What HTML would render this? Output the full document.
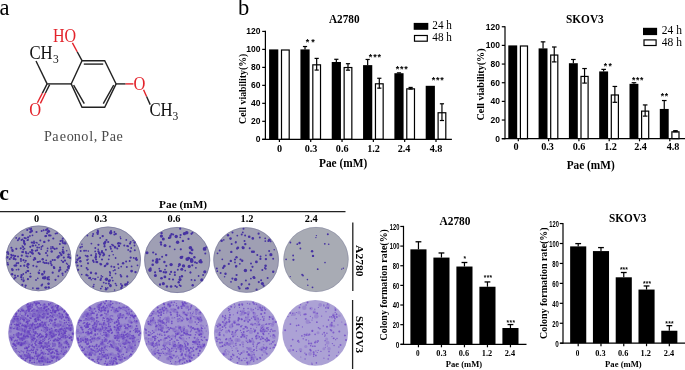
<!DOCTYPE html>
<html><head><meta charset="utf-8"><style>
html,body{margin:0;padding:0;background:#fff;}
svg{display:block;will-change:transform;}
</style></head><body>
<svg width="685" height="370" viewBox="0 0 685 370">
<rect width="685" height="370" fill="#fff"/>
<text x="-0.6" y="15.3" font-family="'Liberation Serif', serif" font-size="22.5" font-weight="normal" fill="#000" text-anchor="start" >a</text>
<path d="M82,60.7 L104.7,60.7 L116.1,83.9 L104.7,107.2 L82,107.2 L71.2,83.9 Z" fill="none" stroke="#222" stroke-width="1.4" stroke-linejoin="miter"/>
<line x1="83.80" y1="64.10" x2="103.20" y2="64.10" stroke="#222" stroke-width="1.4" />
<line x1="73.60" y1="85.20" x2="84.30" y2="103.60" stroke="#222" stroke-width="1.4" />
<line x1="113.70" y1="85.20" x2="103.30" y2="103.60" stroke="#222" stroke-width="1.4" />
<line x1="71.20" y1="83.90" x2="47.10" y2="83.90" stroke="#222" stroke-width="1.4" />
<line x1="47.10" y1="83.90" x2="36.00" y2="61.00" stroke="#222" stroke-width="1.4" />
<line x1="47.10" y1="83.90" x2="42.25" y2="93.35" stroke="#222" stroke-width="1.4" />
<line x1="42.25" y1="93.35" x2="37.40" y2="102.80" stroke="#e3232b" stroke-width="1.4" />
<line x1="49.60" y1="84.60" x2="45.46" y2="93.06" stroke="#222" stroke-width="1.4" />
<line x1="45.46" y1="93.06" x2="40.40" y2="103.40" stroke="#e3232b" stroke-width="1.4" />
<line x1="82.00" y1="60.70" x2="77.20" y2="51.75" stroke="#222" stroke-width="1.4" />
<line x1="77.20" y1="51.75" x2="72.40" y2="42.80" stroke="#e3232b" stroke-width="1.4" />
<line x1="116.10" y1="83.90" x2="125.62" y2="83.90" stroke="#222" stroke-width="1.4" />
<line x1="125.62" y1="83.90" x2="133.40" y2="83.90" stroke="#e3232b" stroke-width="1.4" />
<line x1="143.60" y1="89.80" x2="146.57" y2="96.46" stroke="#e3232b" stroke-width="1.4" />
<line x1="146.57" y1="96.46" x2="150.20" y2="104.60" stroke="#222" stroke-width="1.4" />
<text x="52.9" y="42.3" font-family="'Liberation Serif', serif" font-size="16.5" font-weight="normal" fill="#e3232b" text-anchor="start" textLength="23.2" lengthAdjust="spacingAndGlyphs" transform="translate(0,42.3) scale(1,1.1) translate(0,-42.3)" >HO</text>
<text x="29.4" y="59.0" font-family="'Liberation Serif', serif" font-size="16.5" font-weight="normal" fill="#111" text-anchor="start" textLength="23.2" lengthAdjust="spacingAndGlyphs" transform="translate(0,59.0) scale(1,1.1) translate(0,-59.0)" >CH</text>
<text x="52.9" y="63.4" font-family="'Liberation Serif', serif" font-size="11.5" font-weight="normal" fill="#111" text-anchor="start" transform="translate(0,63.4) scale(1,1.1) translate(0,-63.4)" >3</text>
<text x="29.3" y="115.9" font-family="'Liberation Serif', serif" font-size="16.5" font-weight="normal" fill="#e3232b" text-anchor="start" transform="translate(0,115.9) scale(1,1.1) translate(0,-115.9)" >O</text>
<text x="133.4" y="90.4" font-family="'Liberation Serif', serif" font-size="16.5" font-weight="normal" fill="#e3232b" text-anchor="start" transform="translate(0,90.4) scale(1,1.1) translate(0,-90.4)" >O</text>
<text x="149.4" y="115.6" font-family="'Liberation Serif', serif" font-size="16.5" font-weight="normal" fill="#111" text-anchor="start" textLength="23.2" lengthAdjust="spacingAndGlyphs" transform="translate(0,115.6) scale(1,1.1) translate(0,-115.6)" >CH</text>
<text x="172.5" y="119.8" font-family="'Liberation Serif', serif" font-size="11.5" font-weight="normal" fill="#111" text-anchor="start" transform="translate(0,119.8) scale(1,1.1) translate(0,-119.8)" >3</text>
<g transform="translate(0,140.6) scale(1,1.08) translate(0,-140.6)">
<text x="48.05" y="140.6" font-family="'Liberation Serif', serif" font-size="14.2" font-weight="normal" fill="#4a4a4a" text-anchor="middle" >P</text>
<text x="55.5" y="140.6" font-family="'Liberation Serif', serif" font-size="14.2" font-weight="normal" fill="#4a4a4a" text-anchor="middle" >a</text>
<text x="62.95" y="140.6" font-family="'Liberation Serif', serif" font-size="14.2" font-weight="normal" fill="#4a4a4a" text-anchor="middle" >e</text>
<text x="70.3" y="140.6" font-family="'Liberation Serif', serif" font-size="14.2" font-weight="normal" fill="#4a4a4a" text-anchor="middle" >o</text>
<text x="77.2" y="140.6" font-family="'Liberation Serif', serif" font-size="14.2" font-weight="normal" fill="#4a4a4a" text-anchor="middle" >n</text>
<text x="84.7" y="140.6" font-family="'Liberation Serif', serif" font-size="14.2" font-weight="normal" fill="#4a4a4a" text-anchor="middle" >o</text>
<text x="91.3" y="140.6" font-family="'Liberation Serif', serif" font-size="14.2" font-weight="normal" fill="#4a4a4a" text-anchor="middle" >l</text>
<text x="95.6" y="140.6" font-family="'Liberation Serif', serif" font-size="14.2" font-weight="normal" fill="#4a4a4a" text-anchor="middle" >,</text>
<text x="105.15" y="140.6" font-family="'Liberation Serif', serif" font-size="14.2" font-weight="normal" fill="#4a4a4a" text-anchor="middle" >P</text>
<text x="112.9" y="140.6" font-family="'Liberation Serif', serif" font-size="14.2" font-weight="normal" fill="#4a4a4a" text-anchor="middle" >a</text>
<text x="119.75" y="140.6" font-family="'Liberation Serif', serif" font-size="14.2" font-weight="normal" fill="#4a4a4a" text-anchor="middle" >e</text>
</g>
<text x="238.0" y="15.3" font-family="'Liberation Serif', serif" font-size="22.5" font-weight="normal" fill="#000" text-anchor="start" >b</text>
<rect x="269.10" y="49.40" width="9.20" height="89.90" fill="#000"/>
<rect x="281.50" y="50.00" width="7.70" height="89.30" fill="#fff" stroke="#000" stroke-width="1.2"/>
<line x1="279.40" y1="139.30" x2="279.40" y2="141.90" stroke="#000" stroke-width="1.2" />
<rect x="300.42" y="49.40" width="9.20" height="89.90" fill="#000"/>
<line x1="305.02" y1="49.40" x2="305.02" y2="46.52" stroke="#000" stroke-width="1.2" />
<line x1="302.92" y1="46.52" x2="307.12" y2="46.52" stroke="#000" stroke-width="1.2" />
<rect x="312.82" y="64.83" width="7.70" height="74.47" fill="#fff" stroke="#000" stroke-width="1.2"/>
<line x1="316.67" y1="70.08" x2="316.67" y2="58.39" stroke="#000" stroke-width="1.2" />
<line x1="314.57" y1="58.39" x2="318.77" y2="58.39" stroke="#000" stroke-width="1.2" />
<line x1="314.57" y1="70.08" x2="318.77" y2="70.08" stroke="#000" stroke-width="1.2" />
<line x1="310.72" y1="139.30" x2="310.72" y2="141.90" stroke="#000" stroke-width="1.2" />
<rect x="331.74" y="61.99" width="9.20" height="77.31" fill="#000"/>
<line x1="336.34" y1="61.99" x2="336.34" y2="59.29" stroke="#000" stroke-width="1.2" />
<line x1="334.24" y1="59.29" x2="338.44" y2="59.29" stroke="#000" stroke-width="1.2" />
<rect x="344.14" y="67.53" width="7.70" height="71.77" fill="#fff" stroke="#000" stroke-width="1.2"/>
<line x1="347.99" y1="70.17" x2="347.99" y2="63.69" stroke="#000" stroke-width="1.2" />
<line x1="345.89" y1="63.69" x2="350.09" y2="63.69" stroke="#000" stroke-width="1.2" />
<line x1="345.89" y1="70.17" x2="350.09" y2="70.17" stroke="#000" stroke-width="1.2" />
<line x1="342.04" y1="139.30" x2="342.04" y2="141.90" stroke="#000" stroke-width="1.2" />
<rect x="363.06" y="65.13" width="9.20" height="74.17" fill="#000"/>
<line x1="367.66" y1="65.13" x2="367.66" y2="59.47" stroke="#000" stroke-width="1.2" />
<line x1="365.56" y1="59.47" x2="369.76" y2="59.47" stroke="#000" stroke-width="1.2" />
<rect x="375.46" y="83.80" width="7.70" height="55.50" fill="#fff" stroke="#000" stroke-width="1.2"/>
<line x1="379.31" y1="88.15" x2="379.31" y2="78.26" stroke="#000" stroke-width="1.2" />
<line x1="377.21" y1="78.26" x2="381.41" y2="78.26" stroke="#000" stroke-width="1.2" />
<line x1="377.21" y1="88.15" x2="381.41" y2="88.15" stroke="#000" stroke-width="1.2" />
<line x1="373.36" y1="139.30" x2="373.36" y2="141.90" stroke="#000" stroke-width="1.2" />
<rect x="394.38" y="73.22" width="9.20" height="66.08" fill="#000"/>
<line x1="398.98" y1="73.22" x2="398.98" y2="72.86" stroke="#000" stroke-width="1.2" />
<line x1="396.88" y1="72.86" x2="401.08" y2="72.86" stroke="#000" stroke-width="1.2" />
<rect x="406.78" y="88.84" width="7.70" height="50.46" fill="#fff" stroke="#000" stroke-width="1.2"/>
<line x1="410.63" y1="89.05" x2="410.63" y2="87.43" stroke="#000" stroke-width="1.2" />
<line x1="408.53" y1="87.43" x2="412.73" y2="87.43" stroke="#000" stroke-width="1.2" />
<line x1="408.53" y1="89.05" x2="412.73" y2="89.05" stroke="#000" stroke-width="1.2" />
<line x1="404.68" y1="139.30" x2="404.68" y2="141.90" stroke="#000" stroke-width="1.2" />
<rect x="425.70" y="85.81" width="9.20" height="53.49" fill="#000"/>
<rect x="438.10" y="112.75" width="7.70" height="26.55" fill="#fff" stroke="#000" stroke-width="1.2"/>
<line x1="441.95" y1="120.51" x2="441.95" y2="103.79" stroke="#000" stroke-width="1.2" />
<line x1="439.85" y1="103.79" x2="444.05" y2="103.79" stroke="#000" stroke-width="1.2" />
<line x1="439.85" y1="120.51" x2="444.05" y2="120.51" stroke="#000" stroke-width="1.2" />
<line x1="436.00" y1="139.30" x2="436.00" y2="141.90" stroke="#000" stroke-width="1.2" />
<line x1="265.40" y1="30.82" x2="265.40" y2="139.90" stroke="#000" stroke-width="1.2" />
<line x1="262.20" y1="139.30" x2="451.90" y2="139.30" stroke="#000" stroke-width="1.2" />
<line x1="262.20" y1="139.30" x2="265.40" y2="139.30" stroke="#000" stroke-width="1.2" />
<text x="260.4" y="142.20000000000002" font-family="'Liberation Sans', sans-serif" font-size="8.5" font-weight="bold" fill="#000" text-anchor="end" textLength="4.73" lengthAdjust="spacingAndGlyphs" >0</text>
<line x1="262.20" y1="121.32" x2="265.40" y2="121.32" stroke="#000" stroke-width="1.2" />
<text x="260.4" y="124.22000000000001" font-family="'Liberation Sans', sans-serif" font-size="8.5" font-weight="bold" fill="#000" text-anchor="end" textLength="9.46" lengthAdjust="spacingAndGlyphs" >20</text>
<line x1="262.20" y1="103.34" x2="265.40" y2="103.34" stroke="#000" stroke-width="1.2" />
<text x="260.4" y="106.24000000000001" font-family="'Liberation Sans', sans-serif" font-size="8.5" font-weight="bold" fill="#000" text-anchor="end" textLength="9.46" lengthAdjust="spacingAndGlyphs" >40</text>
<line x1="262.20" y1="85.36" x2="265.40" y2="85.36" stroke="#000" stroke-width="1.2" />
<text x="260.4" y="88.26000000000002" font-family="'Liberation Sans', sans-serif" font-size="8.5" font-weight="bold" fill="#000" text-anchor="end" textLength="9.46" lengthAdjust="spacingAndGlyphs" >60</text>
<line x1="262.20" y1="67.38" x2="265.40" y2="67.38" stroke="#000" stroke-width="1.2" />
<text x="260.4" y="70.28000000000002" font-family="'Liberation Sans', sans-serif" font-size="8.5" font-weight="bold" fill="#000" text-anchor="end" textLength="9.46" lengthAdjust="spacingAndGlyphs" >80</text>
<line x1="262.20" y1="49.40" x2="265.40" y2="49.40" stroke="#000" stroke-width="1.2" />
<text x="260.4" y="52.300000000000004" font-family="'Liberation Sans', sans-serif" font-size="8.5" font-weight="bold" fill="#000" text-anchor="end" textLength="14.190000000000001" lengthAdjust="spacingAndGlyphs" >100</text>
<line x1="262.20" y1="31.42" x2="265.40" y2="31.42" stroke="#000" stroke-width="1.2" />
<text x="260.4" y="34.320000000000014" font-family="'Liberation Sans', sans-serif" font-size="8.5" font-weight="bold" fill="#000" text-anchor="end" textLength="14.190000000000001" lengthAdjust="spacingAndGlyphs" >120</text>
<text x="279.5" y="151.6" font-family="'Liberation Serif', serif" font-size="10.2" font-weight="bold" fill="#000" text-anchor="middle" >0</text>
<text x="311.0" y="151.6" font-family="'Liberation Serif', serif" font-size="10.2" font-weight="bold" fill="#000" text-anchor="middle" >0.3</text>
<text x="342.2" y="151.6" font-family="'Liberation Serif', serif" font-size="10.2" font-weight="bold" fill="#000" text-anchor="middle" >0.6</text>
<text x="373.6" y="151.6" font-family="'Liberation Serif', serif" font-size="10.2" font-weight="bold" fill="#000" text-anchor="middle" >1.2</text>
<text x="404.0" y="151.6" font-family="'Liberation Serif', serif" font-size="10.2" font-weight="bold" fill="#000" text-anchor="middle" >2.4</text>
<text x="436.0" y="151.6" font-family="'Liberation Serif', serif" font-size="10.2" font-weight="bold" fill="#000" text-anchor="middle" >4.8</text>
<text x="307.4" y="45.045" font-family="'Liberation Sans', sans-serif" font-size="9.0" font-weight="bold" fill="#000" text-anchor="middle" >*</text>
<text x="312.9" y="45.045" font-family="'Liberation Sans', sans-serif" font-size="9.0" font-weight="bold" fill="#000" text-anchor="middle" >*</text>
<text x="370.5" y="60.045" font-family="'Liberation Sans', sans-serif" font-size="9.0" font-weight="bold" fill="#000" text-anchor="middle" >*</text>
<text x="374.9" y="60.045" font-family="'Liberation Sans', sans-serif" font-size="9.0" font-weight="bold" fill="#000" text-anchor="middle" >*</text>
<text x="379.3" y="60.045" font-family="'Liberation Sans', sans-serif" font-size="9.0" font-weight="bold" fill="#000" text-anchor="middle" >*</text>
<text x="397.6" y="71.845" font-family="'Liberation Sans', sans-serif" font-size="9.0" font-weight="bold" fill="#000" text-anchor="middle" >*</text>
<text x="401.85" y="71.845" font-family="'Liberation Sans', sans-serif" font-size="9.0" font-weight="bold" fill="#000" text-anchor="middle" >*</text>
<text x="406.1" y="71.845" font-family="'Liberation Sans', sans-serif" font-size="9.0" font-weight="bold" fill="#000" text-anchor="middle" >*</text>
<text x="433.5" y="82.745" font-family="'Liberation Sans', sans-serif" font-size="9.0" font-weight="bold" fill="#000" text-anchor="middle" >*</text>
<text x="437.8" y="82.745" font-family="'Liberation Sans', sans-serif" font-size="9.0" font-weight="bold" fill="#000" text-anchor="middle" >*</text>
<text x="442.1" y="82.745" font-family="'Liberation Sans', sans-serif" font-size="9.0" font-weight="bold" fill="#000" text-anchor="middle" >*</text>
<rect x="508.30" y="45.40" width="8.90" height="93.30" fill="#000"/>
<rect x="520.40" y="46.00" width="7.10" height="92.70" fill="#fff" stroke="#000" stroke-width="1.2"/>
<line x1="518.30" y1="138.70" x2="518.30" y2="141.30" stroke="#000" stroke-width="1.2" />
<rect x="538.60" y="48.39" width="8.90" height="90.31" fill="#000"/>
<line x1="543.05" y1="48.39" x2="543.05" y2="41.85" stroke="#000" stroke-width="1.2" />
<line x1="540.75" y1="41.85" x2="545.35" y2="41.85" stroke="#000" stroke-width="1.2" />
<rect x="550.70" y="55.05" width="7.10" height="83.65" fill="#fff" stroke="#000" stroke-width="1.2"/>
<line x1="554.25" y1="61.91" x2="554.25" y2="46.99" stroke="#000" stroke-width="1.2" />
<line x1="551.95" y1="46.99" x2="556.55" y2="46.99" stroke="#000" stroke-width="1.2" />
<line x1="551.95" y1="61.91" x2="556.55" y2="61.91" stroke="#000" stroke-width="1.2" />
<line x1="548.60" y1="138.70" x2="548.60" y2="141.30" stroke="#000" stroke-width="1.2" />
<rect x="568.90" y="63.22" width="8.90" height="75.48" fill="#000"/>
<line x1="573.35" y1="63.22" x2="573.35" y2="59.49" stroke="#000" stroke-width="1.2" />
<line x1="571.05" y1="59.49" x2="575.65" y2="59.49" stroke="#000" stroke-width="1.2" />
<rect x="581.00" y="76.42" width="7.10" height="62.28" fill="#fff" stroke="#000" stroke-width="1.2"/>
<line x1="584.55" y1="83.09" x2="584.55" y2="68.54" stroke="#000" stroke-width="1.2" />
<line x1="582.25" y1="68.54" x2="586.85" y2="68.54" stroke="#000" stroke-width="1.2" />
<line x1="582.25" y1="83.09" x2="586.85" y2="83.09" stroke="#000" stroke-width="1.2" />
<line x1="578.90" y1="138.70" x2="578.90" y2="141.30" stroke="#000" stroke-width="1.2" />
<rect x="599.20" y="71.43" width="8.90" height="67.27" fill="#000"/>
<line x1="603.65" y1="71.43" x2="603.65" y2="69.38" stroke="#000" stroke-width="1.2" />
<line x1="601.35" y1="69.38" x2="605.95" y2="69.38" stroke="#000" stroke-width="1.2" />
<rect x="611.30" y="94.98" width="7.10" height="43.72" fill="#fff" stroke="#000" stroke-width="1.2"/>
<line x1="614.85" y1="102.31" x2="614.85" y2="86.45" stroke="#000" stroke-width="1.2" />
<line x1="612.55" y1="86.45" x2="617.15" y2="86.45" stroke="#000" stroke-width="1.2" />
<line x1="612.55" y1="102.31" x2="617.15" y2="102.31" stroke="#000" stroke-width="1.2" />
<line x1="609.20" y1="138.70" x2="609.20" y2="141.30" stroke="#000" stroke-width="1.2" />
<rect x="629.50" y="83.84" width="8.90" height="54.86" fill="#000"/>
<line x1="633.95" y1="83.84" x2="633.95" y2="82.72" stroke="#000" stroke-width="1.2" />
<line x1="631.65" y1="82.72" x2="636.25" y2="82.72" stroke="#000" stroke-width="1.2" />
<rect x="641.60" y="111.12" width="7.10" height="27.58" fill="#fff" stroke="#000" stroke-width="1.2"/>
<line x1="645.15" y1="116.12" x2="645.15" y2="104.93" stroke="#000" stroke-width="1.2" />
<line x1="642.85" y1="104.93" x2="647.45" y2="104.93" stroke="#000" stroke-width="1.2" />
<line x1="642.85" y1="116.12" x2="647.45" y2="116.12" stroke="#000" stroke-width="1.2" />
<line x1="639.50" y1="138.70" x2="639.50" y2="141.30" stroke="#000" stroke-width="1.2" />
<rect x="659.80" y="108.94" width="8.90" height="29.76" fill="#000"/>
<line x1="664.25" y1="108.94" x2="664.25" y2="100.54" stroke="#000" stroke-width="1.2" />
<line x1="661.95" y1="100.54" x2="666.55" y2="100.54" stroke="#000" stroke-width="1.2" />
<rect x="671.90" y="131.84" width="7.10" height="6.86" fill="#fff" stroke="#000" stroke-width="1.2"/>
<line x1="675.45" y1="131.80" x2="675.45" y2="130.68" stroke="#000" stroke-width="1.2" />
<line x1="673.15" y1="130.68" x2="677.75" y2="130.68" stroke="#000" stroke-width="1.2" />
<line x1="673.15" y1="131.80" x2="677.75" y2="131.80" stroke="#000" stroke-width="1.2" />
<line x1="669.80" y1="138.70" x2="669.80" y2="141.30" stroke="#000" stroke-width="1.2" />
<line x1="505.00" y1="26.14" x2="505.00" y2="139.30" stroke="#000" stroke-width="1.2" />
<line x1="501.80" y1="138.70" x2="685.00" y2="138.70" stroke="#000" stroke-width="1.2" />
<line x1="501.80" y1="138.70" x2="505.00" y2="138.70" stroke="#000" stroke-width="1.2" />
<text x="500.0" y="141.6" font-family="'Liberation Sans', sans-serif" font-size="8.5" font-weight="bold" fill="#000" text-anchor="end" textLength="4.73" lengthAdjust="spacingAndGlyphs" >0</text>
<line x1="501.80" y1="120.04" x2="505.00" y2="120.04" stroke="#000" stroke-width="1.2" />
<text x="500.0" y="122.94" font-family="'Liberation Sans', sans-serif" font-size="8.5" font-weight="bold" fill="#000" text-anchor="end" textLength="9.46" lengthAdjust="spacingAndGlyphs" >20</text>
<line x1="501.80" y1="101.38" x2="505.00" y2="101.38" stroke="#000" stroke-width="1.2" />
<text x="500.0" y="104.28" font-family="'Liberation Sans', sans-serif" font-size="8.5" font-weight="bold" fill="#000" text-anchor="end" textLength="9.46" lengthAdjust="spacingAndGlyphs" >40</text>
<line x1="501.80" y1="82.72" x2="505.00" y2="82.72" stroke="#000" stroke-width="1.2" />
<text x="500.0" y="85.61999999999999" font-family="'Liberation Sans', sans-serif" font-size="8.5" font-weight="bold" fill="#000" text-anchor="end" textLength="9.46" lengthAdjust="spacingAndGlyphs" >60</text>
<line x1="501.80" y1="64.06" x2="505.00" y2="64.06" stroke="#000" stroke-width="1.2" />
<text x="500.0" y="66.96" font-family="'Liberation Sans', sans-serif" font-size="8.5" font-weight="bold" fill="#000" text-anchor="end" textLength="9.46" lengthAdjust="spacingAndGlyphs" >80</text>
<line x1="501.80" y1="45.40" x2="505.00" y2="45.40" stroke="#000" stroke-width="1.2" />
<text x="500.0" y="48.299999999999976" font-family="'Liberation Sans', sans-serif" font-size="8.5" font-weight="bold" fill="#000" text-anchor="end" textLength="14.190000000000001" lengthAdjust="spacingAndGlyphs" >100</text>
<line x1="501.80" y1="26.74" x2="505.00" y2="26.74" stroke="#000" stroke-width="1.2" />
<text x="500.0" y="29.63999999999998" font-family="'Liberation Sans', sans-serif" font-size="8.5" font-weight="bold" fill="#000" text-anchor="end" textLength="14.190000000000001" lengthAdjust="spacingAndGlyphs" >120</text>
<text x="516.1" y="149.6" font-family="'Liberation Serif', serif" font-size="10.2" font-weight="bold" fill="#000" text-anchor="middle" >0</text>
<text x="547.6" y="149.6" font-family="'Liberation Serif', serif" font-size="10.2" font-weight="bold" fill="#000" text-anchor="middle" >0.3</text>
<text x="579.0" y="149.6" font-family="'Liberation Serif', serif" font-size="10.2" font-weight="bold" fill="#000" text-anchor="middle" >0.6</text>
<text x="610.6" y="149.6" font-family="'Liberation Serif', serif" font-size="10.2" font-weight="bold" fill="#000" text-anchor="middle" >1.2</text>
<text x="640.5" y="149.6" font-family="'Liberation Serif', serif" font-size="10.2" font-weight="bold" fill="#000" text-anchor="middle" >2.4</text>
<text x="673.0" y="149.6" font-family="'Liberation Serif', serif" font-size="10.2" font-weight="bold" fill="#000" text-anchor="middle" >4.8</text>
<text x="605.5" y="69.24300000000001" font-family="'Liberation Sans', sans-serif" font-size="8.6" font-weight="bold" fill="#000" text-anchor="middle" >*</text>
<text x="610.2" y="69.24300000000001" font-family="'Liberation Sans', sans-serif" font-size="8.6" font-weight="bold" fill="#000" text-anchor="middle" >*</text>
<text x="633.6" y="83.343" font-family="'Liberation Sans', sans-serif" font-size="8.6" font-weight="bold" fill="#000" text-anchor="middle" >*</text>
<text x="637.7" y="83.343" font-family="'Liberation Sans', sans-serif" font-size="8.6" font-weight="bold" fill="#000" text-anchor="middle" >*</text>
<text x="641.8" y="83.343" font-family="'Liberation Sans', sans-serif" font-size="8.6" font-weight="bold" fill="#000" text-anchor="middle" >*</text>
<text x="662.4" y="98.74300000000001" font-family="'Liberation Sans', sans-serif" font-size="8.6" font-weight="bold" fill="#000" text-anchor="middle" >*</text>
<text x="666.4" y="98.74300000000001" font-family="'Liberation Sans', sans-serif" font-size="8.6" font-weight="bold" fill="#000" text-anchor="middle" >*</text>
<text x="329.0" y="22.9" font-family="'Liberation Serif', serif" font-size="11.8" font-weight="bold" fill="#000" text-anchor="start" textLength="30.6" lengthAdjust="spacingAndGlyphs" >A2780</text>
<text x="566.0" y="22.9" font-family="'Liberation Serif', serif" font-size="11.8" font-weight="bold" fill="#000" text-anchor="start" textLength="37.8" lengthAdjust="spacingAndGlyphs" >SKOV3</text>
<text transform="translate(245.6,123.9) rotate(-90)" font-family="'Liberation Serif', serif" font-size="10.6" font-weight="bold" textLength="70.3" lengthAdjust="spacingAndGlyphs">Cell viability(%)</text>
<text transform="translate(484.0,120.5) rotate(-90)" font-family="'Liberation Serif', serif" font-size="10.6" font-weight="bold" textLength="72.0" lengthAdjust="spacingAndGlyphs">Cell viability(%)</text>
<text x="319.0" y="166.9" font-family="'Liberation Serif', serif" font-size="11.8" font-weight="bold" fill="#000" text-anchor="start" textLength="48.2" lengthAdjust="spacingAndGlyphs" >Pae (mM)</text>
<text x="566.7" y="168.9" font-family="'Liberation Serif', serif" font-size="11.8" font-weight="bold" fill="#000" text-anchor="start" textLength="48.0" lengthAdjust="spacingAndGlyphs" >Pae (mM)</text>
<rect x="413.70" y="22.90" width="14.60" height="6.90" fill="#000"/>
<rect x="414.50" y="35.50" width="12.80" height="5.70" fill="#fff" stroke="#000" stroke-width="1.2"/>
<text x="432.3" y="29.3" font-family="'Liberation Serif', serif" font-size="12" font-weight="normal" fill="#000" text-anchor="start" textLength="19.6" lengthAdjust="spacingAndGlyphs" >24 h</text>
<text x="432.3" y="41.0" font-family="'Liberation Serif', serif" font-size="12" font-weight="normal" fill="#000" text-anchor="start" textLength="19.6" lengthAdjust="spacingAndGlyphs" >48 h</text>
<rect x="643.00" y="27.80" width="14.10" height="7.30" fill="#000"/>
<rect x="644.00" y="39.90" width="12.10" height="5.60" fill="#fff" stroke="#000" stroke-width="1.2"/>
<text x="661.8" y="34.2" font-family="'Liberation Serif', serif" font-size="12" font-weight="normal" fill="#000" text-anchor="start" textLength="20.1" lengthAdjust="spacingAndGlyphs" >24 h</text>
<text x="661.8" y="46.0" font-family="'Liberation Serif', serif" font-size="12" font-weight="normal" fill="#000" text-anchor="start" textLength="20.1" lengthAdjust="spacingAndGlyphs" >48 h</text>
<text x="-0.7" y="200.1" font-family="'Liberation Serif', serif" font-size="21.7" font-weight="bold" fill="#000" text-anchor="start" >c</text>
<line x1="0.00" y1="211.60" x2="345.50" y2="211.60" stroke="#222" stroke-width="1.3" />
<text x="159.1" y="208.3" font-family="'Liberation Serif', serif" font-size="11.3" font-weight="bold" fill="#000" text-anchor="start" textLength="48" lengthAdjust="spacingAndGlyphs" >Pae (mM)</text>
<text x="36.5" y="222.0" font-family="'Liberation Serif', serif" font-size="10.4" font-weight="bold" fill="#000" text-anchor="middle" >0</text>
<text x="100.7" y="222.0" font-family="'Liberation Serif', serif" font-size="10.4" font-weight="bold" fill="#000" text-anchor="middle" >0.3</text>
<text x="174.0" y="222.0" font-family="'Liberation Serif', serif" font-size="10.4" font-weight="bold" fill="#000" text-anchor="middle" >0.6</text>
<text x="247.0" y="222.0" font-family="'Liberation Serif', serif" font-size="10.4" font-weight="bold" fill="#000" text-anchor="middle" >1.2</text>
<text x="311.2" y="222.0" font-family="'Liberation Serif', serif" font-size="10.4" font-weight="bold" fill="#000" text-anchor="middle" >2.4</text>
<line x1="352.80" y1="222.40" x2="352.80" y2="291.00" stroke="#222" stroke-width="1.3" />
<line x1="352.60" y1="300.00" x2="352.60" y2="369.00" stroke="#222" stroke-width="1.3" />
<text transform="translate(356.0,245.0) rotate(90)" font-family="'Liberation Serif', serif" font-size="10.2" font-weight="bold" textLength="31.6" lengthAdjust="spacingAndGlyphs">A2780</text>
<text transform="translate(356.0,316.0) rotate(90)" font-family="'Liberation Serif', serif" font-size="10.2" font-weight="bold" textLength="37.0" lengthAdjust="spacingAndGlyphs">SKOV3</text>
<circle cx="38.6" cy="258.4" r="32.8" fill="rgb(158, 157, 180)"/>
<g fill="rgb(70, 50, 162)" fill-opacity="1.0">
<circle cx="16.0" cy="265.4" r="1.2"/>
<circle cx="16.6" cy="263.2" r="1.0"/>
<circle cx="47.6" cy="279.1" r="1.1"/>
<circle cx="41.2" cy="249.1" r="0.9"/>
<circle cx="62.5" cy="273.7" r="1.1"/>
<circle cx="68.8" cy="266.5" r="1.2"/>
<circle cx="24.5" cy="238.0" r="0.9"/>
<circle cx="61.5" cy="260.6" r="0.8"/>
<circle cx="44.3" cy="272.9" r="0.8"/>
<circle cx="18.2" cy="263.1" r="1.1"/>
<circle cx="13.5" cy="255.4" r="1.0"/>
<circle cx="27.4" cy="240.2" r="0.9"/>
<circle cx="70.1" cy="257.9" r="1.1"/>
<circle cx="34.0" cy="241.3" r="0.9"/>
<circle cx="36.6" cy="266.5" r="1.1"/>
<circle cx="15.0" cy="275.4" r="1.0"/>
<circle cx="66.7" cy="250.8" r="0.8"/>
<circle cx="46.1" cy="287.6" r="1.0"/>
<circle cx="58.4" cy="255.9" r="0.8"/>
<circle cx="19.4" cy="238.1" r="0.9"/>
<circle cx="54.2" cy="267.9" r="1.2"/>
<circle cx="39.1" cy="247.6" r="0.9"/>
<circle cx="44.8" cy="263.0" r="1.1"/>
<circle cx="49.0" cy="279.6" r="1.0"/>
<circle cx="48.4" cy="283.6" r="0.9"/>
<circle cx="31.9" cy="249.9" r="1.0"/>
<circle cx="42.4" cy="274.4" r="1.2"/>
<circle cx="44.3" cy="241.9" r="1.2"/>
<circle cx="43.4" cy="277.6" r="1.1"/>
<circle cx="32.3" cy="250.6" r="1.2"/>
<circle cx="42.3" cy="274.0" r="1.1"/>
<circle cx="30.4" cy="273.5" r="0.8"/>
<circle cx="59.0" cy="271.3" r="0.9"/>
<circle cx="23.1" cy="247.0" r="1.0"/>
<circle cx="59.9" cy="252.8" r="1.0"/>
<circle cx="47.6" cy="248.4" r="0.9"/>
<circle cx="62.6" cy="242.8" r="0.9"/>
<circle cx="48.6" cy="283.7" r="1.2"/>
<circle cx="48.7" cy="287.5" r="1.2"/>
<circle cx="22.3" cy="246.0" r="0.8"/>
<circle cx="68.7" cy="265.9" r="0.9"/>
<circle cx="34.1" cy="243.0" r="1.1"/>
<circle cx="24.5" cy="248.6" r="0.9"/>
<circle cx="37.1" cy="250.3" r="0.9"/>
<circle cx="11.4" cy="247.8" r="1.0"/>
<circle cx="32.9" cy="288.1" r="0.9"/>
<circle cx="54.9" cy="260.1" r="1.0"/>
<circle cx="50.9" cy="263.3" r="0.9"/>
<circle cx="28.3" cy="253.4" r="0.9"/>
<circle cx="62.8" cy="238.6" r="1.1"/>
<circle cx="29.9" cy="235.9" r="0.9"/>
<circle cx="42.7" cy="259.3" r="1.2"/>
<circle cx="29.2" cy="228.9" r="0.8"/>
<circle cx="24.2" cy="241.8" r="1.1"/>
<circle cx="25.3" cy="287.1" r="0.8"/>
<circle cx="12.6" cy="250.7" r="1.2"/>
<circle cx="36.5" cy="232.0" r="1.1"/>
<circle cx="54.7" cy="248.9" r="1.1"/>
<circle cx="62.6" cy="241.2" r="1.0"/>
<circle cx="46.0" cy="230.0" r="1.0"/>
<circle cx="24.8" cy="244.6" r="1.0"/>
<circle cx="31.7" cy="252.7" r="1.1"/>
<circle cx="68.2" cy="257.2" r="1.1"/>
<circle cx="17.9" cy="275.9" r="1.0"/>
<circle cx="11.7" cy="269.0" r="0.8"/>
<circle cx="38.6" cy="252.9" r="1.0"/>
<circle cx="23.5" cy="260.2" r="1.1"/>
<circle cx="13.8" cy="258.8" r="1.2"/>
<circle cx="38.5" cy="261.8" r="0.9"/>
<circle cx="32.4" cy="245.6" r="0.9"/>
<circle cx="59.9" cy="244.1" r="1.0"/>
<circle cx="52.6" cy="247.0" r="1.1"/>
<circle cx="45.2" cy="278.1" r="1.1"/>
<circle cx="64.0" cy="243.2" r="1.0"/>
<circle cx="23.2" cy="249.5" r="0.9"/>
<circle cx="9.7" cy="259.0" r="1.1"/>
<circle cx="31.2" cy="228.5" r="0.9"/>
<circle cx="48.9" cy="276.9" r="0.9"/>
<circle cx="43.1" cy="278.2" r="1.1"/>
<circle cx="20.9" cy="259.1" r="1.1"/>
<circle cx="59.7" cy="256.0" r="0.8"/>
<circle cx="67.5" cy="264.2" r="0.8"/>
<circle cx="32.5" cy="235.3" r="0.9"/>
<circle cx="39.7" cy="254.2" r="0.9"/>
<circle cx="33.8" cy="259.8" r="1.1"/>
<circle cx="39.5" cy="270.2" r="0.8"/>
<circle cx="24.1" cy="243.1" r="1.1"/>
<circle cx="22.6" cy="234.9" r="1.2"/>
<circle cx="33.0" cy="245.5" r="1.0"/>
<circle cx="40.0" cy="261.4" r="1.0"/>
<circle cx="35.6" cy="245.4" r="0.9"/>
<circle cx="23.7" cy="280.2" r="1.0"/>
<circle cx="17.9" cy="240.3" r="1.0"/>
<circle cx="46.4" cy="229.4" r="0.8"/>
<circle cx="63.1" cy="247.4" r="0.9"/>
<circle cx="14.7" cy="265.6" r="1.2"/>
<circle cx="21.6" cy="275.1" r="1.2"/>
<circle cx="47.5" cy="229.0" r="1.0"/>
<circle cx="30.3" cy="246.8" r="1.1"/>
<circle cx="49.1" cy="235.4" r="1.1"/>
<circle cx="45.5" cy="287.6" r="1.2"/>
<circle cx="61.5" cy="255.1" r="1.1"/>
<circle cx="25.7" cy="285.6" r="1.1"/>
<circle cx="33.3" cy="265.8" r="1.0"/>
<circle cx="12.3" cy="249.8" r="1.0"/>
<circle cx="66.6" cy="263.4" r="0.8"/>
<circle cx="42.6" cy="245.9" r="0.9"/>
<circle cx="41.4" cy="246.9" r="0.9"/>
<circle cx="11.9" cy="255.6" r="1.1"/>
<circle cx="27.2" cy="229.9" r="1.0"/>
<circle cx="47.4" cy="255.5" r="0.9"/>
<circle cx="21.8" cy="255.6" r="1.1"/>
<circle cx="23.9" cy="240.9" r="1.1"/>
<circle cx="22.2" cy="251.9" r="1.0"/>
<circle cx="55.5" cy="233.6" r="0.9"/>
<circle cx="57.0" cy="233.3" r="1.0"/>
<circle cx="25.9" cy="252.1" r="1.0"/>
<circle cx="14.0" cy="257.9" r="0.8"/>
<circle cx="60.9" cy="254.1" r="1.0"/>
<circle cx="46.1" cy="235.9" r="1.0"/>
<circle cx="35.7" cy="250.8" r="1.0"/>
<circle cx="12.1" cy="274.3" r="1.2"/>
<circle cx="36.0" cy="280.0" r="0.9"/>
<circle cx="12.5" cy="270.0" r="1.2"/>
<circle cx="21.0" cy="261.0" r="0.9"/>
<circle cx="16.2" cy="237.9" r="0.9"/>
<circle cx="39.5" cy="253.7" r="0.9"/>
<circle cx="42.3" cy="284.3" r="0.9"/>
<circle cx="23.3" cy="278.0" r="0.8"/>
<circle cx="37.3" cy="247.4" r="1.0"/>
<circle cx="38.6" cy="272.5" r="1.0"/>
<circle cx="20.7" cy="265.9" r="1.0"/>
<circle cx="26.2" cy="256.1" r="0.9"/>
<circle cx="21.5" cy="239.9" r="1.0"/>
<circle cx="53.3" cy="238.5" r="1.1"/>
<circle cx="41.6" cy="285.4" r="1.1"/>
<circle cx="53.1" cy="248.2" r="0.9"/>
<circle cx="51.7" cy="251.5" r="1.2"/>
<circle cx="47.4" cy="250.9" r="0.9"/>
<circle cx="36.2" cy="242.5" r="0.8"/>
<circle cx="48.7" cy="240.6" r="1.1"/>
<circle cx="52.7" cy="272.7" r="1.1"/>
<circle cx="52.7" cy="260.0" r="1.1"/>
<circle cx="65.0" cy="242.0" r="0.8"/>
<circle cx="11.1" cy="257.4" r="1.0"/>
<circle cx="33.2" cy="245.8" r="0.8"/>
<circle cx="43.4" cy="262.2" r="1.0"/>
<circle cx="14.9" cy="256.2" r="0.9"/>
<circle cx="44.3" cy="271.5" r="1.1"/>
<circle cx="69.0" cy="256.5" r="0.8"/>
<circle cx="67.1" cy="270.1" r="1.0"/>
<circle cx="40.3" cy="240.4" r="1.0"/>
<circle cx="18.0" cy="256.4" r="1.0"/>
<circle cx="65.0" cy="260.6" r="1.1"/>
<circle cx="47.5" cy="277.7" r="1.1"/>
<circle cx="27.0" cy="266.2" r="0.9"/>
<circle cx="34.7" cy="258.1" r="1.2"/>
<circle cx="47.1" cy="233.3" r="1.1"/>
<circle cx="24.8" cy="243.8" r="1.0"/>
<circle cx="7.3" cy="257.6" r="1.1"/>
<circle cx="37.0" cy="288.5" r="1.1"/>
<circle cx="43.6" cy="230.3" r="1.0"/>
<circle cx="62.2" cy="240.5" r="1.1"/>
<circle cx="41.6" cy="230.9" r="1.0"/>
<circle cx="37.2" cy="250.1" r="0.9"/>
<circle cx="35.4" cy="259.0" r="0.9"/>
<circle cx="22.5" cy="239.3" r="0.9"/>
<circle cx="62.8" cy="249.6" r="0.9"/>
<circle cx="25.8" cy="238.3" r="1.0"/>
<circle cx="14.3" cy="278.6" r="1.1"/>
<circle cx="30.3" cy="232.1" r="1.2"/>
<circle cx="63.1" cy="261.9" r="1.1"/>
<circle cx="37.8" cy="278.4" r="0.8"/>
<circle cx="45.1" cy="276.6" r="0.8"/>
<circle cx="38.4" cy="288.5" r="1.0"/>
<circle cx="7.6" cy="256.9" r="1.0"/>
<circle cx="63.8" cy="257.6" r="1.1"/>
<circle cx="60.3" cy="269.7" r="1.1"/>
<circle cx="67.9" cy="266.9" r="0.9"/>
<circle cx="25.8" cy="260.7" r="1.0"/>
<circle cx="32.7" cy="253.5" r="1.2"/>
<circle cx="18.5" cy="269.4" r="1.0"/>
<circle cx="27.4" cy="271.0" r="1.1"/>
<circle cx="23.0" cy="252.1" r="1.1"/>
<circle cx="37.5" cy="262.0" r="0.9"/>
<circle cx="50.7" cy="261.7" r="1.1"/>
<circle cx="15.5" cy="277.5" r="1.1"/>
<circle cx="68.5" cy="268.1" r="1.2"/>
<circle cx="65.5" cy="271.8" r="1.0"/>
<circle cx="7.7" cy="262.8" r="0.9"/>
<circle cx="8.3" cy="253.9" r="1.1"/>
<circle cx="8.0" cy="264.6" r="1.1"/>
<circle cx="30.1" cy="251.9" r="1.0"/>
<circle cx="24.9" cy="262.3" r="0.8"/>
<circle cx="27.6" cy="256.4" r="1.0"/>
<circle cx="28.1" cy="239.8" r="0.9"/>
<circle cx="20.8" cy="248.3" r="1.1"/>
<circle cx="7.6" cy="252.3" r="1.2"/>
<circle cx="37.1" cy="243.0" r="0.8"/>
<circle cx="60.5" cy="240.9" r="1.0"/>
<circle cx="28.2" cy="271.1" r="1.1"/>
<circle cx="16.3" cy="248.8" r="1.1"/>
<circle cx="38.9" cy="244.6" r="0.9"/>
<circle cx="68.6" cy="254.6" r="1.2"/>
<circle cx="46.2" cy="260.3" r="0.9"/>
<circle cx="16.4" cy="269.7" r="0.8"/>
<circle cx="30.4" cy="256.2" r="0.8"/>
<circle cx="28.1" cy="237.4" r="1.1"/>
<circle cx="23.3" cy="274.0" r="0.9"/>
<circle cx="23.5" cy="281.1" r="1.1"/>
<circle cx="48.4" cy="263.3" r="1.1"/>
<circle cx="18.9" cy="239.0" r="0.9"/>
<circle cx="24.3" cy="265.7" r="1.1"/>
<circle cx="21.2" cy="277.1" r="1.2"/>
<circle cx="27.9" cy="279.2" r="1.1"/>
<circle cx="56.8" cy="248.5" r="0.9"/>
<circle cx="62.8" cy="275.3" r="0.8"/>
<circle cx="59.2" cy="270.2" r="1.0"/>
<circle cx="31.8" cy="242.5" r="1.1"/>
<circle cx="51.6" cy="265.1" r="1.1"/>
<circle cx="53.8" cy="267.0" r="1.1"/>
<circle cx="32.8" cy="242.6" r="0.9"/>
<circle cx="21.7" cy="279.4" r="0.9"/>
<circle cx="58.3" cy="276.3" r="1.0"/>
<circle cx="65.3" cy="243.4" r="1.2"/>
<circle cx="12.4" cy="269.2" r="0.9"/>
<circle cx="30.4" cy="276.6" r="1.2"/>
<circle cx="51.0" cy="248.7" r="0.9"/>
<circle cx="26.0" cy="272.6" r="1.0"/>
<circle cx="28.0" cy="267.5" r="1.0"/>
<circle cx="45.4" cy="236.2" r="1.1"/>
<circle cx="26.3" cy="253.3" r="1.1"/>
<circle cx="50.9" cy="247.0" r="0.8"/>
<circle cx="15.4" cy="256.1" r="1.0"/>
<circle cx="63.5" cy="253.1" r="1.1"/>
<circle cx="60.1" cy="267.6" r="1.1"/>
<circle cx="46.4" cy="263.0" r="1.1"/>
<circle cx="46.0" cy="253.0" r="1.1"/>
<circle cx="55.5" cy="279.8" r="1.1"/>
<circle cx="39.0" cy="273.2" r="1.1"/>
<circle cx="11.2" cy="254.7" r="1.0"/>
<circle cx="22.3" cy="284.9" r="1.1"/>
<circle cx="15.5" cy="259.3" r="1.1"/>
<circle cx="30.7" cy="229.2" r="1.0"/>
<circle cx="50.5" cy="235.5" r="1.1"/>
<circle cx="48.5" cy="231.3" r="1.6"/>
<circle cx="63.0" cy="251.8" r="1.5"/>
<circle cx="31.6" cy="231.0" r="1.4"/>
<circle cx="28.0" cy="264.2" r="1.5"/>
<circle cx="57.9" cy="257.3" r="1.4"/>
<circle cx="44.4" cy="278.2" r="1.4"/>
</g>
<circle cx="38.6" cy="258.4" r="32.4" fill="none" stroke="rgba(90,90,140,0.5)" stroke-width="0.8"/>
<circle cx="108.0" cy="259.5" r="32.9" fill="rgb(159, 159, 180)"/>
<g fill="rgb(70, 50, 162)" fill-opacity="1.0">
<circle cx="115.6" cy="258.0" r="0.9"/>
<circle cx="127.2" cy="276.4" r="1.1"/>
<circle cx="111.4" cy="266.6" r="1.0"/>
<circle cx="81.9" cy="244.3" r="0.8"/>
<circle cx="118.6" cy="268.1" r="0.9"/>
<circle cx="110.5" cy="286.2" r="1.1"/>
<circle cx="110.2" cy="273.0" r="0.9"/>
<circle cx="120.9" cy="283.9" r="0.9"/>
<circle cx="80.7" cy="250.9" r="1.0"/>
<circle cx="106.0" cy="289.3" r="1.2"/>
<circle cx="95.2" cy="279.1" r="1.2"/>
<circle cx="93.2" cy="261.1" r="0.8"/>
<circle cx="134.8" cy="250.3" r="1.0"/>
<circle cx="85.6" cy="255.6" r="0.9"/>
<circle cx="133.7" cy="257.9" r="0.9"/>
<circle cx="129.7" cy="261.0" r="1.0"/>
<circle cx="115.8" cy="233.9" r="1.1"/>
<circle cx="114.9" cy="270.0" r="0.9"/>
<circle cx="106.3" cy="289.0" r="1.0"/>
<circle cx="87.4" cy="235.5" r="0.9"/>
<circle cx="96.0" cy="256.8" r="1.1"/>
<circle cx="136.7" cy="259.7" r="1.2"/>
<circle cx="112.0" cy="251.3" r="0.9"/>
<circle cx="105.9" cy="249.8" r="1.0"/>
<circle cx="77.6" cy="265.6" r="1.1"/>
<circle cx="118.9" cy="245.9" r="1.2"/>
<circle cx="81.7" cy="274.6" r="0.8"/>
<circle cx="114.7" cy="246.7" r="1.0"/>
<circle cx="95.6" cy="257.5" r="1.2"/>
<circle cx="101.3" cy="275.9" r="0.8"/>
<circle cx="100.6" cy="279.9" r="1.1"/>
<circle cx="91.3" cy="279.8" r="0.8"/>
<circle cx="91.0" cy="272.8" r="1.2"/>
<circle cx="120.3" cy="237.0" r="0.8"/>
<circle cx="88.9" cy="278.1" r="0.9"/>
<circle cx="88.3" cy="251.1" r="0.8"/>
<circle cx="136.3" cy="258.0" r="0.9"/>
<circle cx="95.3" cy="248.1" r="1.0"/>
<circle cx="91.2" cy="255.2" r="1.0"/>
<circle cx="87.8" cy="275.7" r="0.9"/>
<circle cx="116.4" cy="285.3" r="0.9"/>
<circle cx="130.4" cy="251.4" r="1.1"/>
<circle cx="93.9" cy="284.6" r="0.8"/>
<circle cx="114.2" cy="267.0" r="1.1"/>
<circle cx="104.5" cy="246.5" r="1.0"/>
<circle cx="120.7" cy="238.6" r="0.8"/>
<circle cx="109.8" cy="271.9" r="0.9"/>
<circle cx="100.9" cy="264.2" r="1.2"/>
<circle cx="87.7" cy="269.5" r="1.1"/>
<circle cx="111.0" cy="230.9" r="1.0"/>
<circle cx="98.0" cy="277.2" r="0.8"/>
<circle cx="86.5" cy="275.0" r="1.2"/>
<circle cx="114.4" cy="234.5" r="1.1"/>
<circle cx="126.1" cy="261.6" r="1.0"/>
<circle cx="102.0" cy="251.1" r="1.0"/>
<circle cx="79.9" cy="257.8" r="1.2"/>
<circle cx="98.4" cy="251.4" r="1.1"/>
<circle cx="127.2" cy="246.1" r="1.0"/>
<circle cx="96.1" cy="259.5" r="1.1"/>
<circle cx="130.7" cy="257.6" r="1.1"/>
<circle cx="115.2" cy="247.4" r="1.2"/>
<circle cx="98.2" cy="249.4" r="0.8"/>
<circle cx="108.8" cy="283.6" r="1.1"/>
<circle cx="93.4" cy="286.4" r="1.0"/>
<circle cx="97.1" cy="262.1" r="1.2"/>
<circle cx="127.8" cy="282.2" r="1.0"/>
<circle cx="86.0" cy="250.7" r="0.9"/>
<circle cx="134.6" cy="242.5" r="1.2"/>
<circle cx="99.1" cy="252.9" r="1.2"/>
<circle cx="100.8" cy="288.6" r="0.9"/>
<circle cx="82.1" cy="246.6" r="0.9"/>
<circle cx="99.6" cy="256.9" r="0.8"/>
<circle cx="121.4" cy="288.0" r="1.2"/>
<circle cx="98.4" cy="244.8" r="1.1"/>
<circle cx="106.5" cy="240.0" r="1.1"/>
<circle cx="109.3" cy="255.7" r="0.9"/>
<circle cx="96.3" cy="261.9" r="1.0"/>
<circle cx="96.0" cy="253.9" r="1.0"/>
<circle cx="106.0" cy="283.3" r="0.9"/>
<circle cx="104.1" cy="254.7" r="1.1"/>
<circle cx="127.1" cy="284.0" r="1.1"/>
<circle cx="88.0" cy="263.3" r="1.1"/>
<circle cx="97.7" cy="233.9" r="1.1"/>
<circle cx="76.5" cy="262.3" r="1.2"/>
<circle cx="120.4" cy="243.5" r="1.0"/>
<circle cx="80.4" cy="247.4" r="1.0"/>
<circle cx="87.4" cy="256.2" r="1.2"/>
<circle cx="104.8" cy="266.2" r="1.1"/>
<circle cx="130.0" cy="243.6" r="1.1"/>
<circle cx="108.2" cy="242.0" r="1.1"/>
<circle cx="118.1" cy="264.2" r="1.0"/>
<circle cx="88.0" cy="259.2" r="0.8"/>
<circle cx="100.2" cy="237.9" r="0.9"/>
<circle cx="101.1" cy="278.2" r="0.9"/>
<circle cx="135.5" cy="272.1" r="1.2"/>
<circle cx="93.1" cy="234.0" r="1.0"/>
<circle cx="113.1" cy="245.5" r="1.1"/>
<circle cx="80.5" cy="247.2" r="0.8"/>
<circle cx="110.9" cy="248.7" r="1.0"/>
<circle cx="108.7" cy="259.3" r="0.9"/>
<circle cx="102.5" cy="276.7" r="0.8"/>
<circle cx="130.6" cy="242.0" r="1.0"/>
<circle cx="93.0" cy="278.5" r="0.8"/>
<circle cx="137.5" cy="265.3" r="0.9"/>
<circle cx="77.4" cy="259.8" r="1.2"/>
<circle cx="93.8" cy="262.0" r="0.9"/>
<circle cx="134.5" cy="245.5" r="0.9"/>
<circle cx="117.9" cy="243.4" r="1.0"/>
<circle cx="122.0" cy="285.7" r="1.2"/>
<circle cx="115.5" cy="283.6" r="0.9"/>
<circle cx="113.2" cy="254.7" r="0.8"/>
<circle cx="105.3" cy="242.0" r="1.2"/>
<circle cx="126.3" cy="239.9" r="0.9"/>
<circle cx="97.8" cy="230.6" r="1.0"/>
<circle cx="121.2" cy="266.6" r="0.9"/>
<circle cx="104.6" cy="245.9" r="0.9"/>
<circle cx="110.4" cy="285.2" r="1.2"/>
<circle cx="90.0" cy="278.0" r="1.2"/>
<circle cx="95.2" cy="251.4" r="0.9"/>
<circle cx="131.2" cy="248.0" r="0.9"/>
<circle cx="101.9" cy="252.2" r="1.2"/>
<circle cx="86.6" cy="267.9" r="1.0"/>
<circle cx="131.6" cy="266.4" r="0.9"/>
<circle cx="107.8" cy="287.9" r="0.8"/>
<circle cx="102.0" cy="286.4" r="0.9"/>
<circle cx="103.7" cy="282.6" r="0.9"/>
<circle cx="133.1" cy="240.5" r="0.8"/>
<circle cx="81.3" cy="266.1" r="1.0"/>
<circle cx="128.2" cy="249.9" r="0.9"/>
<circle cx="84.1" cy="250.7" r="1.0"/>
<circle cx="92.7" cy="236.0" r="1.0"/>
<circle cx="78.9" cy="258.5" r="1.1"/>
<circle cx="77.3" cy="255.5" r="0.9"/>
<circle cx="110.4" cy="246.8" r="1.1"/>
<circle cx="109.9" cy="280.4" r="1.1"/>
<circle cx="114.4" cy="232.0" r="0.9"/>
<circle cx="93.1" cy="260.5" r="1.1"/>
<circle cx="102.0" cy="259.5" r="1.1"/>
<circle cx="102.7" cy="236.1" r="1.2"/>
<circle cx="113.3" cy="270.7" r="0.8"/>
<circle cx="87.1" cy="260.0" r="1.0"/>
<circle cx="105.7" cy="287.7" r="0.8"/>
<circle cx="128.0" cy="246.3" r="1.0"/>
<circle cx="112.0" cy="244.6" r="0.9"/>
<circle cx="105.6" cy="265.5" r="0.9"/>
<circle cx="91.4" cy="243.6" r="0.9"/>
<circle cx="100.0" cy="254.5" r="1.2"/>
<circle cx="115.6" cy="273.6" r="0.9"/>
<circle cx="97.5" cy="232.6" r="1.2"/>
<circle cx="126.8" cy="267.1" r="1.0"/>
<circle cx="114.6" cy="290.0" r="0.8"/>
<circle cx="80.4" cy="261.3" r="1.2"/>
<circle cx="121.2" cy="276.4" r="1.1"/>
<circle cx="123.1" cy="263.3" r="1.2"/>
<circle cx="120.5" cy="274.9" r="0.9"/>
<circle cx="100.2" cy="263.5" r="0.8"/>
<circle cx="135.7" cy="258.8" r="1.1"/>
<circle cx="110.0" cy="275.3" r="1.0"/>
<circle cx="109.1" cy="281.0" r="1.2"/>
<circle cx="95.9" cy="273.4" r="1.2"/>
<circle cx="103.2" cy="255.4" r="1.0"/>
<circle cx="103.5" cy="253.3" r="1.0"/>
<circle cx="98.0" cy="231.8" r="1.1"/>
<circle cx="124.3" cy="245.4" r="1.0"/>
<circle cx="118.8" cy="243.2" r="1.2"/>
<circle cx="112.0" cy="277.7" r="0.9"/>
<circle cx="95.8" cy="255.6" r="0.9"/>
<circle cx="112.8" cy="280.6" r="0.9"/>
<circle cx="78.1" cy="269.8" r="1.1"/>
<circle cx="117.3" cy="248.6" r="1.0"/>
<circle cx="131.6" cy="271.1" r="1.4"/>
<circle cx="107.3" cy="263.8" r="1.4"/>
<circle cx="106.5" cy="279.3" r="1.7"/>
<circle cx="104.4" cy="243.5" r="1.4"/>
<circle cx="125.5" cy="284.7" r="1.4"/>
<circle cx="110.7" cy="232.7" r="1.7"/>
</g>
<circle cx="108.0" cy="259.5" r="32.5" fill="none" stroke="rgba(90,90,140,0.5)" stroke-width="0.8"/>
<circle cx="177.2" cy="260.0" r="33.0" fill="rgb(159, 159, 180)"/>
<g fill="rgb(70, 50, 162)" fill-opacity="1.0">
<circle cx="195.1" cy="262.3" r="1.1"/>
<circle cx="203.1" cy="274.9" r="1.0"/>
<circle cx="180.2" cy="237.3" r="0.9"/>
<circle cx="165.0" cy="269.6" r="0.9"/>
<circle cx="191.5" cy="279.9" r="0.9"/>
<circle cx="169.3" cy="279.1" r="1.1"/>
<circle cx="194.8" cy="280.2" r="1.0"/>
<circle cx="173.2" cy="234.4" r="1.0"/>
<circle cx="181.9" cy="276.2" r="1.2"/>
<circle cx="160.8" cy="271.1" r="1.2"/>
<circle cx="179.8" cy="277.0" r="1.0"/>
<circle cx="178.6" cy="266.3" r="0.9"/>
<circle cx="160.9" cy="242.5" r="1.2"/>
<circle cx="194.4" cy="257.3" r="1.2"/>
<circle cx="190.1" cy="252.8" r="1.2"/>
<circle cx="161.6" cy="233.1" r="1.2"/>
<circle cx="179.6" cy="285.2" r="0.9"/>
<circle cx="159.3" cy="268.7" r="0.9"/>
<circle cx="163.7" cy="272.2" r="1.1"/>
<circle cx="174.8" cy="272.4" r="1.1"/>
<circle cx="164.4" cy="262.0" r="1.2"/>
<circle cx="177.8" cy="269.7" r="1.0"/>
<circle cx="166.3" cy="265.8" r="1.1"/>
<circle cx="170.1" cy="237.4" r="1.2"/>
<circle cx="196.9" cy="262.9" r="1.0"/>
<circle cx="195.9" cy="267.8" r="0.9"/>
<circle cx="152.9" cy="260.7" r="1.1"/>
<circle cx="169.9" cy="274.2" r="0.9"/>
<circle cx="160.0" cy="284.6" r="1.1"/>
<circle cx="175.3" cy="285.9" r="1.0"/>
<circle cx="152.7" cy="264.8" r="1.3"/>
<circle cx="161.5" cy="278.3" r="1.3"/>
<circle cx="180.6" cy="235.0" r="1.1"/>
<circle cx="159.8" cy="270.9" r="1.0"/>
<circle cx="191.5" cy="233.8" r="1.1"/>
<circle cx="182.4" cy="256.7" r="1.0"/>
<circle cx="159.6" cy="259.2" r="1.0"/>
<circle cx="189.4" cy="258.2" r="1.0"/>
<circle cx="180.7" cy="286.0" r="1.0"/>
<circle cx="200.7" cy="260.1" r="1.1"/>
<circle cx="178.7" cy="282.3" r="1.2"/>
<circle cx="153.2" cy="252.5" r="1.1"/>
<circle cx="192.5" cy="232.7" r="1.0"/>
<circle cx="160.1" cy="284.6" r="1.0"/>
<circle cx="171.6" cy="234.1" r="1.2"/>
<circle cx="205.3" cy="253.5" r="1.0"/>
<circle cx="161.1" cy="244.6" r="1.1"/>
<circle cx="165.6" cy="272.4" r="1.2"/>
<circle cx="162.1" cy="256.7" r="1.0"/>
<circle cx="171.1" cy="271.9" r="1.1"/>
<circle cx="182.8" cy="265.7" r="0.9"/>
<circle cx="198.6" cy="276.0" r="0.9"/>
<circle cx="150.5" cy="268.4" r="1.1"/>
<circle cx="192.7" cy="285.2" r="1.2"/>
<circle cx="192.3" cy="265.3" r="1.1"/>
<circle cx="182.9" cy="240.9" r="1.2"/>
<circle cx="176.9" cy="286.9" r="1.0"/>
<circle cx="163.3" cy="284.0" r="1.2"/>
<circle cx="188.5" cy="238.9" r="1.1"/>
<circle cx="170.5" cy="235.8" r="1.2"/>
<circle cx="180.8" cy="249.3" r="1.1"/>
<circle cx="169.8" cy="246.6" r="1.0"/>
<circle cx="201.4" cy="262.1" r="1.3"/>
<circle cx="188.6" cy="257.9" r="1.2"/>
<circle cx="155.1" cy="272.3" r="1.1"/>
<circle cx="206.1" cy="247.1" r="0.9"/>
<circle cx="174.7" cy="249.3" r="0.9"/>
<circle cx="171.1" cy="286.5" r="1.3"/>
<circle cx="190.5" cy="272.5" r="0.9"/>
<circle cx="155.9" cy="254.2" r="1.0"/>
<circle cx="166.9" cy="286.5" r="1.2"/>
<circle cx="173.0" cy="279.5" r="1.1"/>
<circle cx="180.2" cy="228.7" r="1.1"/>
<circle cx="169.1" cy="237.9" r="1.2"/>
<circle cx="185.2" cy="270.6" r="0.9"/>
<circle cx="191.8" cy="253.5" r="1.1"/>
<circle cx="190.4" cy="272.4" r="0.9"/>
<circle cx="166.2" cy="255.1" r="1.2"/>
<circle cx="174.9" cy="275.0" r="1.1"/>
<circle cx="166.4" cy="272.1" r="0.9"/>
<circle cx="204.8" cy="271.8" r="1.6"/>
<circle cx="189.2" cy="266.4" r="1.6"/>
<circle cx="191.5" cy="259.7" r="1.8"/>
<circle cx="156.8" cy="262.0" r="1.8"/>
<circle cx="171.1" cy="264.6" r="1.7"/>
<circle cx="163.3" cy="239.1" r="1.5"/>
<circle cx="204.6" cy="248.9" r="1.9"/>
<circle cx="150.0" cy="270.1" r="1.8"/>
<circle cx="179.5" cy="264.6" r="1.5"/>
<circle cx="183.6" cy="265.9" r="1.6"/>
<circle cx="177.6" cy="242.3" r="1.7"/>
<circle cx="191.7" cy="261.0" r="1.9"/>
<circle cx="200.2" cy="261.6" r="1.8"/>
<circle cx="184.4" cy="233.7" r="1.6"/>
<circle cx="186.7" cy="232.7" r="1.8"/>
<circle cx="187.3" cy="259.1" r="1.9"/>
<circle cx="155.4" cy="275.4" r="1.5"/>
<circle cx="181.3" cy="257.4" r="1.7"/>
<circle cx="180.0" cy="279.6" r="1.6"/>
<circle cx="161.4" cy="236.1" r="1.6"/>
<circle cx="165.0" cy="245.6" r="1.5"/>
<circle cx="192.1" cy="249.9" r="1.4"/>
<circle cx="163.3" cy="283.6" r="1.5"/>
<circle cx="176.2" cy="236.5" r="1.7"/>
<circle cx="181.8" cy="269.3" r="1.5"/>
<circle cx="164.9" cy="276.9" r="1.4"/>
<circle cx="157.0" cy="259.7" r="1.6"/>
<circle cx="147.0" cy="252.8" r="1.5"/>
<circle cx="190.4" cy="247.7" r="1.8"/>
<circle cx="201.8" cy="279.9" r="1.6"/>
</g>
<circle cx="177.2" cy="260.0" r="32.6" fill="none" stroke="rgba(90,90,140,0.5)" stroke-width="0.8"/>
<circle cx="246.1" cy="260.0" r="32.8" fill="rgb(159, 159, 179)"/>
<g fill="rgb(70, 50, 162)" fill-opacity="1.0">
<circle cx="260.5" cy="256.6" r="1.0"/>
<circle cx="242.5" cy="247.2" r="0.9"/>
<circle cx="232.5" cy="232.4" r="1.0"/>
<circle cx="253.8" cy="277.3" r="1.3"/>
<circle cx="261.1" cy="280.2" r="1.0"/>
<circle cx="237.1" cy="248.6" r="1.1"/>
<circle cx="268.4" cy="241.0" r="1.1"/>
<circle cx="222.3" cy="259.3" r="0.9"/>
<circle cx="259.8" cy="237.6" r="1.0"/>
<circle cx="235.7" cy="242.4" r="1.0"/>
<circle cx="249.2" cy="284.3" r="1.1"/>
<circle cx="240.5" cy="259.5" r="1.1"/>
<circle cx="223.1" cy="268.0" r="1.1"/>
<circle cx="257.3" cy="254.9" r="1.0"/>
<circle cx="273.2" cy="258.8" r="1.0"/>
<circle cx="243.5" cy="228.7" r="1.0"/>
<circle cx="253.7" cy="251.7" r="1.3"/>
<circle cx="230.8" cy="260.9" r="1.2"/>
<circle cx="228.0" cy="235.3" r="1.2"/>
<circle cx="252.8" cy="238.4" r="1.3"/>
<circle cx="273.2" cy="271.7" r="1.2"/>
<circle cx="246.0" cy="288.4" r="1.0"/>
<circle cx="217.5" cy="253.3" r="0.9"/>
<circle cx="241.4" cy="284.9" r="0.8"/>
<circle cx="219.7" cy="250.5" r="1.0"/>
<circle cx="247.6" cy="288.2" r="1.2"/>
<circle cx="249.2" cy="236.8" r="1.3"/>
<circle cx="249.7" cy="248.2" r="1.0"/>
<circle cx="251.0" cy="263.6" r="1.0"/>
<circle cx="265.2" cy="238.3" r="0.9"/>
<circle cx="254.3" cy="277.9" r="1.2"/>
<circle cx="223.8" cy="239.9" r="0.8"/>
<circle cx="260.4" cy="258.9" r="1.1"/>
<circle cx="265.3" cy="241.1" r="0.9"/>
<circle cx="235.9" cy="241.9" r="0.8"/>
<circle cx="236.6" cy="275.0" r="1.1"/>
<circle cx="241.7" cy="284.1" r="1.1"/>
<circle cx="250.9" cy="270.3" r="1.1"/>
<circle cx="235.0" cy="262.4" r="0.9"/>
<circle cx="269.1" cy="251.1" r="1.0"/>
<circle cx="256.6" cy="289.7" r="1.1"/>
<circle cx="244.5" cy="241.1" r="1.0"/>
<circle cx="236.0" cy="266.6" r="1.1"/>
<circle cx="220.6" cy="273.0" r="1.0"/>
<circle cx="224.4" cy="266.0" r="1.3"/>
<circle cx="231.0" cy="281.8" r="0.9"/>
<circle cx="231.3" cy="251.9" r="1.2"/>
<circle cx="239.5" cy="288.4" r="1.1"/>
<circle cx="216.8" cy="268.5" r="1.0"/>
<circle cx="245.1" cy="235.5" r="1.0"/>
<circle cx="264.9" cy="268.0" r="0.9"/>
<circle cx="217.3" cy="271.2" r="0.9"/>
<circle cx="237.3" cy="235.6" r="0.9"/>
<circle cx="236.3" cy="266.1" r="1.2"/>
<circle cx="245.9" cy="280.5" r="1.0"/>
<circle cx="258.6" cy="233.7" r="1.1"/>
<circle cx="236.5" cy="257.2" r="1.2"/>
<circle cx="262.3" cy="270.0" r="1.0"/>
<circle cx="241.7" cy="234.5" r="1.0"/>
<circle cx="270.8" cy="241.6" r="0.8"/>
<circle cx="231.6" cy="243.9" r="1.0"/>
<circle cx="228.8" cy="263.9" r="1.1"/>
<circle cx="221.6" cy="240.8" r="1.3"/>
<circle cx="265.9" cy="259.1" r="1.2"/>
<circle cx="230.5" cy="238.6" r="1.3"/>
<circle cx="265.7" cy="268.7" r="1.0"/>
<circle cx="237.9" cy="247.7" r="1.3"/>
<circle cx="250.9" cy="278.6" r="0.9"/>
<circle cx="224.6" cy="276.7" r="0.8"/>
<circle cx="258.8" cy="282.1" r="1.1"/>
<circle cx="245.3" cy="244.1" r="1.2"/>
<circle cx="242.8" cy="232.4" r="0.9"/>
<circle cx="242.2" cy="260.8" r="1.2"/>
<circle cx="274.2" cy="249.8" r="0.8"/>
<circle cx="232.4" cy="278.6" r="1.1"/>
<circle cx="267.6" cy="278.1" r="1.0"/>
<circle cx="235.0" cy="259.5" r="1.1"/>
<circle cx="252.5" cy="266.8" r="1.1"/>
<circle cx="238.5" cy="286.8" r="0.9"/>
<circle cx="239.8" cy="263.8" r="0.9"/>
<circle cx="223.6" cy="267.1" r="1.0"/>
<circle cx="252.1" cy="251.8" r="1.2"/>
<circle cx="263.6" cy="285.7" r="1.1"/>
<circle cx="225.5" cy="273.7" r="1.2"/>
<circle cx="265.9" cy="255.4" r="0.8"/>
<circle cx="262.4" cy="283.5" r="1.6"/>
<circle cx="243.2" cy="247.8" r="1.5"/>
<circle cx="256.4" cy="261.9" r="1.4"/>
<circle cx="270.9" cy="254.7" r="1.6"/>
<circle cx="265.6" cy="265.8" r="1.3"/>
<circle cx="245.4" cy="270.5" r="1.7"/>
<circle cx="235.6" cy="279.4" r="1.6"/>
<circle cx="269.4" cy="239.9" r="1.5"/>
</g>
<circle cx="246.1" cy="260.0" r="32.4" fill="none" stroke="rgba(90,90,140,0.4)" stroke-width="0.8"/>
<circle cx="316.0" cy="259.5" r="32.6" fill="rgb(168, 171, 180)"/>
<g fill="rgb(70, 50, 162)" fill-opacity="1.0">
<circle cx="286.1" cy="259.3" r="0.9"/>
<circle cx="307.8" cy="285.2" r="0.8"/>
<circle cx="302.1" cy="274.7" r="0.9"/>
<circle cx="303.0" cy="275.5" r="0.9"/>
<circle cx="343.3" cy="268.3" r="0.7"/>
<circle cx="293.1" cy="255.5" r="0.9"/>
<circle cx="317.7" cy="269.2" r="0.9"/>
<circle cx="307.4" cy="279.6" r="0.8"/>
<circle cx="315.9" cy="237.6" r="0.7"/>
<circle cx="290.3" cy="276.6" r="0.7"/>
<circle cx="290.4" cy="242.5" r="0.9"/>
<circle cx="300.4" cy="248.5" r="0.9"/>
<circle cx="297.3" cy="244.2" r="0.9"/>
<circle cx="293.4" cy="259.8" r="1.1"/>
<circle cx="325.0" cy="262.6" r="0.8"/>
<circle cx="312.5" cy="287.3" r="0.9"/>
<circle cx="328.7" cy="244.2" r="0.8"/>
<circle cx="312.1" cy="251.2" r="1.2"/>
<circle cx="324.8" cy="243.8" r="0.9"/>
<circle cx="327.8" cy="234.2" r="1.0"/>
<circle cx="341.7" cy="269.1" r="0.7"/>
<circle cx="299.5" cy="243.0" r="1.2"/>
<circle cx="313.0" cy="255.9" r="1.2"/>
<circle cx="316.4" cy="235.6" r="0.7"/>
</g>
<circle cx="316.0" cy="259.5" r="32.2" fill="none" stroke="rgba(90,90,140,0.3)" stroke-width="0.8"/>
<circle cx="41.2" cy="332.9" r="33.0" fill="rgb(152, 137, 204)"/>
<g fill="rgb(100, 62, 192)" fill-opacity="0.3">
<circle cx="39.5" cy="312.8" r="1.9"/>
<circle cx="70.9" cy="329.8" r="1.3"/>
<circle cx="45.3" cy="312.6" r="2.0"/>
<circle cx="26.2" cy="347.4" r="1.7"/>
<circle cx="54.2" cy="344.8" r="2.0"/>
<circle cx="50.8" cy="337.5" r="2.1"/>
<circle cx="29.6" cy="312.9" r="1.3"/>
<circle cx="54.0" cy="344.7" r="2.2"/>
<circle cx="13.4" cy="321.8" r="1.4"/>
<circle cx="21.5" cy="344.6" r="2.1"/>
<circle cx="62.0" cy="353.3" r="1.7"/>
<circle cx="61.3" cy="336.9" r="1.6"/>
<circle cx="27.4" cy="306.2" r="1.7"/>
<circle cx="34.0" cy="314.8" r="2.1"/>
<circle cx="62.4" cy="349.4" r="1.4"/>
<circle cx="29.2" cy="325.7" r="1.6"/>
<circle cx="50.7" cy="348.7" r="1.9"/>
<circle cx="21.9" cy="330.5" r="1.8"/>
<circle cx="51.4" cy="317.3" r="1.8"/>
<circle cx="10.5" cy="336.7" r="1.6"/>
<circle cx="36.3" cy="318.6" r="1.5"/>
<circle cx="38.3" cy="309.4" r="1.5"/>
<circle cx="67.3" cy="344.0" r="1.6"/>
<circle cx="36.9" cy="312.8" r="1.9"/>
<circle cx="12.5" cy="321.6" r="2.2"/>
<circle cx="20.3" cy="338.9" r="1.5"/>
<circle cx="41.4" cy="322.9" r="1.5"/>
<circle cx="44.6" cy="328.1" r="2.0"/>
<circle cx="20.1" cy="323.3" r="1.6"/>
<circle cx="58.8" cy="357.7" r="2.0"/>
<circle cx="44.5" cy="323.7" r="2.1"/>
<circle cx="43.9" cy="346.6" r="1.8"/>
<circle cx="32.8" cy="326.0" r="2.0"/>
<circle cx="15.5" cy="318.2" r="2.2"/>
<circle cx="34.2" cy="315.4" r="2.2"/>
<circle cx="37.9" cy="316.4" r="2.1"/>
<circle cx="38.9" cy="317.0" r="1.5"/>
<circle cx="63.9" cy="335.8" r="1.5"/>
<circle cx="37.0" cy="348.0" r="1.3"/>
<circle cx="25.0" cy="334.4" r="1.5"/>
<circle cx="37.4" cy="354.8" r="2.2"/>
<circle cx="56.7" cy="357.3" r="2.1"/>
<circle cx="23.4" cy="318.3" r="2.0"/>
<circle cx="16.4" cy="327.4" r="2.2"/>
<circle cx="43.7" cy="317.2" r="1.3"/>
<circle cx="58.5" cy="325.6" r="2.1"/>
<circle cx="43.4" cy="353.8" r="1.6"/>
<circle cx="37.3" cy="302.8" r="1.8"/>
<circle cx="24.3" cy="325.5" r="1.5"/>
<circle cx="51.1" cy="329.7" r="2.2"/>
<circle cx="36.6" cy="325.9" r="2.2"/>
<circle cx="60.0" cy="346.9" r="1.3"/>
<circle cx="58.5" cy="331.7" r="2.2"/>
<circle cx="64.8" cy="342.5" r="1.3"/>
<circle cx="64.4" cy="337.3" r="2.3"/>
<circle cx="29.8" cy="306.4" r="2.1"/>
<circle cx="32.6" cy="331.7" r="1.8"/>
<circle cx="50.2" cy="353.7" r="1.6"/>
<circle cx="27.3" cy="333.0" r="2.0"/>
<circle cx="22.3" cy="343.7" r="1.3"/>
<circle cx="18.0" cy="334.8" r="2.3"/>
<circle cx="30.6" cy="328.6" r="1.5"/>
<circle cx="27.8" cy="355.3" r="2.2"/>
<circle cx="71.3" cy="328.3" r="2.2"/>
<circle cx="60.2" cy="309.5" r="1.2"/>
<circle cx="17.3" cy="334.5" r="2.0"/>
<circle cx="22.6" cy="317.0" r="2.2"/>
<circle cx="60.5" cy="344.5" r="2.3"/>
<circle cx="51.4" cy="335.0" r="2.2"/>
<circle cx="45.9" cy="331.6" r="1.2"/>
<circle cx="53.6" cy="310.2" r="1.8"/>
<circle cx="17.4" cy="319.8" r="2.1"/>
<circle cx="49.3" cy="332.9" r="2.1"/>
<circle cx="69.3" cy="328.5" r="1.6"/>
<circle cx="31.8" cy="348.7" r="1.2"/>
<circle cx="43.2" cy="317.1" r="1.8"/>
<circle cx="23.4" cy="329.9" r="1.9"/>
<circle cx="26.7" cy="337.1" r="2.2"/>
<circle cx="46.6" cy="343.7" r="1.5"/>
<circle cx="13.8" cy="336.5" r="1.6"/>
<circle cx="43.1" cy="358.1" r="1.5"/>
<circle cx="25.6" cy="330.7" r="2.2"/>
<circle cx="47.2" cy="346.7" r="1.5"/>
<circle cx="28.5" cy="356.2" r="1.9"/>
<circle cx="46.9" cy="310.7" r="1.3"/>
<circle cx="42.5" cy="317.5" r="1.4"/>
<circle cx="14.5" cy="348.8" r="1.6"/>
<circle cx="22.7" cy="356.3" r="2.3"/>
<circle cx="32.5" cy="340.4" r="2.1"/>
<circle cx="44.9" cy="315.1" r="2.1"/>
<circle cx="29.1" cy="344.4" r="1.9"/>
<circle cx="40.1" cy="311.4" r="2.1"/>
<circle cx="63.2" cy="334.8" r="1.6"/>
<circle cx="68.6" cy="344.8" r="1.4"/>
<circle cx="49.3" cy="361.0" r="2.3"/>
<circle cx="57.8" cy="325.3" r="2.2"/>
<circle cx="57.8" cy="353.4" r="2.2"/>
<circle cx="45.3" cy="343.7" r="1.9"/>
<circle cx="60.9" cy="315.0" r="2.2"/>
<circle cx="23.0" cy="338.4" r="1.3"/>
<circle cx="36.8" cy="362.8" r="1.3"/>
<circle cx="48.5" cy="349.8" r="1.3"/>
<circle cx="36.5" cy="345.4" r="1.3"/>
<circle cx="18.6" cy="329.0" r="1.8"/>
<circle cx="42.9" cy="310.3" r="2.2"/>
<circle cx="54.0" cy="340.1" r="1.3"/>
<circle cx="31.3" cy="358.2" r="2.2"/>
<circle cx="28.7" cy="332.6" r="1.6"/>
<circle cx="25.8" cy="325.8" r="2.1"/>
<circle cx="62.0" cy="329.3" r="1.9"/>
<circle cx="53.3" cy="315.4" r="1.4"/>
<circle cx="70.2" cy="322.3" r="1.2"/>
<circle cx="42.8" cy="313.2" r="1.3"/>
<circle cx="48.0" cy="344.0" r="2.0"/>
<circle cx="42.2" cy="337.1" r="1.4"/>
<circle cx="47.9" cy="311.9" r="1.9"/>
<circle cx="28.2" cy="335.8" r="1.2"/>
<circle cx="39.1" cy="338.9" r="1.5"/>
<circle cx="27.3" cy="320.0" r="1.7"/>
<circle cx="28.7" cy="320.6" r="1.6"/>
<circle cx="58.9" cy="317.0" r="1.7"/>
<circle cx="20.7" cy="327.6" r="1.6"/>
<circle cx="54.1" cy="325.1" r="2.2"/>
<circle cx="58.9" cy="309.5" r="1.4"/>
<circle cx="10.3" cy="331.2" r="1.5"/>
<circle cx="53.8" cy="356.2" r="1.5"/>
<circle cx="30.5" cy="326.7" r="2.2"/>
<circle cx="39.1" cy="342.4" r="2.0"/>
<circle cx="27.8" cy="352.0" r="1.7"/>
<circle cx="61.0" cy="322.4" r="1.6"/>
<circle cx="63.2" cy="333.1" r="1.5"/>
<circle cx="19.0" cy="321.8" r="1.7"/>
<circle cx="59.8" cy="344.7" r="1.7"/>
<circle cx="21.8" cy="309.1" r="1.5"/>
<circle cx="32.7" cy="336.1" r="2.1"/>
<circle cx="44.0" cy="361.2" r="2.1"/>
<circle cx="40.3" cy="362.5" r="1.8"/>
<circle cx="20.4" cy="343.3" r="2.2"/>
<circle cx="19.6" cy="334.3" r="1.5"/>
<circle cx="53.2" cy="314.3" r="1.6"/>
<circle cx="46.0" cy="346.6" r="2.1"/>
<circle cx="51.4" cy="303.8" r="2.2"/>
<circle cx="30.2" cy="307.3" r="2.0"/>
<circle cx="51.4" cy="306.9" r="1.4"/>
<circle cx="48.0" cy="317.1" r="1.5"/>
<circle cx="45.3" cy="330.6" r="1.8"/>
<circle cx="25.9" cy="356.0" r="1.9"/>
<circle cx="66.7" cy="316.9" r="1.9"/>
<circle cx="64.6" cy="342.9" r="1.3"/>
<circle cx="70.1" cy="329.6" r="1.5"/>
<circle cx="51.4" cy="356.8" r="2.0"/>
<circle cx="65.7" cy="330.6" r="1.3"/>
<circle cx="40.1" cy="325.4" r="2.2"/>
<circle cx="44.4" cy="305.4" r="2.2"/>
<circle cx="13.7" cy="320.1" r="1.9"/>
<circle cx="21.9" cy="333.9" r="1.6"/>
<circle cx="53.6" cy="334.7" r="2.1"/>
<circle cx="44.6" cy="357.9" r="2.1"/>
<circle cx="33.5" cy="311.8" r="1.5"/>
<circle cx="39.3" cy="346.3" r="1.9"/>
<circle cx="29.4" cy="305.0" r="1.6"/>
<circle cx="67.9" cy="319.7" r="1.5"/>
<circle cx="64.6" cy="325.6" r="2.3"/>
<circle cx="43.9" cy="315.1" r="1.5"/>
<circle cx="19.6" cy="329.8" r="1.2"/>
<circle cx="56.0" cy="315.5" r="1.7"/>
<circle cx="40.7" cy="317.3" r="1.4"/>
<circle cx="27.8" cy="325.5" r="1.6"/>
<circle cx="47.6" cy="335.9" r="1.6"/>
<circle cx="11.2" cy="327.8" r="1.9"/>
<circle cx="24.1" cy="343.1" r="1.5"/>
<circle cx="11.1" cy="337.9" r="1.3"/>
<circle cx="17.6" cy="343.5" r="2.0"/>
<circle cx="17.7" cy="324.4" r="2.2"/>
<circle cx="54.0" cy="323.9" r="1.8"/>
<circle cx="63.9" cy="332.5" r="1.4"/>
<circle cx="42.0" cy="325.5" r="1.4"/>
<circle cx="25.7" cy="327.7" r="2.0"/>
<circle cx="38.6" cy="315.5" r="2.0"/>
<circle cx="25.5" cy="311.9" r="1.7"/>
<circle cx="31.9" cy="337.1" r="1.7"/>
<circle cx="69.4" cy="324.6" r="1.3"/>
<circle cx="55.8" cy="339.9" r="2.0"/>
<circle cx="30.9" cy="337.2" r="1.7"/>
<circle cx="17.1" cy="321.0" r="1.6"/>
<circle cx="26.0" cy="312.1" r="1.9"/>
<circle cx="66.4" cy="340.5" r="1.3"/>
<circle cx="61.4" cy="340.1" r="1.2"/>
<circle cx="58.7" cy="341.5" r="1.7"/>
<circle cx="65.2" cy="351.7" r="2.1"/>
<circle cx="17.4" cy="334.9" r="1.5"/>
<circle cx="51.9" cy="331.8" r="1.5"/>
<circle cx="46.5" cy="361.4" r="1.8"/>
<circle cx="24.5" cy="343.4" r="2.2"/>
<circle cx="39.9" cy="360.6" r="2.0"/>
<circle cx="23.3" cy="338.9" r="1.7"/>
<circle cx="24.4" cy="338.0" r="1.9"/>
<circle cx="26.6" cy="342.0" r="2.1"/>
<circle cx="20.6" cy="338.9" r="2.2"/>
<circle cx="22.8" cy="338.3" r="2.2"/>
<circle cx="68.6" cy="328.8" r="1.6"/>
<circle cx="28.4" cy="309.3" r="1.5"/>
<circle cx="36.3" cy="302.9" r="1.9"/>
<circle cx="31.1" cy="314.9" r="1.9"/>
<circle cx="45.3" cy="360.0" r="1.8"/>
<circle cx="59.3" cy="330.6" r="2.0"/>
<circle cx="61.2" cy="335.0" r="2.0"/>
<circle cx="39.7" cy="357.3" r="1.4"/>
<circle cx="16.2" cy="351.4" r="1.4"/>
<circle cx="47.7" cy="328.9" r="1.8"/>
<circle cx="53.6" cy="307.2" r="1.6"/>
<circle cx="19.0" cy="318.7" r="2.0"/>
<circle cx="40.7" cy="309.2" r="1.5"/>
<circle cx="34.7" cy="310.4" r="1.8"/>
<circle cx="52.7" cy="332.0" r="2.1"/>
<circle cx="29.2" cy="356.6" r="2.2"/>
<circle cx="37.6" cy="356.1" r="1.8"/>
<circle cx="28.5" cy="333.3" r="1.9"/>
<circle cx="61.1" cy="317.1" r="1.5"/>
<circle cx="48.2" cy="313.9" r="1.4"/>
</g>
<g fill="rgb(100, 62, 192)" fill-opacity="0.85">
<circle cx="24.1" cy="319.5" r="0.8"/>
<circle cx="65.3" cy="331.6" r="1.0"/>
<circle cx="24.4" cy="355.2" r="0.5"/>
<circle cx="32.9" cy="358.2" r="0.9"/>
<circle cx="50.5" cy="315.5" r="0.7"/>
<circle cx="26.4" cy="351.1" r="0.5"/>
<circle cx="22.9" cy="351.3" r="0.6"/>
<circle cx="30.0" cy="360.6" r="1.0"/>
<circle cx="41.2" cy="346.4" r="0.6"/>
<circle cx="65.7" cy="347.5" r="0.9"/>
<circle cx="39.2" cy="355.2" r="0.9"/>
<circle cx="69.7" cy="338.0" r="1.0"/>
<circle cx="47.7" cy="358.9" r="0.9"/>
<circle cx="25.6" cy="358.5" r="0.6"/>
<circle cx="23.5" cy="335.8" r="0.7"/>
<circle cx="50.4" cy="310.6" r="0.8"/>
<circle cx="56.3" cy="331.7" r="0.6"/>
<circle cx="32.1" cy="324.4" r="1.0"/>
<circle cx="29.7" cy="350.7" r="0.7"/>
<circle cx="55.6" cy="305.9" r="0.9"/>
<circle cx="50.2" cy="349.7" r="0.9"/>
<circle cx="47.6" cy="362.3" r="1.0"/>
<circle cx="44.0" cy="352.0" r="0.6"/>
<circle cx="39.8" cy="326.1" r="0.9"/>
<circle cx="68.3" cy="344.2" r="0.8"/>
<circle cx="32.6" cy="328.0" r="0.5"/>
<circle cx="22.0" cy="358.2" r="0.8"/>
<circle cx="46.4" cy="326.8" r="0.6"/>
<circle cx="67.7" cy="336.4" r="0.6"/>
<circle cx="37.5" cy="358.8" r="0.9"/>
<circle cx="31.6" cy="352.6" r="0.7"/>
<circle cx="23.5" cy="325.7" r="0.7"/>
<circle cx="41.3" cy="350.2" r="0.6"/>
<circle cx="58.9" cy="334.7" r="0.8"/>
<circle cx="39.9" cy="343.6" r="1.0"/>
<circle cx="18.7" cy="337.3" r="0.7"/>
<circle cx="62.3" cy="314.8" r="0.8"/>
<circle cx="26.9" cy="310.5" r="0.8"/>
<circle cx="24.1" cy="343.3" r="0.8"/>
<circle cx="18.4" cy="337.5" r="0.8"/>
<circle cx="48.5" cy="303.6" r="0.6"/>
<circle cx="58.6" cy="335.3" r="0.5"/>
<circle cx="48.4" cy="308.8" r="0.7"/>
<circle cx="52.0" cy="360.7" r="1.0"/>
<circle cx="30.4" cy="308.6" r="0.9"/>
<circle cx="21.8" cy="338.6" r="0.8"/>
<circle cx="64.5" cy="311.2" r="1.0"/>
<circle cx="45.7" cy="325.4" r="0.6"/>
<circle cx="64.4" cy="328.6" r="0.8"/>
<circle cx="30.3" cy="360.5" r="0.8"/>
<circle cx="50.0" cy="332.4" r="1.0"/>
<circle cx="53.5" cy="333.9" r="0.7"/>
<circle cx="34.4" cy="324.7" r="0.8"/>
<circle cx="60.8" cy="325.0" r="0.9"/>
<circle cx="20.7" cy="319.6" r="0.6"/>
<circle cx="11.6" cy="339.7" r="0.9"/>
<circle cx="45.6" cy="353.8" r="0.8"/>
<circle cx="28.6" cy="353.7" r="0.8"/>
<circle cx="56.1" cy="334.6" r="0.9"/>
<circle cx="43.1" cy="341.3" r="0.9"/>
<circle cx="25.4" cy="360.0" r="0.8"/>
<circle cx="61.7" cy="348.1" r="0.6"/>
<circle cx="51.9" cy="307.9" r="0.9"/>
<circle cx="46.7" cy="335.0" r="0.9"/>
<circle cx="50.3" cy="344.0" r="0.5"/>
<circle cx="52.6" cy="351.7" r="1.0"/>
<circle cx="34.1" cy="347.6" r="1.0"/>
<circle cx="51.4" cy="356.3" r="0.8"/>
<circle cx="47.3" cy="330.3" r="0.8"/>
<circle cx="19.7" cy="352.4" r="0.6"/>
<circle cx="38.2" cy="319.5" r="0.8"/>
<circle cx="56.6" cy="329.8" r="0.7"/>
<circle cx="64.0" cy="319.9" r="0.5"/>
<circle cx="47.3" cy="347.3" r="0.7"/>
<circle cx="56.2" cy="310.7" r="1.0"/>
<circle cx="28.9" cy="310.7" r="0.7"/>
<circle cx="36.6" cy="310.9" r="0.5"/>
<circle cx="21.4" cy="333.9" r="0.8"/>
<circle cx="46.3" cy="334.5" r="1.0"/>
<circle cx="28.5" cy="346.2" r="0.6"/>
<circle cx="15.6" cy="316.1" r="0.6"/>
<circle cx="18.6" cy="332.9" r="0.9"/>
<circle cx="26.8" cy="326.7" r="0.6"/>
<circle cx="39.8" cy="324.1" r="1.0"/>
<circle cx="54.8" cy="335.8" r="0.8"/>
<circle cx="55.2" cy="312.0" r="0.9"/>
<circle cx="43.1" cy="305.8" r="0.5"/>
<circle cx="46.8" cy="322.0" r="0.6"/>
<circle cx="46.4" cy="334.2" r="1.0"/>
<circle cx="34.3" cy="339.3" r="0.5"/>
<circle cx="55.3" cy="312.5" r="1.0"/>
<circle cx="51.6" cy="335.4" r="0.7"/>
<circle cx="45.1" cy="342.9" r="0.6"/>
<circle cx="32.9" cy="322.8" r="0.6"/>
<circle cx="22.1" cy="328.6" r="0.6"/>
<circle cx="20.5" cy="323.4" r="0.7"/>
<circle cx="34.9" cy="333.9" r="0.8"/>
<circle cx="47.7" cy="350.3" r="0.5"/>
<circle cx="59.9" cy="317.0" r="0.7"/>
<circle cx="11.2" cy="324.8" r="0.6"/>
<circle cx="21.2" cy="350.9" r="0.7"/>
<circle cx="33.0" cy="303.5" r="0.5"/>
<circle cx="37.5" cy="349.8" r="0.9"/>
<circle cx="46.9" cy="306.8" r="1.0"/>
<circle cx="49.1" cy="351.4" r="1.0"/>
<circle cx="42.2" cy="322.2" r="1.0"/>
<circle cx="39.4" cy="303.2" r="0.7"/>
<circle cx="16.5" cy="313.6" r="1.0"/>
<circle cx="14.5" cy="318.8" r="1.0"/>
<circle cx="55.0" cy="311.0" r="1.0"/>
<circle cx="53.8" cy="348.9" r="0.8"/>
<circle cx="60.3" cy="353.7" r="0.5"/>
<circle cx="29.5" cy="320.7" r="0.7"/>
<circle cx="30.2" cy="324.2" r="0.7"/>
<circle cx="61.0" cy="308.1" r="0.6"/>
<circle cx="23.5" cy="352.8" r="0.6"/>
<circle cx="49.5" cy="321.3" r="0.8"/>
<circle cx="40.6" cy="333.8" r="0.5"/>
<circle cx="59.5" cy="333.1" r="0.7"/>
<circle cx="66.7" cy="331.5" r="0.5"/>
<circle cx="37.9" cy="317.8" r="0.8"/>
<circle cx="36.1" cy="303.7" r="1.0"/>
<circle cx="25.3" cy="341.5" r="0.7"/>
<circle cx="30.6" cy="358.3" r="0.8"/>
<circle cx="36.3" cy="321.4" r="0.9"/>
<circle cx="55.3" cy="329.9" r="0.8"/>
<circle cx="44.4" cy="338.0" r="0.7"/>
<circle cx="52.3" cy="357.9" r="0.8"/>
<circle cx="26.8" cy="304.9" r="0.5"/>
<circle cx="46.1" cy="336.4" r="0.8"/>
<circle cx="53.1" cy="309.3" r="0.8"/>
<circle cx="53.3" cy="317.6" r="0.6"/>
<circle cx="38.0" cy="328.9" r="0.6"/>
<circle cx="53.8" cy="335.3" r="0.5"/>
<circle cx="30.0" cy="330.6" r="0.8"/>
<circle cx="49.6" cy="316.1" r="0.6"/>
<circle cx="28.2" cy="308.9" r="1.0"/>
<circle cx="18.2" cy="324.8" r="1.0"/>
<circle cx="27.2" cy="304.6" r="0.7"/>
<circle cx="45.1" cy="307.7" r="0.8"/>
<circle cx="63.2" cy="334.4" r="0.6"/>
<circle cx="22.9" cy="319.3" r="0.8"/>
<circle cx="52.0" cy="337.1" r="0.8"/>
<circle cx="28.0" cy="303.9" r="0.9"/>
<circle cx="35.8" cy="353.8" r="0.8"/>
<circle cx="47.9" cy="313.9" r="1.0"/>
<circle cx="21.1" cy="334.9" r="0.8"/>
<circle cx="21.2" cy="357.9" r="0.5"/>
<circle cx="33.9" cy="338.2" r="0.9"/>
<circle cx="48.4" cy="342.9" r="0.7"/>
<circle cx="18.8" cy="316.2" r="0.7"/>
<circle cx="35.8" cy="351.5" r="1.0"/>
<circle cx="42.0" cy="336.2" r="1.0"/>
<circle cx="29.6" cy="334.1" r="0.6"/>
<circle cx="62.6" cy="315.3" r="0.5"/>
<circle cx="34.5" cy="319.7" r="0.7"/>
<circle cx="35.5" cy="328.5" r="1.0"/>
<circle cx="35.0" cy="343.3" r="0.9"/>
<circle cx="46.0" cy="336.8" r="0.9"/>
<circle cx="11.4" cy="338.6" r="0.9"/>
<circle cx="43.0" cy="339.4" r="0.8"/>
<circle cx="23.9" cy="336.1" r="1.0"/>
<circle cx="47.8" cy="357.7" r="0.5"/>
<circle cx="68.8" cy="318.5" r="0.8"/>
<circle cx="29.6" cy="357.5" r="1.0"/>
<circle cx="43.0" cy="326.7" r="0.8"/>
<circle cx="56.3" cy="351.1" r="1.0"/>
<circle cx="51.8" cy="320.9" r="0.8"/>
<circle cx="35.8" cy="344.9" r="0.9"/>
<circle cx="42.3" cy="314.4" r="0.7"/>
<circle cx="32.2" cy="307.1" r="0.8"/>
<circle cx="48.5" cy="339.6" r="0.6"/>
<circle cx="51.6" cy="312.9" r="0.9"/>
<circle cx="28.4" cy="347.5" r="0.6"/>
<circle cx="65.8" cy="328.9" r="0.6"/>
<circle cx="33.9" cy="309.2" r="0.8"/>
<circle cx="44.3" cy="308.1" r="1.0"/>
<circle cx="61.2" cy="329.0" r="0.9"/>
<circle cx="26.8" cy="347.5" r="0.7"/>
<circle cx="29.8" cy="317.7" r="0.7"/>
<circle cx="57.5" cy="309.4" r="0.9"/>
<circle cx="52.2" cy="316.4" r="0.9"/>
<circle cx="41.1" cy="350.9" r="0.6"/>
<circle cx="50.4" cy="303.6" r="0.7"/>
<circle cx="33.3" cy="340.5" r="0.6"/>
<circle cx="21.7" cy="309.8" r="0.5"/>
<circle cx="40.4" cy="360.8" r="0.6"/>
<circle cx="54.9" cy="319.7" r="0.8"/>
<circle cx="46.4" cy="349.4" r="0.7"/>
<circle cx="36.4" cy="359.8" r="0.5"/>
<circle cx="22.8" cy="311.0" r="0.7"/>
<circle cx="45.2" cy="343.2" r="0.5"/>
<circle cx="47.7" cy="308.9" r="0.5"/>
<circle cx="17.5" cy="340.1" r="0.7"/>
<circle cx="61.5" cy="337.4" r="0.7"/>
<circle cx="60.1" cy="329.6" r="1.0"/>
<circle cx="57.6" cy="315.0" r="0.6"/>
<circle cx="44.6" cy="323.9" r="0.8"/>
<circle cx="49.2" cy="338.5" r="0.7"/>
<circle cx="58.9" cy="359.4" r="0.8"/>
<circle cx="66.2" cy="314.1" r="0.9"/>
<circle cx="27.8" cy="315.4" r="0.9"/>
<circle cx="35.0" cy="321.8" r="0.8"/>
<circle cx="21.5" cy="344.8" r="0.9"/>
<circle cx="32.2" cy="310.5" r="0.9"/>
<circle cx="45.6" cy="324.2" r="0.6"/>
<circle cx="53.5" cy="336.6" r="1.0"/>
<circle cx="33.4" cy="352.6" r="0.8"/>
<circle cx="25.6" cy="326.2" r="0.9"/>
<circle cx="26.8" cy="358.5" r="0.9"/>
<circle cx="64.9" cy="333.1" r="0.6"/>
<circle cx="47.5" cy="327.3" r="0.6"/>
<circle cx="44.1" cy="308.5" r="0.9"/>
<circle cx="21.5" cy="344.9" r="0.6"/>
<circle cx="25.4" cy="336.7" r="0.9"/>
<circle cx="50.5" cy="340.3" r="0.6"/>
<circle cx="17.3" cy="327.9" r="0.5"/>
<circle cx="70.4" cy="330.5" r="0.7"/>
<circle cx="57.0" cy="357.3" r="1.0"/>
<circle cx="53.3" cy="357.9" r="0.9"/>
<circle cx="54.7" cy="327.3" r="0.6"/>
<circle cx="49.1" cy="346.1" r="1.0"/>
<circle cx="59.8" cy="321.1" r="0.6"/>
<circle cx="31.8" cy="345.5" r="0.9"/>
<circle cx="35.9" cy="305.2" r="0.7"/>
<circle cx="20.1" cy="338.8" r="0.7"/>
<circle cx="15.8" cy="340.3" r="0.9"/>
<circle cx="30.1" cy="354.3" r="0.6"/>
<circle cx="60.3" cy="338.5" r="0.7"/>
<circle cx="50.0" cy="334.7" r="0.7"/>
<circle cx="68.6" cy="322.5" r="0.5"/>
<circle cx="33.3" cy="350.6" r="0.7"/>
<circle cx="57.2" cy="351.6" r="1.0"/>
<circle cx="31.3" cy="342.0" r="0.6"/>
<circle cx="69.1" cy="335.6" r="0.6"/>
<circle cx="36.6" cy="304.8" r="0.5"/>
<circle cx="47.9" cy="349.6" r="0.9"/>
<circle cx="39.7" cy="315.3" r="0.7"/>
<circle cx="27.7" cy="350.3" r="0.9"/>
<circle cx="39.1" cy="361.6" r="1.0"/>
<circle cx="16.0" cy="314.3" r="1.0"/>
<circle cx="56.3" cy="360.9" r="0.6"/>
<circle cx="45.0" cy="322.4" r="0.7"/>
<circle cx="13.8" cy="343.3" r="0.9"/>
<circle cx="49.9" cy="362.0" r="1.0"/>
<circle cx="34.0" cy="332.5" r="0.7"/>
<circle cx="35.7" cy="352.9" r="1.0"/>
<circle cx="17.2" cy="316.6" r="0.5"/>
<circle cx="42.0" cy="360.3" r="0.7"/>
<circle cx="42.3" cy="340.9" r="0.5"/>
<circle cx="21.0" cy="345.3" r="0.7"/>
<circle cx="25.4" cy="326.0" r="0.5"/>
<circle cx="32.7" cy="316.4" r="0.8"/>
<circle cx="29.2" cy="344.5" r="0.5"/>
<circle cx="36.2" cy="349.6" r="0.6"/>
<circle cx="63.0" cy="337.0" r="0.5"/>
<circle cx="55.1" cy="319.7" r="0.7"/>
<circle cx="36.3" cy="332.1" r="0.6"/>
<circle cx="46.5" cy="309.6" r="0.8"/>
<circle cx="25.8" cy="356.0" r="0.8"/>
<circle cx="48.9" cy="304.7" r="1.0"/>
<circle cx="37.2" cy="306.9" r="0.8"/>
<circle cx="17.4" cy="327.8" r="0.8"/>
<circle cx="53.7" cy="306.0" r="0.5"/>
<circle cx="41.5" cy="307.8" r="0.8"/>
<circle cx="47.2" cy="329.0" r="0.8"/>
<circle cx="19.1" cy="354.9" r="0.6"/>
<circle cx="30.0" cy="328.2" r="0.9"/>
<circle cx="13.8" cy="334.8" r="0.7"/>
<circle cx="43.2" cy="331.1" r="0.6"/>
<circle cx="38.1" cy="303.1" r="0.9"/>
<circle cx="39.8" cy="341.9" r="0.9"/>
<circle cx="40.3" cy="325.1" r="1.0"/>
<circle cx="35.4" cy="331.9" r="0.8"/>
<circle cx="35.8" cy="341.7" r="1.0"/>
<circle cx="51.5" cy="328.4" r="0.7"/>
<circle cx="37.4" cy="358.9" r="0.6"/>
<circle cx="30.9" cy="350.6" r="0.8"/>
<circle cx="18.5" cy="342.7" r="1.0"/>
<circle cx="68.9" cy="320.2" r="1.0"/>
<circle cx="43.3" cy="348.6" r="0.8"/>
<circle cx="25.7" cy="313.4" r="0.7"/>
<circle cx="59.1" cy="332.0" r="0.5"/>
<circle cx="53.5" cy="340.8" r="0.9"/>
<circle cx="44.7" cy="327.4" r="0.6"/>
<circle cx="42.6" cy="361.2" r="1.0"/>
<circle cx="40.3" cy="343.1" r="1.0"/>
<circle cx="67.9" cy="328.1" r="0.8"/>
<circle cx="40.6" cy="304.9" r="0.8"/>
<circle cx="38.1" cy="355.9" r="0.9"/>
<circle cx="29.7" cy="355.7" r="0.6"/>
<circle cx="55.7" cy="330.2" r="0.6"/>
<circle cx="71.4" cy="325.2" r="1.0"/>
<circle cx="57.2" cy="308.1" r="1.0"/>
<circle cx="33.2" cy="329.4" r="0.9"/>
<circle cx="56.2" cy="307.8" r="0.5"/>
<circle cx="66.5" cy="343.2" r="0.8"/>
<circle cx="66.2" cy="313.2" r="0.7"/>
<circle cx="29.4" cy="309.6" r="0.9"/>
<circle cx="24.0" cy="351.8" r="0.5"/>
<circle cx="63.2" cy="316.9" r="0.9"/>
<circle cx="27.1" cy="336.3" r="0.7"/>
<circle cx="31.2" cy="311.4" r="0.6"/>
<circle cx="61.4" cy="333.4" r="0.6"/>
<circle cx="43.4" cy="347.8" r="0.7"/>
<circle cx="30.9" cy="304.1" r="0.9"/>
<circle cx="70.8" cy="336.8" r="0.8"/>
<circle cx="38.3" cy="308.0" r="0.7"/>
<circle cx="36.7" cy="340.1" r="0.9"/>
<circle cx="66.1" cy="341.7" r="1.0"/>
<circle cx="28.9" cy="311.2" r="0.9"/>
<circle cx="69.1" cy="325.7" r="1.0"/>
<circle cx="37.5" cy="333.9" r="0.8"/>
<circle cx="22.0" cy="310.2" r="0.8"/>
<circle cx="39.8" cy="334.6" r="1.0"/>
<circle cx="18.7" cy="310.5" r="0.8"/>
<circle cx="58.1" cy="310.4" r="1.0"/>
<circle cx="11.7" cy="340.0" r="0.7"/>
<circle cx="59.4" cy="334.2" r="0.7"/>
<circle cx="61.3" cy="331.9" r="0.7"/>
<circle cx="37.6" cy="323.6" r="0.7"/>
<circle cx="32.3" cy="339.8" r="0.8"/>
<circle cx="15.8" cy="346.2" r="0.7"/>
<circle cx="55.2" cy="330.9" r="0.8"/>
<circle cx="41.8" cy="336.7" r="0.7"/>
<circle cx="54.9" cy="322.4" r="0.8"/>
<circle cx="24.9" cy="330.4" r="0.8"/>
<circle cx="58.5" cy="340.5" r="0.7"/>
<circle cx="52.4" cy="307.2" r="0.9"/>
<circle cx="16.6" cy="316.2" r="0.9"/>
<circle cx="52.1" cy="336.8" r="0.9"/>
<circle cx="58.2" cy="306.0" r="0.9"/>
<circle cx="54.4" cy="353.1" r="0.8"/>
<circle cx="31.9" cy="325.7" r="1.0"/>
<circle cx="24.6" cy="331.8" r="1.0"/>
<circle cx="34.9" cy="338.5" r="0.9"/>
<circle cx="40.3" cy="347.8" r="0.7"/>
<circle cx="27.0" cy="321.6" r="0.9"/>
<circle cx="67.6" cy="315.0" r="1.0"/>
<circle cx="55.4" cy="325.3" r="1.0"/>
<circle cx="61.8" cy="345.9" r="0.5"/>
<circle cx="66.5" cy="351.1" r="0.6"/>
<circle cx="36.4" cy="310.2" r="0.5"/>
<circle cx="43.3" cy="325.3" r="1.0"/>
<circle cx="50.6" cy="312.4" r="0.7"/>
<circle cx="67.6" cy="337.6" r="0.5"/>
<circle cx="10.8" cy="327.9" r="0.9"/>
<circle cx="61.4" cy="351.1" r="0.9"/>
<circle cx="27.8" cy="357.6" r="0.8"/>
<circle cx="21.3" cy="344.9" r="0.7"/>
<circle cx="34.2" cy="362.3" r="0.7"/>
<circle cx="43.8" cy="313.7" r="0.6"/>
<circle cx="72.6" cy="333.2" r="0.9"/>
<circle cx="65.6" cy="330.1" r="0.5"/>
<circle cx="44.9" cy="339.0" r="0.8"/>
<circle cx="18.7" cy="311.2" r="0.7"/>
<circle cx="42.8" cy="347.9" r="0.6"/>
<circle cx="63.3" cy="336.9" r="0.7"/>
<circle cx="20.1" cy="355.9" r="0.7"/>
<circle cx="52.1" cy="312.2" r="0.6"/>
<circle cx="65.7" cy="337.5" r="1.0"/>
<circle cx="66.7" cy="341.2" r="0.6"/>
<circle cx="30.0" cy="305.9" r="0.9"/>
<circle cx="41.6" cy="345.5" r="1.0"/>
<circle cx="67.7" cy="317.4" r="0.8"/>
<circle cx="59.6" cy="339.1" r="1.0"/>
<circle cx="57.1" cy="340.0" r="0.5"/>
<circle cx="55.1" cy="319.9" r="0.5"/>
<circle cx="32.3" cy="344.2" r="0.7"/>
<circle cx="21.8" cy="315.6" r="0.6"/>
<circle cx="33.8" cy="331.3" r="0.7"/>
<circle cx="47.0" cy="317.6" r="1.0"/>
<circle cx="41.9" cy="353.0" r="0.9"/>
<circle cx="65.0" cy="333.4" r="0.8"/>
<circle cx="34.4" cy="302.5" r="0.9"/>
<circle cx="43.6" cy="347.0" r="0.8"/>
<circle cx="36.5" cy="356.2" r="0.5"/>
<circle cx="34.1" cy="313.5" r="0.5"/>
<circle cx="63.7" cy="354.2" r="1.0"/>
<circle cx="55.9" cy="319.3" r="1.0"/>
<circle cx="54.3" cy="356.8" r="1.0"/>
<circle cx="41.7" cy="334.9" r="0.6"/>
<circle cx="66.0" cy="347.3" r="0.8"/>
<circle cx="30.5" cy="334.5" r="0.9"/>
<circle cx="48.8" cy="341.8" r="0.8"/>
<circle cx="23.4" cy="310.4" r="1.0"/>
<circle cx="52.7" cy="346.3" r="0.6"/>
<circle cx="35.8" cy="333.2" r="1.0"/>
<circle cx="29.2" cy="306.7" r="0.8"/>
<circle cx="66.1" cy="317.6" r="1.0"/>
<circle cx="46.3" cy="318.9" r="0.7"/>
<circle cx="67.4" cy="342.6" r="0.8"/>
<circle cx="58.4" cy="331.4" r="0.7"/>
<circle cx="62.2" cy="309.5" r="0.9"/>
<circle cx="64.0" cy="312.2" r="0.6"/>
<circle cx="35.2" cy="327.5" r="0.9"/>
<circle cx="63.0" cy="326.2" r="0.6"/>
<circle cx="33.8" cy="329.5" r="0.8"/>
<circle cx="59.3" cy="342.9" r="0.9"/>
<circle cx="39.2" cy="303.4" r="0.8"/>
<circle cx="34.2" cy="335.6" r="0.9"/>
<circle cx="22.7" cy="324.2" r="0.6"/>
<circle cx="33.4" cy="335.0" r="0.6"/>
<circle cx="59.5" cy="342.9" r="0.6"/>
<circle cx="52.9" cy="310.8" r="1.0"/>
<circle cx="29.1" cy="328.7" r="0.7"/>
<circle cx="54.3" cy="312.2" r="0.9"/>
<circle cx="36.5" cy="327.7" r="0.6"/>
<circle cx="14.5" cy="345.2" r="1.0"/>
<circle cx="27.5" cy="324.1" r="0.5"/>
<circle cx="22.1" cy="325.5" r="1.0"/>
<circle cx="45.1" cy="346.8" r="0.5"/>
<circle cx="69.5" cy="338.1" r="1.0"/>
<circle cx="43.5" cy="336.2" r="0.8"/>
<circle cx="41.8" cy="358.0" r="1.0"/>
<circle cx="40.9" cy="316.0" r="0.8"/>
<circle cx="34.3" cy="359.9" r="0.6"/>
<circle cx="59.2" cy="313.6" r="1.0"/>
<circle cx="23.5" cy="358.7" r="0.8"/>
<circle cx="40.0" cy="358.6" r="0.7"/>
<circle cx="46.0" cy="337.1" r="0.8"/>
<circle cx="41.7" cy="343.0" r="0.9"/>
<circle cx="58.7" cy="354.5" r="0.7"/>
<circle cx="21.0" cy="356.3" r="1.0"/>
<circle cx="57.3" cy="305.6" r="0.8"/>
<circle cx="64.4" cy="322.9" r="0.8"/>
<circle cx="32.4" cy="350.5" r="0.8"/>
<circle cx="41.7" cy="358.5" r="1.0"/>
<circle cx="38.4" cy="318.0" r="0.5"/>
<circle cx="27.1" cy="348.5" r="1.0"/>
<circle cx="19.2" cy="326.2" r="0.8"/>
<circle cx="16.3" cy="324.3" r="0.8"/>
<circle cx="26.5" cy="327.8" r="0.6"/>
<circle cx="13.2" cy="344.1" r="1.0"/>
<circle cx="34.7" cy="356.3" r="0.8"/>
<circle cx="28.2" cy="336.7" r="0.9"/>
<circle cx="54.3" cy="340.7" r="0.7"/>
<circle cx="45.3" cy="346.4" r="0.5"/>
<circle cx="28.1" cy="330.9" r="0.9"/>
<circle cx="20.8" cy="318.0" r="0.8"/>
<circle cx="28.0" cy="321.6" r="0.8"/>
<circle cx="35.6" cy="319.1" r="0.9"/>
<circle cx="14.1" cy="316.7" r="0.8"/>
<circle cx="14.5" cy="324.4" r="0.7"/>
<circle cx="26.6" cy="348.0" r="0.9"/>
<circle cx="38.6" cy="319.4" r="1.0"/>
<circle cx="63.6" cy="330.4" r="1.0"/>
<circle cx="26.8" cy="319.2" r="0.5"/>
<circle cx="65.7" cy="335.6" r="0.9"/>
<circle cx="20.1" cy="314.1" r="0.7"/>
<circle cx="40.0" cy="308.1" r="0.8"/>
<circle cx="16.3" cy="325.1" r="0.8"/>
<circle cx="63.3" cy="347.1" r="0.9"/>
<circle cx="12.9" cy="346.7" r="0.8"/>
<circle cx="52.7" cy="352.7" r="0.7"/>
<circle cx="56.5" cy="358.9" r="0.6"/>
<circle cx="38.1" cy="320.1" r="0.8"/>
<circle cx="50.7" cy="332.7" r="1.0"/>
<circle cx="72.8" cy="334.1" r="1.0"/>
<circle cx="17.0" cy="341.0" r="0.8"/>
<circle cx="51.0" cy="349.3" r="0.7"/>
<circle cx="48.6" cy="325.0" r="0.8"/>
<circle cx="17.8" cy="337.1" r="0.9"/>
<circle cx="26.4" cy="322.3" r="1.0"/>
<circle cx="27.7" cy="323.2" r="0.8"/>
<circle cx="45.8" cy="327.8" r="0.9"/>
<circle cx="24.1" cy="334.2" r="0.6"/>
<circle cx="43.6" cy="353.9" r="0.7"/>
<circle cx="27.8" cy="323.0" r="0.8"/>
<circle cx="13.1" cy="337.6" r="0.9"/>
<circle cx="43.7" cy="364.4" r="0.8"/>
<circle cx="33.0" cy="346.8" r="0.9"/>
<circle cx="16.8" cy="343.1" r="0.6"/>
<circle cx="51.7" cy="320.2" r="1.0"/>
<circle cx="22.4" cy="340.5" r="0.8"/>
<circle cx="17.8" cy="329.5" r="0.8"/>
<circle cx="67.4" cy="324.4" r="0.6"/>
<circle cx="45.2" cy="332.6" r="0.5"/>
<circle cx="48.2" cy="317.6" r="0.5"/>
<circle cx="51.3" cy="353.0" r="1.0"/>
<circle cx="54.1" cy="334.5" r="0.5"/>
<circle cx="58.2" cy="338.8" r="0.8"/>
<circle cx="66.5" cy="327.9" r="1.0"/>
<circle cx="15.5" cy="316.4" r="0.9"/>
<circle cx="42.4" cy="352.4" r="0.8"/>
<circle cx="64.9" cy="352.5" r="0.8"/>
<circle cx="48.1" cy="354.2" r="0.9"/>
<circle cx="37.6" cy="357.2" r="0.6"/>
<circle cx="42.0" cy="346.7" r="0.8"/>
<circle cx="35.4" cy="318.8" r="0.9"/>
<circle cx="17.4" cy="318.6" r="1.0"/>
<circle cx="25.2" cy="360.6" r="0.8"/>
<circle cx="27.7" cy="332.1" r="0.5"/>
<circle cx="34.9" cy="324.8" r="0.5"/>
<circle cx="61.5" cy="344.8" r="0.6"/>
<circle cx="38.9" cy="360.8" r="0.7"/>
<circle cx="57.1" cy="354.0" r="1.0"/>
<circle cx="25.8" cy="318.1" r="0.8"/>
<circle cx="32.6" cy="304.9" r="0.9"/>
<circle cx="41.5" cy="361.2" r="0.6"/>
<circle cx="57.0" cy="349.4" r="0.6"/>
<circle cx="25.4" cy="326.5" r="1.0"/>
<circle cx="14.8" cy="344.7" r="1.0"/>
<circle cx="14.4" cy="341.1" r="0.8"/>
<circle cx="32.1" cy="339.6" r="0.9"/>
<circle cx="64.6" cy="320.4" r="0.7"/>
<circle cx="22.3" cy="329.9" r="0.7"/>
<circle cx="41.6" cy="330.3" r="0.8"/>
<circle cx="29.0" cy="332.0" r="0.9"/>
<circle cx="40.7" cy="353.2" r="0.6"/>
<circle cx="24.0" cy="320.8" r="0.9"/>
<circle cx="15.9" cy="345.7" r="0.8"/>
<circle cx="58.9" cy="346.7" r="0.6"/>
<circle cx="32.0" cy="362.7" r="0.8"/>
<circle cx="40.3" cy="320.3" r="0.8"/>
<circle cx="52.3" cy="343.1" r="0.6"/>
<circle cx="71.3" cy="337.6" r="1.0"/>
<circle cx="38.8" cy="335.6" r="0.9"/>
<circle cx="37.6" cy="327.1" r="0.9"/>
<circle cx="55.3" cy="339.3" r="0.9"/>
<circle cx="42.9" cy="317.5" r="0.8"/>
<circle cx="48.9" cy="309.3" r="0.8"/>
<circle cx="44.5" cy="340.6" r="0.6"/>
<circle cx="16.8" cy="329.1" r="0.8"/>
<circle cx="25.4" cy="314.8" r="0.9"/>
<circle cx="16.3" cy="348.5" r="0.8"/>
<circle cx="64.4" cy="311.2" r="1.0"/>
<circle cx="44.9" cy="306.6" r="0.8"/>
<circle cx="41.4" cy="343.1" r="0.9"/>
<circle cx="41.5" cy="357.9" r="0.8"/>
<circle cx="24.8" cy="319.8" r="0.6"/>
<circle cx="32.4" cy="358.1" r="1.0"/>
<circle cx="33.7" cy="349.2" r="0.7"/>
<circle cx="18.2" cy="343.8" r="0.9"/>
<circle cx="44.4" cy="304.3" r="0.9"/>
<circle cx="62.3" cy="329.1" r="0.7"/>
<circle cx="30.8" cy="318.3" r="1.0"/>
<circle cx="20.4" cy="344.7" r="0.8"/>
<circle cx="39.0" cy="335.4" r="0.7"/>
<circle cx="10.3" cy="337.6" r="0.6"/>
<circle cx="67.1" cy="314.8" r="0.9"/>
<circle cx="40.4" cy="337.3" r="1.0"/>
<circle cx="57.1" cy="340.2" r="1.0"/>
<circle cx="27.8" cy="307.1" r="1.0"/>
<circle cx="51.1" cy="353.4" r="0.6"/>
<circle cx="24.9" cy="348.4" r="0.9"/>
<circle cx="34.8" cy="358.2" r="0.6"/>
<circle cx="40.9" cy="340.6" r="0.8"/>
<circle cx="18.0" cy="319.0" r="0.7"/>
<circle cx="66.3" cy="322.4" r="0.8"/>
<circle cx="50.7" cy="323.2" r="0.7"/>
<circle cx="17.7" cy="325.0" r="1.0"/>
<circle cx="38.2" cy="326.7" r="1.0"/>
<circle cx="27.0" cy="335.9" r="0.9"/>
<circle cx="20.7" cy="311.6" r="0.8"/>
<circle cx="40.4" cy="354.8" r="0.8"/>
<circle cx="26.6" cy="352.5" r="0.6"/>
<circle cx="41.0" cy="343.9" r="0.5"/>
<circle cx="14.1" cy="328.5" r="0.7"/>
<circle cx="61.6" cy="318.5" r="0.9"/>
<circle cx="34.4" cy="362.5" r="0.7"/>
<circle cx="50.1" cy="319.8" r="1.0"/>
<circle cx="35.7" cy="320.6" r="0.9"/>
<circle cx="52.3" cy="349.4" r="0.7"/>
<circle cx="31.4" cy="349.5" r="0.6"/>
<circle cx="33.3" cy="338.6" r="0.9"/>
<circle cx="24.8" cy="354.4" r="0.7"/>
<circle cx="70.8" cy="328.1" r="0.9"/>
<circle cx="57.7" cy="307.2" r="1.0"/>
<circle cx="20.1" cy="345.7" r="0.5"/>
<circle cx="29.1" cy="346.7" r="0.8"/>
<circle cx="69.0" cy="334.2" r="0.5"/>
<circle cx="21.5" cy="343.3" r="1.0"/>
<circle cx="32.9" cy="323.8" r="0.9"/>
<circle cx="43.5" cy="357.9" r="0.7"/>
<circle cx="61.8" cy="327.0" r="0.6"/>
<circle cx="29.7" cy="362.0" r="0.7"/>
<circle cx="42.3" cy="356.3" r="0.9"/>
<circle cx="49.6" cy="329.6" r="0.7"/>
<circle cx="37.4" cy="310.7" r="0.9"/>
<circle cx="36.8" cy="324.2" r="0.5"/>
<circle cx="49.0" cy="348.7" r="0.6"/>
<circle cx="38.7" cy="343.4" r="0.5"/>
<circle cx="13.7" cy="328.6" r="0.6"/>
<circle cx="63.9" cy="348.1" r="0.5"/>
<circle cx="55.5" cy="350.2" r="0.7"/>
<circle cx="46.2" cy="310.7" r="0.8"/>
<circle cx="37.5" cy="336.7" r="1.0"/>
<circle cx="18.8" cy="351.5" r="0.6"/>
<circle cx="19.8" cy="342.6" r="0.6"/>
<circle cx="68.8" cy="346.8" r="1.0"/>
<circle cx="64.8" cy="332.9" r="0.9"/>
<circle cx="23.4" cy="319.8" r="0.6"/>
<circle cx="27.8" cy="316.3" r="0.9"/>
<circle cx="57.9" cy="337.4" r="0.6"/>
<circle cx="43.0" cy="310.8" r="0.7"/>
<circle cx="45.7" cy="310.3" r="0.7"/>
<circle cx="40.1" cy="333.8" r="0.5"/>
<circle cx="71.7" cy="340.1" r="1.0"/>
<circle cx="11.4" cy="324.4" r="0.8"/>
</g>
<circle cx="108.6" cy="332.9" r="33.0" fill="rgb(156, 142, 206)"/>
<g fill="rgb(102, 66, 194)" fill-opacity="0.3">
<circle cx="104.4" cy="323.7" r="1.7"/>
<circle cx="93.3" cy="320.1" r="1.9"/>
<circle cx="94.6" cy="353.9" r="1.4"/>
<circle cx="88.2" cy="334.2" r="1.8"/>
<circle cx="123.1" cy="338.1" r="2.0"/>
<circle cx="119.4" cy="351.5" r="2.3"/>
<circle cx="88.0" cy="315.9" r="2.0"/>
<circle cx="127.6" cy="329.1" r="1.6"/>
<circle cx="108.8" cy="327.9" r="1.7"/>
<circle cx="105.5" cy="356.0" r="2.0"/>
<circle cx="122.9" cy="315.9" r="2.0"/>
<circle cx="130.9" cy="345.0" r="2.2"/>
<circle cx="92.2" cy="318.4" r="1.8"/>
<circle cx="97.4" cy="339.8" r="1.4"/>
<circle cx="114.8" cy="311.4" r="1.2"/>
<circle cx="87.3" cy="314.1" r="1.9"/>
<circle cx="121.5" cy="360.5" r="1.4"/>
<circle cx="87.5" cy="331.8" r="1.4"/>
<circle cx="107.2" cy="346.3" r="1.4"/>
<circle cx="132.8" cy="339.3" r="1.9"/>
<circle cx="108.3" cy="363.3" r="1.7"/>
<circle cx="79.7" cy="341.0" r="1.9"/>
<circle cx="82.3" cy="338.6" r="2.0"/>
<circle cx="105.7" cy="340.6" r="2.0"/>
<circle cx="108.3" cy="308.7" r="1.3"/>
<circle cx="108.1" cy="319.8" r="2.1"/>
<circle cx="90.7" cy="315.6" r="1.3"/>
<circle cx="90.9" cy="352.9" r="1.3"/>
<circle cx="128.1" cy="337.7" r="2.1"/>
<circle cx="98.3" cy="322.0" r="1.3"/>
<circle cx="123.5" cy="308.4" r="2.0"/>
<circle cx="115.8" cy="358.9" r="1.2"/>
<circle cx="116.9" cy="348.5" r="2.3"/>
<circle cx="120.8" cy="335.7" r="2.0"/>
<circle cx="109.8" cy="316.8" r="1.3"/>
<circle cx="127.3" cy="308.5" r="2.2"/>
<circle cx="100.3" cy="329.2" r="2.0"/>
<circle cx="91.8" cy="309.9" r="2.0"/>
<circle cx="77.8" cy="332.4" r="1.7"/>
<circle cx="85.1" cy="341.2" r="2.1"/>
<circle cx="82.8" cy="317.1" r="1.5"/>
<circle cx="131.9" cy="315.2" r="1.6"/>
<circle cx="132.4" cy="337.2" r="1.9"/>
<circle cx="131.2" cy="327.1" r="2.0"/>
<circle cx="109.4" cy="320.1" r="1.9"/>
<circle cx="95.2" cy="338.4" r="1.5"/>
<circle cx="91.2" cy="353.2" r="1.8"/>
<circle cx="105.5" cy="339.5" r="2.1"/>
<circle cx="109.3" cy="304.4" r="2.1"/>
<circle cx="123.9" cy="339.3" r="1.7"/>
<circle cx="100.4" cy="360.0" r="1.4"/>
<circle cx="129.5" cy="334.8" r="1.3"/>
<circle cx="132.5" cy="337.2" r="1.9"/>
<circle cx="100.6" cy="330.7" r="1.8"/>
<circle cx="91.6" cy="330.4" r="1.4"/>
<circle cx="120.7" cy="350.9" r="1.6"/>
<circle cx="86.6" cy="319.8" r="1.5"/>
<circle cx="96.2" cy="323.0" r="2.0"/>
<circle cx="115.4" cy="356.0" r="2.0"/>
<circle cx="115.5" cy="311.3" r="2.2"/>
<circle cx="136.3" cy="330.5" r="1.6"/>
<circle cx="106.0" cy="357.5" r="1.3"/>
<circle cx="112.8" cy="341.5" r="1.9"/>
<circle cx="85.9" cy="352.4" r="2.1"/>
<circle cx="90.8" cy="329.3" r="1.6"/>
<circle cx="118.4" cy="336.3" r="2.2"/>
<circle cx="107.8" cy="335.6" r="2.3"/>
<circle cx="88.6" cy="351.7" r="1.7"/>
<circle cx="117.3" cy="331.2" r="1.7"/>
<circle cx="105.7" cy="329.0" r="2.2"/>
<circle cx="95.1" cy="354.7" r="1.3"/>
<circle cx="116.7" cy="337.2" r="2.1"/>
<circle cx="136.5" cy="322.3" r="1.8"/>
<circle cx="131.7" cy="347.8" r="1.8"/>
<circle cx="113.6" cy="308.6" r="1.8"/>
<circle cx="114.2" cy="343.3" r="1.3"/>
<circle cx="93.3" cy="339.8" r="2.2"/>
<circle cx="134.5" cy="341.1" r="1.3"/>
<circle cx="132.5" cy="351.0" r="1.4"/>
<circle cx="88.9" cy="319.5" r="1.6"/>
<circle cx="101.7" cy="342.4" r="2.0"/>
<circle cx="91.8" cy="350.3" r="2.1"/>
<circle cx="126.6" cy="342.2" r="1.6"/>
<circle cx="131.0" cy="322.7" r="1.4"/>
<circle cx="105.0" cy="333.9" r="1.8"/>
<circle cx="119.1" cy="337.8" r="1.8"/>
<circle cx="94.6" cy="329.5" r="1.8"/>
<circle cx="98.7" cy="357.1" r="1.3"/>
<circle cx="120.0" cy="315.3" r="1.4"/>
<circle cx="102.3" cy="356.8" r="1.3"/>
<circle cx="121.1" cy="325.2" r="1.7"/>
<circle cx="127.5" cy="342.2" r="2.3"/>
<circle cx="113.7" cy="345.0" r="1.8"/>
<circle cx="101.1" cy="323.8" r="1.4"/>
<circle cx="96.5" cy="323.6" r="1.2"/>
<circle cx="98.7" cy="305.6" r="2.1"/>
<circle cx="117.4" cy="321.5" r="1.5"/>
<circle cx="88.8" cy="318.5" r="1.9"/>
<circle cx="94.3" cy="328.0" r="1.5"/>
<circle cx="115.0" cy="336.7" r="1.8"/>
<circle cx="133.6" cy="348.0" r="2.3"/>
<circle cx="127.2" cy="357.3" r="1.9"/>
<circle cx="127.9" cy="333.6" r="1.6"/>
<circle cx="105.7" cy="340.4" r="1.5"/>
<circle cx="129.4" cy="335.2" r="1.7"/>
<circle cx="112.0" cy="362.7" r="2.2"/>
<circle cx="80.7" cy="333.0" r="1.6"/>
<circle cx="109.1" cy="305.4" r="1.6"/>
<circle cx="107.5" cy="314.4" r="1.4"/>
<circle cx="99.4" cy="338.0" r="2.0"/>
<circle cx="108.4" cy="354.9" r="2.1"/>
<circle cx="84.4" cy="315.7" r="2.0"/>
<circle cx="99.1" cy="307.8" r="2.0"/>
<circle cx="129.6" cy="321.1" r="1.9"/>
<circle cx="86.9" cy="325.9" r="2.2"/>
<circle cx="104.4" cy="345.8" r="1.8"/>
<circle cx="98.6" cy="357.3" r="1.9"/>
<circle cx="122.9" cy="333.1" r="1.9"/>
<circle cx="88.2" cy="348.5" r="1.7"/>
<circle cx="128.4" cy="349.6" r="2.3"/>
<circle cx="129.1" cy="346.3" r="1.9"/>
<circle cx="91.7" cy="318.5" r="1.8"/>
<circle cx="137.7" cy="330.9" r="1.7"/>
<circle cx="118.5" cy="309.4" r="2.1"/>
<circle cx="116.9" cy="332.8" r="1.4"/>
<circle cx="111.8" cy="361.0" r="2.2"/>
<circle cx="111.8" cy="354.4" r="2.2"/>
<circle cx="104.5" cy="309.4" r="2.2"/>
<circle cx="117.0" cy="328.6" r="2.3"/>
<circle cx="102.3" cy="356.5" r="2.0"/>
<circle cx="103.9" cy="349.5" r="2.2"/>
<circle cx="116.5" cy="303.1" r="1.3"/>
<circle cx="89.8" cy="313.8" r="2.3"/>
<circle cx="106.1" cy="316.6" r="1.3"/>
<circle cx="116.0" cy="347.0" r="1.8"/>
<circle cx="103.3" cy="343.7" r="1.3"/>
<circle cx="97.5" cy="307.0" r="1.3"/>
<circle cx="77.8" cy="330.3" r="1.6"/>
<circle cx="81.2" cy="326.8" r="1.2"/>
<circle cx="127.8" cy="313.2" r="2.0"/>
<circle cx="96.5" cy="351.1" r="2.2"/>
<circle cx="116.9" cy="336.3" r="1.9"/>
<circle cx="120.1" cy="329.4" r="1.4"/>
<circle cx="81.8" cy="339.8" r="1.8"/>
<circle cx="104.8" cy="326.9" r="1.4"/>
<circle cx="85.8" cy="319.3" r="1.3"/>
<circle cx="123.3" cy="342.3" r="1.7"/>
<circle cx="102.2" cy="344.0" r="1.3"/>
<circle cx="90.0" cy="308.8" r="1.9"/>
<circle cx="118.3" cy="327.5" r="1.9"/>
<circle cx="89.6" cy="354.5" r="1.9"/>
<circle cx="86.1" cy="313.3" r="2.3"/>
<circle cx="122.0" cy="348.6" r="1.3"/>
<circle cx="94.9" cy="327.4" r="2.0"/>
<circle cx="106.9" cy="335.1" r="2.2"/>
<circle cx="119.9" cy="344.4" r="1.8"/>
<circle cx="134.3" cy="342.5" r="2.0"/>
<circle cx="126.8" cy="349.4" r="1.3"/>
<circle cx="99.2" cy="331.1" r="1.5"/>
<circle cx="86.7" cy="340.0" r="1.9"/>
<circle cx="124.8" cy="324.9" r="1.6"/>
<circle cx="115.4" cy="358.8" r="1.6"/>
<circle cx="111.8" cy="346.2" r="1.7"/>
<circle cx="119.3" cy="315.2" r="2.1"/>
<circle cx="85.2" cy="337.1" r="1.5"/>
<circle cx="86.2" cy="347.2" r="1.3"/>
<circle cx="93.6" cy="337.4" r="1.5"/>
<circle cx="101.3" cy="344.7" r="1.8"/>
<circle cx="123.3" cy="336.7" r="1.5"/>
<circle cx="120.6" cy="358.8" r="2.0"/>
</g>
<g fill="rgb(102, 66, 194)" fill-opacity="0.85">
<circle cx="117.5" cy="325.3" r="0.6"/>
<circle cx="99.7" cy="353.9" r="1.0"/>
<circle cx="123.6" cy="307.3" r="0.5"/>
<circle cx="126.9" cy="336.1" r="0.7"/>
<circle cx="127.5" cy="333.6" r="0.6"/>
<circle cx="118.9" cy="322.4" r="0.7"/>
<circle cx="122.0" cy="359.2" r="0.6"/>
<circle cx="94.6" cy="338.5" r="0.6"/>
<circle cx="135.6" cy="332.0" r="0.9"/>
<circle cx="89.2" cy="357.9" r="1.0"/>
<circle cx="98.6" cy="321.4" r="0.5"/>
<circle cx="87.2" cy="326.7" r="1.0"/>
<circle cx="137.5" cy="332.6" r="0.6"/>
<circle cx="133.5" cy="330.5" r="0.5"/>
<circle cx="116.8" cy="363.1" r="0.9"/>
<circle cx="107.0" cy="306.9" r="0.5"/>
<circle cx="124.7" cy="326.1" r="0.9"/>
<circle cx="86.9" cy="327.4" r="0.8"/>
<circle cx="134.1" cy="318.6" r="0.7"/>
<circle cx="116.6" cy="322.2" r="0.7"/>
<circle cx="105.6" cy="339.2" r="0.7"/>
<circle cx="140.1" cy="333.3" r="0.9"/>
<circle cx="100.7" cy="333.9" r="0.6"/>
<circle cx="111.1" cy="315.7" r="0.6"/>
<circle cx="86.8" cy="343.6" r="0.6"/>
<circle cx="91.5" cy="349.6" r="0.9"/>
<circle cx="82.0" cy="350.5" r="0.6"/>
<circle cx="108.6" cy="323.9" r="1.0"/>
<circle cx="95.8" cy="329.2" r="0.9"/>
<circle cx="117.2" cy="325.2" r="1.0"/>
<circle cx="127.1" cy="328.0" r="0.9"/>
<circle cx="104.1" cy="309.2" r="0.7"/>
<circle cx="97.5" cy="359.6" r="0.9"/>
<circle cx="116.5" cy="330.1" r="0.8"/>
<circle cx="104.5" cy="318.5" r="0.5"/>
<circle cx="130.8" cy="315.4" r="0.9"/>
<circle cx="98.1" cy="351.3" r="0.9"/>
<circle cx="131.2" cy="348.0" r="0.9"/>
<circle cx="78.2" cy="340.1" r="0.8"/>
<circle cx="119.1" cy="323.5" r="0.7"/>
<circle cx="102.7" cy="354.7" r="0.9"/>
<circle cx="139.1" cy="331.3" r="1.0"/>
<circle cx="135.7" cy="328.7" r="0.9"/>
<circle cx="125.8" cy="343.9" r="0.8"/>
<circle cx="132.6" cy="351.6" r="0.7"/>
<circle cx="109.0" cy="342.0" r="0.8"/>
<circle cx="92.5" cy="359.6" r="0.8"/>
<circle cx="97.1" cy="338.3" r="0.5"/>
<circle cx="99.1" cy="309.7" r="0.8"/>
<circle cx="88.1" cy="332.1" r="1.0"/>
<circle cx="123.1" cy="338.2" r="0.9"/>
<circle cx="101.3" cy="349.8" r="0.7"/>
<circle cx="100.7" cy="359.6" r="0.6"/>
<circle cx="83.2" cy="323.6" r="0.7"/>
<circle cx="106.1" cy="314.0" r="0.8"/>
<circle cx="123.0" cy="343.7" r="0.8"/>
<circle cx="91.9" cy="318.9" r="0.5"/>
<circle cx="79.7" cy="325.6" r="0.6"/>
<circle cx="115.1" cy="357.3" r="0.6"/>
<circle cx="115.6" cy="338.1" r="0.8"/>
<circle cx="129.3" cy="313.9" r="0.8"/>
<circle cx="129.4" cy="312.0" r="0.6"/>
<circle cx="85.4" cy="354.4" r="1.0"/>
<circle cx="92.5" cy="313.2" r="0.7"/>
<circle cx="124.1" cy="342.8" r="0.6"/>
<circle cx="91.1" cy="313.8" r="0.8"/>
<circle cx="109.3" cy="332.5" r="0.6"/>
<circle cx="124.4" cy="344.3" r="1.0"/>
<circle cx="80.6" cy="338.7" r="0.6"/>
<circle cx="91.2" cy="355.6" r="0.7"/>
<circle cx="105.5" cy="308.3" r="0.9"/>
<circle cx="127.5" cy="336.4" r="1.0"/>
<circle cx="96.6" cy="344.8" r="1.0"/>
<circle cx="86.0" cy="318.6" r="0.8"/>
<circle cx="94.3" cy="318.9" r="0.7"/>
<circle cx="104.7" cy="347.6" r="0.9"/>
<circle cx="117.9" cy="338.6" r="0.8"/>
<circle cx="136.8" cy="331.1" r="0.9"/>
<circle cx="107.8" cy="318.4" r="0.8"/>
<circle cx="131.5" cy="335.4" r="0.5"/>
<circle cx="116.9" cy="340.3" r="0.7"/>
<circle cx="93.8" cy="335.2" r="0.5"/>
<circle cx="131.1" cy="354.5" r="1.0"/>
<circle cx="118.7" cy="326.8" r="0.6"/>
<circle cx="111.5" cy="330.2" r="0.6"/>
<circle cx="90.0" cy="307.6" r="1.0"/>
<circle cx="118.7" cy="318.0" r="0.9"/>
<circle cx="136.6" cy="321.1" r="1.0"/>
<circle cx="110.8" cy="304.6" r="0.9"/>
<circle cx="87.2" cy="344.2" r="1.0"/>
<circle cx="104.0" cy="330.7" r="0.7"/>
<circle cx="127.2" cy="313.4" r="0.8"/>
<circle cx="134.1" cy="321.7" r="0.6"/>
<circle cx="99.6" cy="304.4" r="0.5"/>
<circle cx="128.0" cy="324.8" r="1.0"/>
<circle cx="126.6" cy="334.3" r="0.7"/>
<circle cx="113.9" cy="358.3" r="0.9"/>
<circle cx="90.6" cy="308.2" r="0.6"/>
<circle cx="104.0" cy="352.6" r="0.9"/>
<circle cx="106.2" cy="301.1" r="1.0"/>
<circle cx="81.6" cy="327.7" r="1.0"/>
<circle cx="82.4" cy="329.5" r="1.0"/>
<circle cx="114.8" cy="321.9" r="0.5"/>
<circle cx="100.9" cy="305.0" r="0.6"/>
<circle cx="125.1" cy="310.5" r="0.6"/>
<circle cx="123.2" cy="354.4" r="0.8"/>
<circle cx="125.0" cy="358.6" r="0.6"/>
<circle cx="124.2" cy="306.0" r="0.6"/>
<circle cx="101.4" cy="310.3" r="1.0"/>
<circle cx="89.3" cy="340.0" r="0.6"/>
<circle cx="118.9" cy="318.0" r="1.0"/>
<circle cx="138.1" cy="339.4" r="0.5"/>
<circle cx="103.4" cy="302.1" r="0.7"/>
<circle cx="91.3" cy="321.8" r="0.5"/>
<circle cx="120.5" cy="313.8" r="0.9"/>
<circle cx="121.2" cy="335.8" r="0.6"/>
<circle cx="110.6" cy="328.4" r="0.5"/>
<circle cx="94.3" cy="346.7" r="1.0"/>
<circle cx="118.5" cy="320.8" r="0.9"/>
<circle cx="91.1" cy="354.8" r="0.9"/>
<circle cx="128.4" cy="342.3" r="0.7"/>
<circle cx="85.5" cy="338.9" r="0.9"/>
<circle cx="89.8" cy="346.2" r="1.0"/>
<circle cx="102.7" cy="320.1" r="0.6"/>
<circle cx="104.4" cy="363.8" r="0.7"/>
<circle cx="131.4" cy="311.3" r="0.9"/>
<circle cx="89.8" cy="353.2" r="0.8"/>
<circle cx="130.3" cy="326.2" r="0.9"/>
<circle cx="98.5" cy="309.6" r="0.6"/>
<circle cx="89.6" cy="324.2" r="0.9"/>
<circle cx="110.8" cy="318.5" r="0.7"/>
<circle cx="107.4" cy="364.3" r="0.8"/>
<circle cx="78.7" cy="342.6" r="0.9"/>
<circle cx="123.0" cy="315.3" r="0.6"/>
<circle cx="102.2" cy="339.6" r="0.7"/>
<circle cx="87.5" cy="339.6" r="1.0"/>
<circle cx="95.8" cy="330.2" r="0.6"/>
<circle cx="98.8" cy="312.1" r="0.7"/>
<circle cx="88.1" cy="333.7" r="0.9"/>
<circle cx="102.7" cy="329.0" r="0.8"/>
<circle cx="108.6" cy="357.3" r="0.8"/>
<circle cx="110.7" cy="301.5" r="0.9"/>
<circle cx="91.8" cy="317.5" r="0.6"/>
<circle cx="106.9" cy="318.8" r="0.7"/>
<circle cx="94.4" cy="324.6" r="1.0"/>
<circle cx="78.4" cy="323.9" r="0.5"/>
<circle cx="90.9" cy="336.9" r="0.8"/>
<circle cx="93.9" cy="313.2" r="1.0"/>
<circle cx="90.5" cy="340.0" r="0.9"/>
<circle cx="93.0" cy="327.4" r="1.0"/>
<circle cx="109.9" cy="341.6" r="0.8"/>
<circle cx="133.6" cy="317.1" r="0.9"/>
<circle cx="91.0" cy="318.2" r="0.7"/>
<circle cx="119.4" cy="351.2" r="1.0"/>
<circle cx="78.7" cy="322.3" r="0.9"/>
<circle cx="84.9" cy="326.3" r="0.7"/>
<circle cx="133.0" cy="316.8" r="0.6"/>
<circle cx="130.1" cy="317.7" r="0.7"/>
<circle cx="107.9" cy="312.1" r="0.9"/>
<circle cx="83.2" cy="332.2" r="1.0"/>
<circle cx="125.7" cy="318.8" r="0.7"/>
<circle cx="102.9" cy="307.4" r="0.6"/>
<circle cx="91.7" cy="331.9" r="0.9"/>
<circle cx="117.3" cy="348.0" r="0.6"/>
<circle cx="104.0" cy="356.5" r="1.0"/>
<circle cx="92.3" cy="313.0" r="0.9"/>
<circle cx="92.4" cy="346.2" r="0.9"/>
<circle cx="116.1" cy="359.6" r="1.0"/>
<circle cx="114.6" cy="327.3" r="1.0"/>
<circle cx="110.5" cy="344.3" r="0.8"/>
<circle cx="100.9" cy="344.0" r="0.8"/>
<circle cx="85.8" cy="327.6" r="0.8"/>
<circle cx="87.6" cy="314.0" r="0.9"/>
<circle cx="100.6" cy="304.9" r="0.8"/>
<circle cx="101.7" cy="324.6" r="0.5"/>
<circle cx="83.4" cy="340.6" r="0.6"/>
<circle cx="125.3" cy="328.6" r="0.8"/>
<circle cx="77.7" cy="339.1" r="0.6"/>
<circle cx="108.3" cy="358.4" r="0.7"/>
<circle cx="102.2" cy="342.6" r="1.0"/>
<circle cx="85.8" cy="341.5" r="0.6"/>
<circle cx="118.2" cy="328.8" r="0.9"/>
<circle cx="130.0" cy="342.3" r="0.7"/>
<circle cx="128.8" cy="326.5" r="1.0"/>
<circle cx="123.9" cy="335.7" r="1.0"/>
<circle cx="104.3" cy="337.5" r="0.6"/>
<circle cx="93.5" cy="350.5" r="0.7"/>
<circle cx="101.2" cy="353.7" r="0.8"/>
<circle cx="118.0" cy="353.9" r="0.8"/>
<circle cx="84.0" cy="320.6" r="0.7"/>
<circle cx="115.8" cy="363.1" r="0.6"/>
<circle cx="101.8" cy="352.4" r="0.7"/>
<circle cx="115.8" cy="361.7" r="0.7"/>
<circle cx="84.7" cy="325.6" r="0.6"/>
<circle cx="98.0" cy="337.8" r="0.8"/>
<circle cx="104.9" cy="303.6" r="1.0"/>
<circle cx="125.0" cy="347.1" r="0.9"/>
<circle cx="86.7" cy="355.0" r="0.8"/>
<circle cx="114.3" cy="326.8" r="0.7"/>
<circle cx="98.9" cy="305.3" r="0.8"/>
<circle cx="126.2" cy="311.2" r="0.7"/>
<circle cx="102.7" cy="310.7" r="0.6"/>
<circle cx="132.3" cy="315.5" r="1.0"/>
<circle cx="111.2" cy="361.0" r="0.5"/>
<circle cx="91.0" cy="332.9" r="0.8"/>
<circle cx="91.0" cy="348.8" r="0.7"/>
<circle cx="110.1" cy="307.0" r="0.7"/>
<circle cx="113.6" cy="347.7" r="0.7"/>
<circle cx="88.4" cy="343.2" r="0.9"/>
<circle cx="124.9" cy="331.1" r="0.7"/>
<circle cx="106.0" cy="332.6" r="0.8"/>
<circle cx="132.6" cy="338.7" r="0.8"/>
<circle cx="85.0" cy="354.3" r="0.7"/>
<circle cx="119.0" cy="334.0" r="0.6"/>
<circle cx="106.5" cy="305.5" r="0.7"/>
<circle cx="118.2" cy="324.2" r="0.6"/>
<circle cx="87.5" cy="322.8" r="0.9"/>
<circle cx="97.6" cy="361.2" r="0.8"/>
<circle cx="99.6" cy="310.4" r="0.6"/>
<circle cx="80.0" cy="320.8" r="0.5"/>
<circle cx="100.0" cy="348.5" r="0.6"/>
<circle cx="112.1" cy="307.4" r="0.6"/>
<circle cx="100.2" cy="304.1" r="0.5"/>
<circle cx="133.2" cy="335.8" r="1.0"/>
<circle cx="87.0" cy="325.8" r="0.7"/>
<circle cx="80.7" cy="320.5" r="0.8"/>
<circle cx="108.1" cy="311.1" r="1.0"/>
<circle cx="111.3" cy="310.2" r="0.7"/>
<circle cx="98.7" cy="363.0" r="0.9"/>
<circle cx="129.4" cy="342.9" r="0.7"/>
<circle cx="94.7" cy="323.0" r="1.0"/>
<circle cx="79.6" cy="336.1" r="0.6"/>
<circle cx="126.6" cy="317.6" r="0.8"/>
<circle cx="80.1" cy="345.3" r="0.8"/>
<circle cx="89.8" cy="328.7" r="0.8"/>
<circle cx="105.9" cy="354.1" r="0.6"/>
<circle cx="125.7" cy="341.9" r="0.5"/>
<circle cx="103.5" cy="324.4" r="1.0"/>
<circle cx="101.8" cy="348.1" r="0.8"/>
<circle cx="101.6" cy="359.2" r="0.7"/>
<circle cx="114.4" cy="329.8" r="0.5"/>
<circle cx="128.2" cy="315.0" r="0.6"/>
<circle cx="96.6" cy="317.9" r="0.8"/>
<circle cx="104.9" cy="356.1" r="0.9"/>
<circle cx="117.8" cy="319.6" r="0.8"/>
<circle cx="81.3" cy="320.7" r="0.8"/>
<circle cx="128.9" cy="309.8" r="0.7"/>
<circle cx="82.4" cy="350.5" r="0.8"/>
<circle cx="80.9" cy="327.5" r="0.8"/>
<circle cx="82.8" cy="329.9" r="0.6"/>
<circle cx="106.5" cy="335.0" r="0.9"/>
<circle cx="120.9" cy="308.3" r="1.0"/>
<circle cx="109.0" cy="322.4" r="0.7"/>
<circle cx="117.9" cy="328.0" r="1.0"/>
<circle cx="112.2" cy="321.1" r="0.6"/>
<circle cx="105.6" cy="307.2" r="0.5"/>
<circle cx="94.9" cy="330.3" r="1.0"/>
<circle cx="105.0" cy="332.1" r="0.7"/>
<circle cx="139.0" cy="334.9" r="1.0"/>
<circle cx="108.3" cy="331.4" r="1.0"/>
<circle cx="106.3" cy="358.6" r="0.9"/>
<circle cx="98.4" cy="329.0" r="0.6"/>
<circle cx="107.2" cy="321.7" r="0.7"/>
<circle cx="127.2" cy="324.4" r="0.6"/>
<circle cx="97.5" cy="317.6" r="0.9"/>
<circle cx="89.3" cy="354.7" r="1.0"/>
<circle cx="118.9" cy="354.2" r="0.7"/>
<circle cx="130.5" cy="354.2" r="0.7"/>
<circle cx="102.6" cy="327.8" r="1.0"/>
<circle cx="134.9" cy="329.6" r="0.6"/>
<circle cx="97.2" cy="314.2" r="0.8"/>
<circle cx="111.1" cy="345.1" r="1.0"/>
<circle cx="86.7" cy="316.1" r="0.9"/>
<circle cx="89.3" cy="346.7" r="0.7"/>
<circle cx="96.8" cy="315.5" r="0.9"/>
<circle cx="103.5" cy="352.0" r="0.5"/>
<circle cx="123.0" cy="336.5" r="0.5"/>
<circle cx="91.1" cy="341.9" r="1.0"/>
<circle cx="139.2" cy="341.3" r="0.6"/>
<circle cx="117.8" cy="316.1" r="0.6"/>
<circle cx="93.9" cy="320.7" r="0.5"/>
<circle cx="126.6" cy="352.2" r="0.9"/>
<circle cx="124.7" cy="332.2" r="0.9"/>
<circle cx="96.0" cy="352.1" r="0.7"/>
<circle cx="82.6" cy="349.0" r="0.6"/>
<circle cx="81.5" cy="346.9" r="0.7"/>
<circle cx="117.6" cy="311.3" r="0.7"/>
<circle cx="103.8" cy="307.5" r="0.7"/>
<circle cx="118.3" cy="332.8" r="1.0"/>
<circle cx="103.7" cy="306.4" r="0.8"/>
<circle cx="108.6" cy="326.2" r="0.9"/>
<circle cx="122.2" cy="317.6" r="0.9"/>
<circle cx="101.0" cy="311.5" r="0.9"/>
<circle cx="97.6" cy="334.0" r="0.8"/>
<circle cx="108.9" cy="319.9" r="0.8"/>
<circle cx="110.5" cy="329.7" r="1.0"/>
<circle cx="97.2" cy="348.4" r="0.9"/>
<circle cx="93.2" cy="325.2" r="0.6"/>
<circle cx="82.1" cy="347.3" r="1.0"/>
<circle cx="103.2" cy="306.7" r="0.9"/>
<circle cx="119.6" cy="326.3" r="0.6"/>
<circle cx="111.1" cy="329.2" r="0.8"/>
<circle cx="83.5" cy="350.5" r="0.8"/>
<circle cx="109.9" cy="340.9" r="0.8"/>
<circle cx="87.9" cy="325.9" r="0.8"/>
<circle cx="126.4" cy="340.2" r="1.0"/>
<circle cx="105.2" cy="346.4" r="0.6"/>
<circle cx="136.2" cy="321.7" r="0.7"/>
<circle cx="99.3" cy="349.9" r="1.0"/>
<circle cx="134.8" cy="315.9" r="1.0"/>
<circle cx="103.9" cy="323.0" r="1.0"/>
<circle cx="122.3" cy="356.8" r="0.7"/>
<circle cx="133.9" cy="338.8" r="0.6"/>
<circle cx="119.0" cy="324.1" r="0.9"/>
<circle cx="102.2" cy="335.6" r="0.7"/>
<circle cx="98.3" cy="359.1" r="0.9"/>
<circle cx="120.6" cy="327.8" r="0.6"/>
<circle cx="95.9" cy="345.8" r="0.6"/>
<circle cx="108.6" cy="330.5" r="0.8"/>
<circle cx="120.6" cy="346.2" r="0.7"/>
<circle cx="78.4" cy="340.1" r="0.9"/>
<circle cx="79.8" cy="346.5" r="0.6"/>
<circle cx="118.3" cy="356.5" r="0.9"/>
<circle cx="104.9" cy="310.4" r="0.9"/>
<circle cx="93.1" cy="359.9" r="0.9"/>
<circle cx="116.0" cy="310.6" r="1.0"/>
<circle cx="78.0" cy="338.8" r="0.7"/>
<circle cx="125.8" cy="327.4" r="0.8"/>
<circle cx="86.6" cy="324.1" r="1.0"/>
<circle cx="116.5" cy="321.7" r="0.9"/>
<circle cx="88.5" cy="329.6" r="0.6"/>
<circle cx="135.4" cy="315.8" r="0.9"/>
<circle cx="100.3" cy="328.9" r="0.7"/>
<circle cx="104.1" cy="341.2" r="0.7"/>
<circle cx="94.9" cy="348.2" r="0.5"/>
<circle cx="129.7" cy="355.9" r="0.8"/>
<circle cx="110.9" cy="354.2" r="0.7"/>
<circle cx="95.2" cy="334.1" r="0.9"/>
<circle cx="131.7" cy="322.5" r="1.0"/>
<circle cx="117.9" cy="311.4" r="0.8"/>
<circle cx="101.6" cy="314.8" r="0.5"/>
<circle cx="81.0" cy="341.5" r="0.9"/>
<circle cx="136.8" cy="340.1" r="0.5"/>
<circle cx="95.2" cy="331.3" r="0.7"/>
<circle cx="111.6" cy="357.8" r="0.9"/>
<circle cx="125.6" cy="317.8" r="0.5"/>
<circle cx="117.7" cy="335.1" r="0.6"/>
<circle cx="116.4" cy="348.5" r="0.6"/>
<circle cx="119.9" cy="317.4" r="0.8"/>
<circle cx="111.5" cy="319.6" r="0.8"/>
<circle cx="130.1" cy="338.6" r="1.0"/>
<circle cx="92.5" cy="325.7" r="0.8"/>
<circle cx="86.0" cy="332.6" r="0.9"/>
<circle cx="101.3" cy="303.6" r="1.0"/>
<circle cx="136.6" cy="326.0" r="0.9"/>
<circle cx="112.9" cy="319.5" r="0.6"/>
<circle cx="120.2" cy="315.3" r="0.5"/>
<circle cx="108.2" cy="321.2" r="0.6"/>
<circle cx="120.9" cy="326.3" r="1.0"/>
<circle cx="105.6" cy="361.3" r="0.7"/>
<circle cx="84.1" cy="322.8" r="0.9"/>
<circle cx="115.5" cy="358.2" r="0.6"/>
<circle cx="109.5" cy="361.1" r="0.6"/>
<circle cx="99.3" cy="338.5" r="0.8"/>
<circle cx="117.3" cy="350.1" r="1.0"/>
<circle cx="87.3" cy="340.5" r="0.5"/>
<circle cx="107.8" cy="343.3" r="0.8"/>
<circle cx="116.2" cy="344.0" r="0.6"/>
<circle cx="107.1" cy="307.1" r="0.7"/>
<circle cx="102.0" cy="348.4" r="0.8"/>
<circle cx="98.0" cy="328.0" r="0.6"/>
<circle cx="96.7" cy="320.8" r="0.9"/>
<circle cx="113.1" cy="341.8" r="0.5"/>
<circle cx="123.2" cy="314.6" r="0.5"/>
<circle cx="92.9" cy="352.9" r="0.6"/>
<circle cx="109.7" cy="330.9" r="0.8"/>
<circle cx="96.2" cy="326.6" r="1.0"/>
<circle cx="97.5" cy="329.6" r="0.9"/>
<circle cx="134.6" cy="337.6" r="1.0"/>
<circle cx="105.5" cy="329.2" r="0.5"/>
<circle cx="122.8" cy="307.1" r="0.6"/>
<circle cx="134.6" cy="320.3" r="0.6"/>
<circle cx="111.4" cy="330.4" r="0.7"/>
<circle cx="112.3" cy="347.1" r="0.8"/>
<circle cx="138.7" cy="341.8" r="0.6"/>
<circle cx="100.8" cy="315.6" r="1.0"/>
<circle cx="87.7" cy="324.5" r="0.9"/>
<circle cx="88.7" cy="324.7" r="0.6"/>
<circle cx="116.4" cy="308.8" r="0.8"/>
<circle cx="130.3" cy="331.3" r="0.9"/>
<circle cx="118.5" cy="349.3" r="0.8"/>
<circle cx="106.9" cy="364.8" r="1.0"/>
<circle cx="92.0" cy="311.4" r="0.6"/>
<circle cx="112.7" cy="303.5" r="0.8"/>
<circle cx="84.9" cy="322.5" r="0.6"/>
<circle cx="121.7" cy="336.8" r="0.8"/>
<circle cx="89.3" cy="310.5" r="0.6"/>
<circle cx="118.8" cy="350.9" r="0.6"/>
<circle cx="107.4" cy="355.2" r="0.9"/>
<circle cx="119.1" cy="341.1" r="0.8"/>
<circle cx="95.3" cy="331.1" r="0.9"/>
<circle cx="79.7" cy="320.5" r="1.0"/>
<circle cx="102.0" cy="326.1" r="0.8"/>
<circle cx="106.3" cy="349.6" r="0.5"/>
<circle cx="99.2" cy="308.7" r="0.7"/>
<circle cx="112.5" cy="364.5" r="0.8"/>
<circle cx="103.4" cy="317.9" r="1.0"/>
<circle cx="104.1" cy="310.5" r="0.6"/>
<circle cx="104.0" cy="334.9" r="0.6"/>
<circle cx="110.7" cy="322.4" r="0.6"/>
<circle cx="91.5" cy="359.3" r="0.6"/>
<circle cx="88.4" cy="344.6" r="0.5"/>
<circle cx="100.8" cy="329.6" r="0.7"/>
<circle cx="94.6" cy="361.6" r="0.7"/>
<circle cx="103.0" cy="350.4" r="0.7"/>
<circle cx="118.0" cy="348.2" r="0.9"/>
<circle cx="99.4" cy="345.2" r="0.5"/>
<circle cx="112.7" cy="315.9" r="0.6"/>
<circle cx="126.8" cy="307.2" r="0.8"/>
<circle cx="135.1" cy="345.2" r="0.9"/>
<circle cx="125.7" cy="334.8" r="1.0"/>
<circle cx="95.3" cy="334.9" r="1.0"/>
<circle cx="111.8" cy="346.1" r="0.9"/>
<circle cx="135.4" cy="330.7" r="0.5"/>
<circle cx="123.3" cy="334.8" r="0.9"/>
<circle cx="119.1" cy="330.1" r="0.9"/>
<circle cx="106.1" cy="328.0" r="1.0"/>
<circle cx="101.0" cy="350.9" r="0.9"/>
<circle cx="84.2" cy="326.1" r="0.5"/>
<circle cx="99.7" cy="324.3" r="1.0"/>
<circle cx="112.5" cy="307.4" r="0.9"/>
<circle cx="137.4" cy="328.6" r="0.9"/>
<circle cx="106.3" cy="335.7" r="1.0"/>
<circle cx="114.7" cy="335.5" r="0.8"/>
<circle cx="129.9" cy="331.9" r="0.6"/>
<circle cx="121.4" cy="334.4" r="0.7"/>
<circle cx="98.9" cy="346.4" r="1.0"/>
<circle cx="140.3" cy="332.8" r="0.6"/>
<circle cx="104.4" cy="320.7" r="0.8"/>
<circle cx="90.6" cy="332.9" r="0.9"/>
<circle cx="114.0" cy="361.0" r="0.9"/>
<circle cx="102.5" cy="326.5" r="0.6"/>
<circle cx="119.4" cy="303.5" r="0.6"/>
<circle cx="94.6" cy="308.8" r="1.0"/>
<circle cx="118.1" cy="343.8" r="0.5"/>
<circle cx="101.9" cy="315.0" r="0.9"/>
<circle cx="121.6" cy="354.9" r="0.6"/>
<circle cx="85.8" cy="342.2" r="1.0"/>
<circle cx="118.8" cy="359.3" r="0.5"/>
<circle cx="120.4" cy="356.9" r="0.5"/>
<circle cx="124.9" cy="307.5" r="0.6"/>
<circle cx="101.7" cy="308.1" r="1.0"/>
<circle cx="89.2" cy="333.5" r="1.0"/>
<circle cx="105.3" cy="363.3" r="0.7"/>
<circle cx="84.2" cy="349.0" r="0.9"/>
<circle cx="119.0" cy="356.7" r="1.0"/>
<circle cx="89.2" cy="346.9" r="0.9"/>
<circle cx="104.8" cy="313.3" r="0.7"/>
<circle cx="119.8" cy="355.6" r="0.7"/>
<circle cx="110.1" cy="326.4" r="0.9"/>
<circle cx="124.5" cy="358.1" r="1.0"/>
<circle cx="102.4" cy="340.8" r="0.6"/>
<circle cx="116.9" cy="363.4" r="0.9"/>
<circle cx="111.5" cy="333.3" r="0.8"/>
<circle cx="85.8" cy="339.6" r="1.0"/>
<circle cx="114.7" cy="322.9" r="1.0"/>
<circle cx="87.4" cy="338.5" r="0.6"/>
<circle cx="109.6" cy="346.7" r="0.7"/>
<circle cx="93.0" cy="328.4" r="0.6"/>
<circle cx="115.1" cy="338.3" r="1.0"/>
<circle cx="88.7" cy="341.0" r="0.6"/>
<circle cx="112.2" cy="332.5" r="0.9"/>
<circle cx="125.1" cy="337.5" r="0.8"/>
<circle cx="82.8" cy="340.3" r="0.8"/>
<circle cx="106.1" cy="325.0" r="0.7"/>
<circle cx="105.2" cy="354.8" r="0.7"/>
<circle cx="117.5" cy="340.1" r="0.5"/>
<circle cx="132.8" cy="341.6" r="1.0"/>
<circle cx="96.8" cy="325.0" r="0.8"/>
<circle cx="91.6" cy="333.4" r="0.9"/>
<circle cx="107.2" cy="350.5" r="0.5"/>
<circle cx="110.1" cy="363.6" r="0.8"/>
<circle cx="105.7" cy="310.7" r="0.6"/>
<circle cx="94.7" cy="351.0" r="0.7"/>
<circle cx="103.6" cy="332.4" r="0.7"/>
<circle cx="125.2" cy="347.6" r="0.8"/>
<circle cx="133.9" cy="317.0" r="1.0"/>
<circle cx="92.3" cy="338.8" r="1.0"/>
<circle cx="123.1" cy="346.3" r="0.5"/>
<circle cx="119.2" cy="307.4" r="1.0"/>
<circle cx="120.1" cy="359.8" r="0.9"/>
<circle cx="88.1" cy="327.0" r="0.9"/>
<circle cx="77.9" cy="338.2" r="1.0"/>
<circle cx="92.8" cy="350.3" r="0.7"/>
<circle cx="132.7" cy="315.7" r="0.7"/>
<circle cx="96.5" cy="346.2" r="0.9"/>
<circle cx="95.8" cy="311.2" r="0.8"/>
<circle cx="107.4" cy="330.7" r="0.8"/>
<circle cx="99.1" cy="307.3" r="0.9"/>
<circle cx="113.3" cy="363.3" r="1.0"/>
</g>
<circle cx="176.3" cy="332.8" r="32.8" fill="rgb(162, 149, 208)"/>
<g fill="rgb(106, 70, 196)" fill-opacity="0.3">
<circle cx="155.9" cy="313.5" r="1.4"/>
<circle cx="181.8" cy="346.2" r="1.8"/>
<circle cx="190.7" cy="321.4" r="2.2"/>
<circle cx="179.5" cy="327.1" r="1.2"/>
<circle cx="198.2" cy="332.5" r="2.1"/>
<circle cx="187.3" cy="319.7" r="1.2"/>
<circle cx="196.3" cy="310.6" r="1.6"/>
<circle cx="174.5" cy="330.0" r="2.2"/>
<circle cx="152.8" cy="313.1" r="2.0"/>
<circle cx="168.0" cy="342.9" r="1.8"/>
<circle cx="191.2" cy="315.8" r="1.8"/>
<circle cx="178.5" cy="344.5" r="1.5"/>
<circle cx="169.2" cy="352.9" r="2.2"/>
<circle cx="174.3" cy="347.5" r="2.0"/>
<circle cx="190.2" cy="327.1" r="1.5"/>
<circle cx="169.7" cy="336.7" r="1.3"/>
<circle cx="161.7" cy="327.9" r="1.5"/>
<circle cx="183.6" cy="312.6" r="1.8"/>
<circle cx="161.4" cy="310.6" r="2.2"/>
<circle cx="186.5" cy="330.9" r="2.0"/>
<circle cx="186.9" cy="334.5" r="1.5"/>
<circle cx="184.6" cy="341.6" r="1.5"/>
<circle cx="186.8" cy="307.4" r="1.8"/>
<circle cx="150.8" cy="324.5" r="1.8"/>
<circle cx="194.9" cy="342.6" r="1.4"/>
<circle cx="146.2" cy="338.4" r="1.4"/>
<circle cx="165.9" cy="354.0" r="1.9"/>
<circle cx="169.6" cy="351.1" r="1.7"/>
<circle cx="182.5" cy="329.8" r="2.2"/>
<circle cx="148.5" cy="322.4" r="1.6"/>
<circle cx="173.5" cy="329.0" r="1.4"/>
<circle cx="165.7" cy="318.5" r="1.8"/>
<circle cx="199.4" cy="330.3" r="1.9"/>
<circle cx="162.0" cy="326.7" r="2.3"/>
<circle cx="172.8" cy="336.1" r="1.7"/>
<circle cx="164.2" cy="340.0" r="1.7"/>
<circle cx="203.3" cy="346.1" r="1.8"/>
<circle cx="171.1" cy="355.1" r="1.9"/>
<circle cx="154.9" cy="350.7" r="1.7"/>
<circle cx="200.3" cy="320.1" r="2.0"/>
<circle cx="189.9" cy="355.0" r="2.3"/>
<circle cx="178.8" cy="326.8" r="1.5"/>
<circle cx="201.6" cy="333.1" r="2.2"/>
<circle cx="166.5" cy="309.5" r="1.8"/>
<circle cx="173.4" cy="310.1" r="2.1"/>
<circle cx="188.2" cy="350.5" r="1.9"/>
<circle cx="197.4" cy="342.5" r="2.2"/>
<circle cx="199.0" cy="346.7" r="2.0"/>
<circle cx="199.7" cy="313.3" r="1.9"/>
<circle cx="158.8" cy="320.5" r="1.7"/>
<circle cx="161.8" cy="322.0" r="2.1"/>
<circle cx="156.7" cy="326.9" r="1.8"/>
<circle cx="169.1" cy="305.4" r="2.1"/>
<circle cx="172.4" cy="318.0" r="1.2"/>
<circle cx="182.8" cy="339.0" r="1.8"/>
<circle cx="195.2" cy="342.7" r="2.0"/>
<circle cx="149.3" cy="343.4" r="1.6"/>
<circle cx="160.4" cy="334.3" r="1.3"/>
<circle cx="166.7" cy="327.7" r="1.4"/>
<circle cx="169.7" cy="358.4" r="2.3"/>
<circle cx="179.4" cy="347.7" r="2.3"/>
<circle cx="152.1" cy="319.4" r="2.3"/>
<circle cx="168.0" cy="319.8" r="2.3"/>
<circle cx="177.6" cy="331.8" r="2.3"/>
<circle cx="167.4" cy="320.8" r="1.7"/>
<circle cx="167.6" cy="358.7" r="1.6"/>
<circle cx="201.4" cy="347.8" r="1.6"/>
<circle cx="188.2" cy="355.8" r="1.3"/>
<circle cx="160.0" cy="320.1" r="1.3"/>
<circle cx="201.1" cy="325.6" r="1.3"/>
<circle cx="196.4" cy="318.1" r="2.1"/>
<circle cx="178.1" cy="320.1" r="1.5"/>
<circle cx="189.4" cy="357.5" r="2.2"/>
<circle cx="153.6" cy="321.5" r="2.3"/>
<circle cx="155.9" cy="330.1" r="1.5"/>
<circle cx="187.1" cy="331.8" r="1.4"/>
<circle cx="179.3" cy="328.7" r="1.4"/>
<circle cx="161.5" cy="330.1" r="1.6"/>
<circle cx="201.3" cy="336.8" r="1.3"/>
<circle cx="173.9" cy="342.4" r="2.0"/>
<circle cx="181.0" cy="355.4" r="1.2"/>
<circle cx="159.7" cy="325.5" r="2.2"/>
<circle cx="182.1" cy="348.6" r="2.2"/>
<circle cx="196.4" cy="340.9" r="1.7"/>
<circle cx="173.1" cy="345.1" r="1.7"/>
<circle cx="179.3" cy="333.4" r="1.5"/>
<circle cx="165.0" cy="343.7" r="2.0"/>
<circle cx="155.4" cy="345.1" r="1.8"/>
<circle cx="169.0" cy="303.8" r="1.8"/>
<circle cx="168.4" cy="311.1" r="1.3"/>
<circle cx="187.7" cy="313.3" r="1.2"/>
<circle cx="175.3" cy="310.9" r="2.2"/>
<circle cx="157.8" cy="343.4" r="2.2"/>
<circle cx="200.8" cy="320.9" r="1.7"/>
<circle cx="152.1" cy="343.9" r="2.2"/>
<circle cx="151.2" cy="339.6" r="1.8"/>
<circle cx="162.7" cy="328.2" r="1.5"/>
<circle cx="175.3" cy="363.5" r="1.2"/>
<circle cx="179.0" cy="346.5" r="2.1"/>
<circle cx="168.1" cy="317.6" r="1.3"/>
<circle cx="163.8" cy="309.1" r="1.9"/>
<circle cx="171.0" cy="309.4" r="1.2"/>
<circle cx="184.4" cy="305.0" r="1.4"/>
<circle cx="153.5" cy="353.4" r="2.3"/>
<circle cx="187.9" cy="306.8" r="1.4"/>
<circle cx="196.2" cy="312.9" r="1.4"/>
<circle cx="200.1" cy="318.1" r="2.2"/>
<circle cx="183.9" cy="327.2" r="1.4"/>
<circle cx="180.7" cy="320.7" r="1.6"/>
<circle cx="183.2" cy="305.4" r="1.6"/>
</g>
<g fill="rgb(106, 70, 196)" fill-opacity="0.85">
<circle cx="153.7" cy="346.6" r="1.0"/>
<circle cx="163.3" cy="319.3" r="0.6"/>
<circle cx="185.9" cy="355.8" r="0.9"/>
<circle cx="181.0" cy="359.8" r="0.8"/>
<circle cx="155.6" cy="322.6" r="0.7"/>
<circle cx="199.5" cy="335.0" r="0.9"/>
<circle cx="200.2" cy="312.4" r="0.9"/>
<circle cx="192.0" cy="357.7" r="0.7"/>
<circle cx="206.4" cy="325.8" r="0.5"/>
<circle cx="183.0" cy="335.1" r="0.9"/>
<circle cx="151.2" cy="334.1" r="0.7"/>
<circle cx="168.1" cy="327.4" r="0.6"/>
<circle cx="174.7" cy="317.7" r="0.6"/>
<circle cx="157.7" cy="307.4" r="1.0"/>
<circle cx="196.1" cy="314.6" r="0.5"/>
<circle cx="189.8" cy="352.9" r="0.8"/>
<circle cx="179.2" cy="328.1" r="0.8"/>
<circle cx="201.2" cy="344.9" r="0.5"/>
<circle cx="148.5" cy="335.1" r="1.0"/>
<circle cx="184.4" cy="305.9" r="0.7"/>
<circle cx="161.2" cy="314.9" r="0.8"/>
<circle cx="158.8" cy="320.8" r="0.7"/>
<circle cx="178.4" cy="307.3" r="1.0"/>
<circle cx="201.8" cy="320.2" r="0.6"/>
<circle cx="153.9" cy="332.3" r="0.9"/>
<circle cx="188.2" cy="325.2" r="0.5"/>
<circle cx="197.8" cy="309.9" r="0.7"/>
<circle cx="160.4" cy="321.1" r="0.7"/>
<circle cx="159.1" cy="312.7" r="1.0"/>
<circle cx="161.5" cy="349.6" r="0.7"/>
<circle cx="199.1" cy="330.8" r="1.0"/>
<circle cx="181.6" cy="331.7" r="0.9"/>
<circle cx="193.4" cy="347.3" r="0.8"/>
<circle cx="197.6" cy="344.3" r="0.9"/>
<circle cx="162.8" cy="351.9" r="0.7"/>
<circle cx="185.5" cy="345.9" r="1.0"/>
<circle cx="161.0" cy="315.1" r="0.9"/>
<circle cx="190.6" cy="309.1" r="0.7"/>
<circle cx="158.8" cy="328.3" r="0.5"/>
<circle cx="184.3" cy="328.7" r="0.7"/>
<circle cx="186.9" cy="318.6" r="1.0"/>
<circle cx="188.5" cy="334.5" r="0.7"/>
<circle cx="157.7" cy="311.5" r="1.0"/>
<circle cx="182.1" cy="320.4" r="1.0"/>
<circle cx="197.1" cy="339.0" r="0.7"/>
<circle cx="190.5" cy="334.9" r="1.0"/>
<circle cx="194.6" cy="329.3" r="1.0"/>
<circle cx="175.9" cy="327.0" r="0.8"/>
<circle cx="181.0" cy="348.9" r="0.9"/>
<circle cx="181.3" cy="351.0" r="0.5"/>
<circle cx="168.7" cy="348.6" r="0.6"/>
<circle cx="192.9" cy="344.4" r="0.5"/>
<circle cx="191.2" cy="326.5" r="0.7"/>
<circle cx="202.7" cy="344.0" r="0.6"/>
<circle cx="193.5" cy="341.7" r="1.0"/>
<circle cx="195.2" cy="322.1" r="0.8"/>
<circle cx="203.4" cy="346.2" r="0.9"/>
<circle cx="177.0" cy="361.9" r="0.6"/>
<circle cx="159.4" cy="334.6" r="0.8"/>
<circle cx="176.2" cy="356.2" r="0.6"/>
<circle cx="187.0" cy="333.9" r="0.9"/>
<circle cx="154.8" cy="340.2" r="0.9"/>
<circle cx="175.8" cy="346.6" r="0.7"/>
<circle cx="176.6" cy="305.6" r="0.8"/>
<circle cx="163.7" cy="322.8" r="1.0"/>
<circle cx="158.1" cy="310.8" r="0.7"/>
<circle cx="152.7" cy="320.1" r="0.8"/>
<circle cx="177.4" cy="316.2" r="0.9"/>
<circle cx="166.8" cy="353.6" r="0.6"/>
<circle cx="151.7" cy="349.8" r="0.5"/>
<circle cx="185.2" cy="354.5" r="0.9"/>
<circle cx="166.1" cy="308.5" r="0.9"/>
<circle cx="166.3" cy="325.3" r="0.8"/>
<circle cx="175.8" cy="335.1" r="0.8"/>
<circle cx="197.7" cy="329.4" r="0.9"/>
<circle cx="171.9" cy="328.5" r="0.8"/>
<circle cx="201.9" cy="330.9" r="0.7"/>
<circle cx="197.8" cy="318.2" r="1.0"/>
<circle cx="190.4" cy="313.0" r="0.8"/>
<circle cx="158.7" cy="329.4" r="1.0"/>
<circle cx="198.3" cy="355.5" r="0.7"/>
<circle cx="153.2" cy="342.0" r="0.7"/>
<circle cx="170.5" cy="328.1" r="1.0"/>
<circle cx="199.8" cy="351.1" r="1.0"/>
<circle cx="182.6" cy="306.0" r="0.6"/>
<circle cx="169.1" cy="329.5" r="0.9"/>
<circle cx="179.7" cy="318.6" r="0.7"/>
<circle cx="198.2" cy="346.8" r="0.9"/>
<circle cx="199.4" cy="342.0" r="1.0"/>
<circle cx="189.5" cy="360.1" r="0.7"/>
<circle cx="185.5" cy="333.8" r="0.9"/>
<circle cx="186.7" cy="360.4" r="0.7"/>
<circle cx="201.2" cy="347.1" r="0.7"/>
<circle cx="177.6" cy="334.3" r="0.7"/>
<circle cx="154.6" cy="338.1" r="0.8"/>
<circle cx="177.8" cy="333.6" r="1.0"/>
<circle cx="152.2" cy="345.1" r="1.0"/>
<circle cx="153.6" cy="317.5" r="0.6"/>
<circle cx="181.7" cy="354.9" r="1.0"/>
<circle cx="191.4" cy="330.0" r="0.8"/>
<circle cx="171.6" cy="351.3" r="0.7"/>
<circle cx="196.0" cy="332.2" r="0.8"/>
<circle cx="201.4" cy="347.9" r="0.5"/>
<circle cx="183.7" cy="319.1" r="0.6"/>
<circle cx="194.6" cy="337.7" r="1.0"/>
<circle cx="164.5" cy="346.8" r="0.9"/>
<circle cx="179.8" cy="360.3" r="1.0"/>
<circle cx="180.3" cy="327.8" r="0.9"/>
<circle cx="183.2" cy="305.3" r="0.8"/>
<circle cx="196.8" cy="349.1" r="0.8"/>
<circle cx="148.6" cy="335.3" r="0.6"/>
<circle cx="158.3" cy="350.6" r="1.0"/>
<circle cx="206.2" cy="331.0" r="0.6"/>
<circle cx="156.0" cy="343.7" r="0.8"/>
<circle cx="193.2" cy="342.0" r="1.0"/>
<circle cx="155.1" cy="353.8" r="1.0"/>
<circle cx="146.0" cy="330.1" r="1.0"/>
<circle cx="200.7" cy="334.3" r="1.0"/>
<circle cx="169.2" cy="350.6" r="0.6"/>
<circle cx="193.9" cy="316.7" r="0.8"/>
<circle cx="151.6" cy="315.6" r="0.8"/>
<circle cx="156.1" cy="326.2" r="0.7"/>
<circle cx="201.4" cy="327.9" r="0.8"/>
<circle cx="197.8" cy="346.4" r="0.5"/>
<circle cx="161.9" cy="335.4" r="0.7"/>
<circle cx="179.0" cy="347.6" r="0.7"/>
<circle cx="187.9" cy="343.7" r="0.9"/>
<circle cx="199.8" cy="350.2" r="0.7"/>
<circle cx="182.9" cy="360.0" r="0.7"/>
<circle cx="175.6" cy="333.5" r="0.6"/>
<circle cx="196.9" cy="324.2" r="0.7"/>
<circle cx="168.3" cy="327.7" r="0.6"/>
<circle cx="192.7" cy="313.6" r="0.7"/>
<circle cx="187.4" cy="319.8" r="0.7"/>
<circle cx="182.7" cy="304.2" r="0.7"/>
<circle cx="190.8" cy="331.2" r="0.6"/>
<circle cx="152.6" cy="330.7" r="0.8"/>
<circle cx="148.8" cy="338.5" r="0.6"/>
<circle cx="152.3" cy="343.2" r="1.0"/>
<circle cx="175.8" cy="351.7" r="0.8"/>
<circle cx="173.8" cy="355.4" r="1.0"/>
<circle cx="179.3" cy="361.6" r="1.0"/>
<circle cx="157.5" cy="334.1" r="0.6"/>
<circle cx="148.5" cy="323.9" r="0.7"/>
<circle cx="175.4" cy="361.7" r="0.6"/>
<circle cx="150.6" cy="322.0" r="0.8"/>
<circle cx="169.7" cy="356.5" r="0.7"/>
<circle cx="162.5" cy="308.0" r="0.9"/>
<circle cx="178.0" cy="321.7" r="0.6"/>
<circle cx="163.8" cy="310.7" r="1.0"/>
<circle cx="169.0" cy="335.7" r="0.5"/>
<circle cx="198.5" cy="339.8" r="0.7"/>
<circle cx="205.8" cy="339.8" r="0.5"/>
<circle cx="160.1" cy="355.6" r="0.9"/>
<circle cx="182.4" cy="363.4" r="0.7"/>
<circle cx="185.4" cy="314.3" r="0.9"/>
<circle cx="183.7" cy="330.7" r="0.8"/>
<circle cx="150.0" cy="315.9" r="0.8"/>
<circle cx="175.4" cy="344.6" r="0.8"/>
<circle cx="185.9" cy="349.0" r="1.0"/>
<circle cx="182.2" cy="345.9" r="0.9"/>
<circle cx="146.0" cy="332.1" r="0.7"/>
<circle cx="177.4" cy="312.4" r="1.0"/>
<circle cx="188.5" cy="326.0" r="0.7"/>
<circle cx="154.8" cy="336.3" r="0.8"/>
<circle cx="171.8" cy="321.4" r="0.9"/>
<circle cx="185.4" cy="314.5" r="0.6"/>
<circle cx="175.9" cy="357.6" r="0.6"/>
<circle cx="180.5" cy="349.7" r="0.9"/>
<circle cx="175.2" cy="309.4" r="0.6"/>
<circle cx="171.6" cy="339.0" r="1.0"/>
<circle cx="148.1" cy="339.9" r="0.6"/>
<circle cx="174.3" cy="344.7" r="0.7"/>
<circle cx="167.0" cy="311.1" r="0.7"/>
<circle cx="187.8" cy="344.8" r="0.9"/>
<circle cx="190.4" cy="361.2" r="1.0"/>
<circle cx="177.1" cy="334.3" r="1.0"/>
<circle cx="201.4" cy="339.7" r="0.8"/>
<circle cx="155.6" cy="345.5" r="0.5"/>
<circle cx="176.3" cy="303.6" r="0.5"/>
<circle cx="170.5" cy="361.4" r="0.6"/>
<circle cx="193.8" cy="355.3" r="1.0"/>
<circle cx="190.3" cy="331.8" r="0.6"/>
<circle cx="187.2" cy="333.5" r="0.7"/>
<circle cx="203.1" cy="326.0" r="0.6"/>
<circle cx="157.5" cy="347.0" r="0.6"/>
<circle cx="189.3" cy="337.7" r="0.7"/>
<circle cx="206.8" cy="340.1" r="1.0"/>
<circle cx="155.7" cy="336.4" r="0.8"/>
<circle cx="186.6" cy="315.2" r="1.0"/>
<circle cx="192.4" cy="328.3" r="0.8"/>
<circle cx="193.2" cy="328.0" r="1.0"/>
<circle cx="150.3" cy="332.7" r="0.6"/>
<circle cx="155.9" cy="348.6" r="0.6"/>
<circle cx="196.0" cy="329.1" r="0.8"/>
<circle cx="179.5" cy="315.3" r="0.9"/>
<circle cx="173.3" cy="305.0" r="0.7"/>
<circle cx="163.4" cy="353.4" r="0.7"/>
<circle cx="152.7" cy="336.9" r="0.9"/>
<circle cx="185.4" cy="344.3" r="0.6"/>
<circle cx="162.0" cy="331.1" r="1.0"/>
<circle cx="182.1" cy="353.3" r="0.9"/>
<circle cx="174.5" cy="341.6" r="0.6"/>
<circle cx="171.0" cy="314.8" r="1.0"/>
<circle cx="186.1" cy="347.3" r="0.8"/>
<circle cx="167.6" cy="347.7" r="0.6"/>
<circle cx="148.8" cy="331.8" r="0.7"/>
<circle cx="201.3" cy="330.3" r="0.7"/>
<circle cx="165.1" cy="345.3" r="0.6"/>
<circle cx="153.4" cy="336.8" r="0.9"/>
<circle cx="181.2" cy="335.4" r="1.0"/>
<circle cx="159.0" cy="353.6" r="1.0"/>
<circle cx="173.8" cy="346.0" r="0.9"/>
<circle cx="169.0" cy="354.1" r="0.5"/>
<circle cx="158.0" cy="322.3" r="0.6"/>
<circle cx="187.1" cy="361.5" r="1.0"/>
<circle cx="169.6" cy="349.4" r="0.7"/>
<circle cx="165.2" cy="349.1" r="1.0"/>
<circle cx="195.4" cy="334.8" r="0.8"/>
<circle cx="162.2" cy="321.0" r="0.9"/>
<circle cx="165.2" cy="338.2" r="1.0"/>
<circle cx="183.4" cy="358.5" r="1.0"/>
<circle cx="189.7" cy="357.0" r="0.9"/>
<circle cx="158.9" cy="357.8" r="0.6"/>
<circle cx="145.1" cy="329.1" r="0.8"/>
<circle cx="190.6" cy="318.6" r="0.9"/>
<circle cx="149.6" cy="335.2" r="0.9"/>
<circle cx="170.9" cy="305.6" r="0.6"/>
<circle cx="160.1" cy="309.6" r="0.9"/>
<circle cx="186.6" cy="354.0" r="0.5"/>
<circle cx="201.5" cy="328.2" r="0.6"/>
<circle cx="162.1" cy="322.2" r="0.8"/>
<circle cx="183.0" cy="304.1" r="1.0"/>
<circle cx="163.7" cy="313.2" r="0.8"/>
<circle cx="179.7" cy="337.5" r="1.0"/>
<circle cx="204.9" cy="328.1" r="0.6"/>
<circle cx="166.4" cy="322.8" r="0.7"/>
<circle cx="184.1" cy="303.1" r="0.5"/>
<circle cx="181.2" cy="306.5" r="0.9"/>
<circle cx="187.6" cy="347.9" r="0.9"/>
<circle cx="180.1" cy="345.4" r="0.8"/>
<circle cx="184.2" cy="347.1" r="0.6"/>
<circle cx="178.7" cy="342.7" r="0.7"/>
<circle cx="170.0" cy="342.9" r="0.6"/>
<circle cx="169.3" cy="337.6" r="0.7"/>
<circle cx="202.6" cy="340.4" r="0.6"/>
<circle cx="164.8" cy="335.1" r="0.9"/>
<circle cx="202.6" cy="328.4" r="0.5"/>
<circle cx="180.7" cy="345.0" r="1.0"/>
<circle cx="200.3" cy="346.7" r="0.9"/>
<circle cx="186.7" cy="314.9" r="0.7"/>
<circle cx="161.0" cy="353.4" r="0.8"/>
<circle cx="170.5" cy="312.6" r="1.0"/>
<circle cx="162.9" cy="323.2" r="0.7"/>
<circle cx="179.7" cy="363.1" r="0.5"/>
<circle cx="159.3" cy="344.9" r="0.8"/>
<circle cx="197.1" cy="348.5" r="0.6"/>
<circle cx="173.2" cy="350.3" r="0.5"/>
<circle cx="184.2" cy="332.7" r="1.0"/>
<circle cx="164.3" cy="304.6" r="0.8"/>
<circle cx="156.0" cy="326.5" r="0.8"/>
<circle cx="169.9" cy="344.5" r="0.8"/>
<circle cx="184.8" cy="302.5" r="1.0"/>
<circle cx="164.9" cy="324.0" r="0.8"/>
<circle cx="191.7" cy="357.9" r="0.9"/>
<circle cx="163.4" cy="345.5" r="1.0"/>
<circle cx="168.1" cy="336.3" r="0.9"/>
<circle cx="166.7" cy="337.9" r="1.0"/>
<circle cx="179.8" cy="346.3" r="0.8"/>
<circle cx="176.4" cy="351.2" r="0.7"/>
<circle cx="198.4" cy="322.4" r="0.7"/>
<circle cx="191.3" cy="306.1" r="1.0"/>
<circle cx="204.5" cy="337.3" r="0.9"/>
<circle cx="169.9" cy="306.5" r="0.9"/>
<circle cx="184.5" cy="362.4" r="0.9"/>
<circle cx="177.7" cy="356.0" r="0.6"/>
<circle cx="178.6" cy="357.9" r="0.6"/>
<circle cx="201.3" cy="334.1" r="0.8"/>
<circle cx="180.7" cy="329.9" r="0.7"/>
<circle cx="198.5" cy="353.6" r="0.9"/>
<circle cx="188.9" cy="350.7" r="0.9"/>
<circle cx="160.2" cy="317.7" r="0.8"/>
<circle cx="178.2" cy="340.5" r="0.6"/>
<circle cx="164.3" cy="332.2" r="1.0"/>
<circle cx="175.3" cy="336.3" r="0.9"/>
<circle cx="162.2" cy="309.3" r="0.7"/>
<circle cx="198.8" cy="319.6" r="1.0"/>
<circle cx="180.9" cy="316.8" r="0.7"/>
<circle cx="183.1" cy="357.1" r="0.7"/>
<circle cx="157.6" cy="337.5" r="0.6"/>
<circle cx="153.4" cy="318.3" r="0.7"/>
<circle cx="193.5" cy="350.9" r="0.8"/>
<circle cx="148.7" cy="324.1" r="1.0"/>
<circle cx="178.3" cy="308.3" r="1.0"/>
<circle cx="155.2" cy="323.9" r="0.6"/>
<circle cx="167.9" cy="350.0" r="0.6"/>
<circle cx="174.3" cy="346.3" r="0.6"/>
<circle cx="156.6" cy="325.5" r="0.9"/>
<circle cx="171.5" cy="302.5" r="1.0"/>
<circle cx="196.2" cy="349.2" r="1.0"/>
<circle cx="186.6" cy="338.7" r="0.5"/>
<circle cx="189.7" cy="360.7" r="1.0"/>
<circle cx="177.6" cy="334.5" r="0.6"/>
<circle cx="188.3" cy="319.3" r="0.8"/>
<circle cx="163.2" cy="348.7" r="0.8"/>
<circle cx="183.8" cy="329.8" r="0.7"/>
<circle cx="169.9" cy="305.3" r="0.8"/>
<circle cx="175.3" cy="337.9" r="0.6"/>
<circle cx="148.3" cy="321.7" r="0.8"/>
<circle cx="160.2" cy="321.5" r="0.9"/>
<circle cx="197.8" cy="328.7" r="0.9"/>
<circle cx="160.6" cy="329.7" r="1.0"/>
<circle cx="194.7" cy="342.1" r="1.0"/>
<circle cx="158.5" cy="324.1" r="0.6"/>
<circle cx="157.2" cy="352.6" r="0.9"/>
<circle cx="153.8" cy="311.5" r="0.7"/>
<circle cx="170.9" cy="357.3" r="1.0"/>
<circle cx="168.3" cy="304.5" r="1.0"/>
<circle cx="201.5" cy="336.3" r="0.6"/>
<circle cx="164.5" cy="307.2" r="0.9"/>
<circle cx="183.3" cy="350.9" r="0.6"/>
<circle cx="188.9" cy="309.3" r="0.8"/>
<circle cx="150.3" cy="324.6" r="0.7"/>
<circle cx="189.5" cy="360.9" r="0.9"/>
<circle cx="152.5" cy="333.5" r="0.6"/>
<circle cx="177.0" cy="340.1" r="0.9"/>
<circle cx="182.6" cy="317.8" r="0.6"/>
<circle cx="160.9" cy="339.8" r="0.9"/>
<circle cx="176.6" cy="349.0" r="0.7"/>
<circle cx="193.3" cy="312.0" r="0.6"/>
<circle cx="180.9" cy="338.4" r="0.9"/>
<circle cx="168.9" cy="322.1" r="0.7"/>
<circle cx="180.5" cy="327.1" r="0.9"/>
<circle cx="188.5" cy="310.1" r="0.7"/>
<circle cx="174.3" cy="302.3" r="0.8"/>
<circle cx="158.5" cy="315.7" r="1.0"/>
<circle cx="201.9" cy="328.6" r="0.8"/>
<circle cx="192.1" cy="348.4" r="0.7"/>
<circle cx="166.8" cy="312.8" r="0.6"/>
<circle cx="184.9" cy="358.9" r="0.8"/>
<circle cx="178.0" cy="318.9" r="0.7"/>
<circle cx="186.1" cy="341.6" r="0.7"/>
<circle cx="171.5" cy="363.5" r="0.6"/>
<circle cx="166.6" cy="332.0" r="1.0"/>
<circle cx="199.7" cy="350.6" r="0.7"/>
<circle cx="170.0" cy="340.5" r="0.8"/>
<circle cx="199.7" cy="344.2" r="0.8"/>
<circle cx="172.3" cy="358.1" r="0.9"/>
<circle cx="204.2" cy="344.9" r="1.0"/>
<circle cx="185.5" cy="303.6" r="0.7"/>
<circle cx="190.7" cy="347.9" r="1.0"/>
<circle cx="171.8" cy="323.3" r="0.9"/>
<circle cx="184.0" cy="312.6" r="0.9"/>
<circle cx="190.6" cy="317.8" r="0.9"/>
<circle cx="150.8" cy="320.8" r="1.0"/>
<circle cx="184.6" cy="343.8" r="0.8"/>
<circle cx="166.3" cy="347.0" r="0.5"/>
<circle cx="146.5" cy="343.9" r="0.7"/>
<circle cx="180.5" cy="351.7" r="0.8"/>
<circle cx="189.2" cy="335.0" r="0.8"/>
<circle cx="158.9" cy="352.8" r="0.6"/>
<circle cx="204.3" cy="344.5" r="0.9"/>
<circle cx="161.0" cy="313.4" r="0.6"/>
<circle cx="188.9" cy="349.9" r="0.9"/>
<circle cx="154.4" cy="338.0" r="0.5"/>
<circle cx="191.0" cy="327.8" r="0.7"/>
<circle cx="186.8" cy="303.7" r="0.7"/>
<circle cx="148.5" cy="341.7" r="0.8"/>
<circle cx="187.2" cy="342.9" r="0.7"/>
<circle cx="184.3" cy="332.9" r="1.0"/>
<circle cx="190.8" cy="307.8" r="0.7"/>
<circle cx="158.4" cy="357.9" r="0.5"/>
<circle cx="158.8" cy="340.6" r="0.9"/>
<circle cx="163.8" cy="303.7" r="1.0"/>
<circle cx="152.5" cy="313.8" r="0.8"/>
<circle cx="182.4" cy="354.6" r="0.6"/>
<circle cx="200.3" cy="317.4" r="0.6"/>
<circle cx="161.2" cy="312.2" r="0.9"/>
<circle cx="191.0" cy="352.1" r="0.6"/>
<circle cx="159.2" cy="341.3" r="0.7"/>
<circle cx="157.2" cy="345.2" r="0.6"/>
<circle cx="167.7" cy="331.3" r="0.9"/>
<circle cx="197.9" cy="337.8" r="0.5"/>
<circle cx="182.4" cy="302.5" r="0.9"/>
<circle cx="155.5" cy="338.7" r="0.9"/>
<circle cx="193.1" cy="341.6" r="0.8"/>
<circle cx="186.3" cy="351.9" r="0.7"/>
<circle cx="192.0" cy="351.5" r="0.7"/>
<circle cx="192.7" cy="349.3" r="0.6"/>
<circle cx="160.0" cy="325.3" r="0.9"/>
<circle cx="175.0" cy="331.8" r="0.7"/>
<circle cx="177.3" cy="314.4" r="0.9"/>
<circle cx="196.1" cy="309.5" r="0.9"/>
<circle cx="156.6" cy="342.7" r="0.5"/>
<circle cx="171.8" cy="348.5" r="0.9"/>
<circle cx="181.8" cy="308.2" r="0.9"/>
<circle cx="153.3" cy="343.6" r="0.7"/>
<circle cx="199.2" cy="334.8" r="1.0"/>
<circle cx="146.1" cy="333.3" r="0.7"/>
<circle cx="176.0" cy="345.5" r="0.7"/>
</g>
<circle cx="246.4" cy="333.1" r="32.5" fill="rgb(167, 156, 211)"/>
<g fill="rgb(112, 76, 198)" fill-opacity="0.3">
<circle cx="242.7" cy="342.6" r="1.5"/>
<circle cx="272.4" cy="325.2" r="1.7"/>
<circle cx="248.5" cy="354.6" r="1.6"/>
<circle cx="234.5" cy="322.0" r="1.9"/>
<circle cx="248.1" cy="316.9" r="1.4"/>
<circle cx="225.2" cy="323.6" r="2.2"/>
<circle cx="254.4" cy="313.8" r="1.7"/>
<circle cx="251.9" cy="310.5" r="1.3"/>
<circle cx="238.7" cy="340.2" r="1.9"/>
<circle cx="251.0" cy="309.1" r="1.3"/>
<circle cx="243.0" cy="335.4" r="2.0"/>
<circle cx="246.6" cy="319.3" r="2.0"/>
<circle cx="257.5" cy="336.7" r="2.2"/>
<circle cx="251.6" cy="357.3" r="2.2"/>
<circle cx="248.5" cy="312.5" r="1.7"/>
<circle cx="236.5" cy="340.1" r="2.1"/>
<circle cx="219.8" cy="329.7" r="1.7"/>
<circle cx="247.8" cy="348.6" r="1.3"/>
<circle cx="242.2" cy="311.8" r="1.6"/>
<circle cx="264.7" cy="330.3" r="1.6"/>
<circle cx="249.2" cy="349.0" r="1.5"/>
<circle cx="226.6" cy="331.7" r="1.7"/>
<circle cx="255.7" cy="317.5" r="1.9"/>
<circle cx="216.6" cy="331.0" r="1.9"/>
<circle cx="263.1" cy="325.3" r="1.4"/>
<circle cx="253.7" cy="359.9" r="1.3"/>
<circle cx="239.3" cy="360.5" r="1.3"/>
<circle cx="240.8" cy="314.7" r="1.4"/>
<circle cx="273.2" cy="323.6" r="1.4"/>
<circle cx="261.8" cy="350.0" r="1.3"/>
<circle cx="263.0" cy="327.2" r="1.5"/>
<circle cx="266.6" cy="340.4" r="1.8"/>
<circle cx="264.4" cy="351.5" r="1.8"/>
<circle cx="259.1" cy="306.5" r="2.2"/>
<circle cx="229.6" cy="339.9" r="1.9"/>
<circle cx="229.1" cy="344.5" r="1.5"/>
<circle cx="252.2" cy="341.0" r="1.9"/>
<circle cx="272.3" cy="317.2" r="1.5"/>
<circle cx="248.9" cy="341.7" r="1.3"/>
<circle cx="254.2" cy="316.8" r="1.6"/>
<circle cx="255.0" cy="357.3" r="1.4"/>
<circle cx="250.9" cy="331.7" r="2.2"/>
<circle cx="229.2" cy="344.1" r="1.8"/>
<circle cx="248.7" cy="362.4" r="1.8"/>
<circle cx="218.9" cy="325.2" r="1.9"/>
<circle cx="252.0" cy="324.1" r="1.5"/>
<circle cx="251.5" cy="354.5" r="1.5"/>
<circle cx="257.6" cy="324.7" r="1.6"/>
<circle cx="232.1" cy="342.8" r="2.0"/>
<circle cx="219.0" cy="334.4" r="1.6"/>
<circle cx="260.9" cy="309.1" r="1.6"/>
<circle cx="273.7" cy="321.7" r="1.4"/>
<circle cx="219.2" cy="324.1" r="1.5"/>
<circle cx="257.8" cy="320.6" r="2.1"/>
<circle cx="225.0" cy="353.9" r="2.2"/>
<circle cx="243.9" cy="335.5" r="1.9"/>
<circle cx="231.1" cy="326.3" r="2.2"/>
<circle cx="226.9" cy="344.0" r="1.4"/>
<circle cx="243.7" cy="310.8" r="1.4"/>
<circle cx="261.4" cy="327.1" r="1.4"/>
<circle cx="243.0" cy="313.5" r="2.1"/>
<circle cx="226.0" cy="343.4" r="2.0"/>
<circle cx="255.1" cy="324.3" r="1.3"/>
<circle cx="234.5" cy="334.6" r="2.1"/>
<circle cx="236.5" cy="348.5" r="1.3"/>
<circle cx="243.7" cy="351.4" r="1.5"/>
<circle cx="250.3" cy="348.9" r="2.0"/>
<circle cx="262.1" cy="348.3" r="1.9"/>
<circle cx="273.9" cy="336.9" r="2.0"/>
<circle cx="246.6" cy="340.5" r="1.3"/>
</g>
<g fill="rgb(112, 76, 198)" fill-opacity="0.85">
<circle cx="250.9" cy="328.5" r="0.8"/>
<circle cx="224.5" cy="320.0" r="0.7"/>
<circle cx="226.0" cy="339.6" r="0.9"/>
<circle cx="259.6" cy="342.8" r="0.8"/>
<circle cx="225.1" cy="345.6" r="0.7"/>
<circle cx="260.7" cy="330.2" r="1.0"/>
<circle cx="274.7" cy="336.1" r="0.6"/>
<circle cx="241.5" cy="353.0" r="1.0"/>
<circle cx="261.5" cy="349.7" r="0.9"/>
<circle cx="219.7" cy="335.1" r="1.0"/>
<circle cx="251.5" cy="318.2" r="0.7"/>
<circle cx="220.4" cy="324.9" r="1.0"/>
<circle cx="262.4" cy="310.4" r="0.8"/>
<circle cx="239.4" cy="304.5" r="0.9"/>
<circle cx="253.5" cy="346.3" r="0.7"/>
<circle cx="263.6" cy="329.2" r="0.9"/>
<circle cx="239.1" cy="358.6" r="1.0"/>
<circle cx="270.2" cy="331.5" r="0.8"/>
<circle cx="260.7" cy="358.4" r="0.6"/>
<circle cx="266.9" cy="353.9" r="0.8"/>
<circle cx="233.0" cy="336.4" r="1.0"/>
<circle cx="235.0" cy="306.1" r="0.7"/>
<circle cx="224.0" cy="335.8" r="0.6"/>
<circle cx="270.5" cy="336.1" r="0.7"/>
<circle cx="261.4" cy="310.1" r="0.9"/>
<circle cx="232.6" cy="326.1" r="0.8"/>
<circle cx="238.4" cy="319.3" r="0.8"/>
<circle cx="269.8" cy="344.1" r="0.7"/>
<circle cx="251.7" cy="359.1" r="0.9"/>
<circle cx="246.9" cy="335.7" r="0.8"/>
<circle cx="255.3" cy="330.3" r="0.9"/>
<circle cx="225.6" cy="316.8" r="0.5"/>
<circle cx="241.2" cy="337.1" r="1.0"/>
<circle cx="272.9" cy="331.1" r="0.8"/>
<circle cx="248.1" cy="321.8" r="1.0"/>
<circle cx="230.8" cy="346.6" r="0.5"/>
<circle cx="272.9" cy="347.8" r="0.6"/>
<circle cx="219.6" cy="332.6" r="0.9"/>
<circle cx="222.0" cy="342.5" r="1.0"/>
<circle cx="252.1" cy="351.8" r="0.8"/>
<circle cx="238.0" cy="310.9" r="0.5"/>
<circle cx="247.1" cy="351.9" r="1.0"/>
<circle cx="234.2" cy="322.1" r="0.8"/>
<circle cx="237.5" cy="362.8" r="0.9"/>
<circle cx="260.7" cy="319.6" r="0.6"/>
<circle cx="249.6" cy="320.1" r="1.0"/>
<circle cx="249.7" cy="304.0" r="0.8"/>
<circle cx="243.1" cy="328.9" r="0.7"/>
<circle cx="252.2" cy="338.5" r="0.8"/>
<circle cx="266.9" cy="341.6" r="0.6"/>
<circle cx="257.1" cy="359.2" r="1.0"/>
<circle cx="229.7" cy="314.9" r="0.6"/>
<circle cx="220.0" cy="346.7" r="0.5"/>
<circle cx="235.2" cy="343.8" r="0.6"/>
<circle cx="262.2" cy="355.0" r="0.7"/>
<circle cx="264.2" cy="331.5" r="0.9"/>
<circle cx="228.2" cy="353.9" r="0.5"/>
<circle cx="262.0" cy="331.5" r="0.9"/>
<circle cx="244.6" cy="336.8" r="0.8"/>
<circle cx="266.0" cy="352.9" r="0.6"/>
<circle cx="268.4" cy="340.2" r="0.8"/>
<circle cx="229.7" cy="312.4" r="0.5"/>
<circle cx="269.8" cy="317.2" r="0.9"/>
<circle cx="263.4" cy="333.7" r="0.6"/>
<circle cx="258.5" cy="322.1" r="0.7"/>
<circle cx="253.3" cy="359.1" r="0.6"/>
<circle cx="219.7" cy="339.0" r="0.7"/>
<circle cx="249.8" cy="355.4" r="0.6"/>
<circle cx="242.4" cy="305.0" r="0.6"/>
<circle cx="264.7" cy="339.1" r="0.5"/>
<circle cx="264.3" cy="308.1" r="0.8"/>
<circle cx="222.5" cy="329.6" r="0.7"/>
<circle cx="222.5" cy="326.9" r="1.0"/>
<circle cx="243.0" cy="344.7" r="0.7"/>
<circle cx="263.2" cy="338.4" r="0.8"/>
<circle cx="261.2" cy="314.0" r="1.0"/>
<circle cx="253.2" cy="302.6" r="1.0"/>
<circle cx="240.1" cy="344.8" r="0.9"/>
<circle cx="245.0" cy="313.0" r="1.0"/>
<circle cx="228.9" cy="310.6" r="0.5"/>
<circle cx="262.1" cy="308.1" r="0.6"/>
<circle cx="255.1" cy="319.4" r="1.0"/>
<circle cx="260.8" cy="308.2" r="0.6"/>
<circle cx="254.3" cy="355.0" r="0.6"/>
<circle cx="223.9" cy="354.2" r="1.0"/>
<circle cx="253.1" cy="344.1" r="0.9"/>
<circle cx="243.7" cy="331.9" r="1.0"/>
<circle cx="250.2" cy="341.5" r="1.0"/>
<circle cx="251.0" cy="324.2" r="0.8"/>
<circle cx="275.8" cy="322.1" r="1.0"/>
<circle cx="262.6" cy="307.3" r="0.7"/>
<circle cx="239.2" cy="304.9" r="1.0"/>
<circle cx="222.8" cy="316.5" r="0.9"/>
<circle cx="272.9" cy="319.1" r="1.0"/>
<circle cx="253.6" cy="350.0" r="0.8"/>
<circle cx="263.2" cy="333.5" r="1.0"/>
<circle cx="268.2" cy="329.7" r="0.8"/>
<circle cx="264.0" cy="348.0" r="1.0"/>
<circle cx="237.2" cy="356.9" r="0.9"/>
<circle cx="226.5" cy="338.9" r="0.9"/>
<circle cx="254.5" cy="349.6" r="0.6"/>
<circle cx="260.7" cy="339.2" r="1.0"/>
<circle cx="246.2" cy="313.1" r="0.6"/>
<circle cx="229.6" cy="331.7" r="0.8"/>
<circle cx="258.1" cy="318.3" r="0.7"/>
<circle cx="260.0" cy="307.3" r="0.9"/>
<circle cx="230.9" cy="359.2" r="0.5"/>
<circle cx="273.1" cy="331.1" r="0.5"/>
<circle cx="260.0" cy="357.7" r="1.0"/>
<circle cx="266.6" cy="347.5" r="1.0"/>
<circle cx="231.2" cy="306.8" r="1.0"/>
<circle cx="250.5" cy="341.3" r="1.0"/>
<circle cx="247.1" cy="362.6" r="1.0"/>
<circle cx="225.5" cy="351.1" r="0.6"/>
<circle cx="235.4" cy="332.3" r="0.8"/>
<circle cx="259.3" cy="349.1" r="0.5"/>
<circle cx="270.9" cy="329.7" r="0.7"/>
<circle cx="250.7" cy="360.6" r="0.8"/>
<circle cx="240.5" cy="330.5" r="0.7"/>
<circle cx="218.2" cy="339.1" r="0.6"/>
<circle cx="268.4" cy="340.1" r="0.6"/>
<circle cx="256.5" cy="335.6" r="0.8"/>
<circle cx="231.9" cy="340.3" r="0.9"/>
<circle cx="262.6" cy="338.4" r="0.8"/>
<circle cx="247.5" cy="364.0" r="0.7"/>
<circle cx="216.9" cy="341.5" r="0.8"/>
<circle cx="248.7" cy="354.7" r="1.0"/>
<circle cx="255.0" cy="317.8" r="0.5"/>
<circle cx="261.8" cy="325.3" r="0.5"/>
<circle cx="222.3" cy="346.4" r="0.7"/>
<circle cx="256.4" cy="304.3" r="0.9"/>
<circle cx="264.2" cy="316.8" r="0.5"/>
<circle cx="239.4" cy="318.8" r="0.9"/>
<circle cx="263.6" cy="320.2" r="0.9"/>
<circle cx="269.2" cy="340.3" r="0.9"/>
<circle cx="253.6" cy="329.0" r="0.6"/>
<circle cx="248.1" cy="308.5" r="0.7"/>
<circle cx="254.6" cy="331.6" r="1.0"/>
<circle cx="258.2" cy="343.2" r="0.9"/>
<circle cx="272.5" cy="341.9" r="0.7"/>
<circle cx="253.4" cy="309.7" r="0.6"/>
<circle cx="254.1" cy="303.9" r="0.9"/>
<circle cx="263.8" cy="344.7" r="0.5"/>
<circle cx="230.5" cy="338.4" r="0.8"/>
<circle cx="264.7" cy="313.0" r="0.9"/>
<circle cx="267.0" cy="340.7" r="0.7"/>
<circle cx="241.9" cy="303.8" r="0.5"/>
<circle cx="258.2" cy="319.3" r="0.5"/>
<circle cx="229.5" cy="317.4" r="1.0"/>
<circle cx="253.5" cy="312.7" r="0.9"/>
<circle cx="263.9" cy="318.7" r="0.7"/>
<circle cx="229.8" cy="309.3" r="0.9"/>
<circle cx="237.0" cy="324.5" r="0.9"/>
<circle cx="224.6" cy="317.5" r="0.8"/>
<circle cx="261.8" cy="336.9" r="0.8"/>
<circle cx="256.4" cy="348.0" r="0.7"/>
<circle cx="256.8" cy="346.2" r="0.7"/>
<circle cx="269.2" cy="319.2" r="0.6"/>
<circle cx="224.4" cy="351.0" r="0.5"/>
<circle cx="239.5" cy="307.3" r="0.6"/>
<circle cx="263.8" cy="334.6" r="0.7"/>
<circle cx="242.0" cy="325.6" r="0.6"/>
<circle cx="245.3" cy="326.9" r="0.8"/>
<circle cx="233.8" cy="346.3" r="0.7"/>
<circle cx="231.2" cy="356.7" r="1.0"/>
<circle cx="222.8" cy="322.0" r="1.0"/>
<circle cx="263.1" cy="346.7" r="0.5"/>
<circle cx="247.4" cy="303.3" r="0.6"/>
<circle cx="224.4" cy="344.7" r="0.8"/>
<circle cx="265.4" cy="339.8" r="0.7"/>
<circle cx="222.6" cy="315.2" r="0.5"/>
<circle cx="225.7" cy="327.7" r="0.7"/>
<circle cx="253.9" cy="352.9" r="0.6"/>
<circle cx="238.6" cy="317.9" r="1.0"/>
<circle cx="247.0" cy="347.6" r="0.6"/>
<circle cx="242.3" cy="304.5" r="1.0"/>
<circle cx="221.4" cy="330.6" r="0.7"/>
<circle cx="236.1" cy="330.8" r="1.0"/>
<circle cx="226.9" cy="343.0" r="0.6"/>
<circle cx="232.5" cy="331.9" r="1.0"/>
<circle cx="263.1" cy="341.5" r="0.5"/>
<circle cx="253.1" cy="354.4" r="0.5"/>
<circle cx="230.1" cy="314.9" r="0.9"/>
<circle cx="232.7" cy="354.2" r="0.7"/>
<circle cx="234.4" cy="304.2" r="0.6"/>
<circle cx="234.6" cy="307.6" r="0.6"/>
<circle cx="267.8" cy="340.0" r="0.8"/>
<circle cx="225.4" cy="315.4" r="0.7"/>
<circle cx="255.6" cy="308.2" r="0.6"/>
<circle cx="248.8" cy="354.2" r="1.0"/>
<circle cx="262.6" cy="316.9" r="0.8"/>
<circle cx="219.2" cy="334.0" r="0.5"/>
<circle cx="240.5" cy="311.3" r="0.8"/>
<circle cx="252.7" cy="324.9" r="0.8"/>
<circle cx="261.3" cy="328.4" r="0.8"/>
<circle cx="241.7" cy="360.3" r="0.9"/>
<circle cx="253.9" cy="342.1" r="0.7"/>
<circle cx="220.0" cy="342.7" r="1.0"/>
<circle cx="237.5" cy="330.0" r="0.8"/>
<circle cx="254.7" cy="330.1" r="0.7"/>
<circle cx="243.8" cy="358.3" r="0.6"/>
<circle cx="259.5" cy="336.9" r="0.8"/>
<circle cx="220.9" cy="346.8" r="0.6"/>
<circle cx="228.7" cy="308.5" r="0.5"/>
<circle cx="232.1" cy="333.9" r="0.7"/>
<circle cx="244.9" cy="360.5" r="0.6"/>
<circle cx="260.6" cy="331.6" r="0.7"/>
<circle cx="239.3" cy="324.6" r="0.6"/>
<circle cx="233.5" cy="355.3" r="1.0"/>
<circle cx="232.2" cy="324.1" r="0.8"/>
<circle cx="265.4" cy="331.0" r="0.6"/>
<circle cx="267.0" cy="338.2" r="1.0"/>
<circle cx="270.9" cy="323.6" r="0.6"/>
<circle cx="236.0" cy="343.2" r="0.7"/>
<circle cx="247.1" cy="327.6" r="0.8"/>
<circle cx="251.8" cy="357.3" r="0.9"/>
<circle cx="248.2" cy="314.6" r="1.0"/>
<circle cx="263.5" cy="334.6" r="0.6"/>
<circle cx="237.5" cy="313.1" r="0.8"/>
<circle cx="255.9" cy="336.6" r="0.9"/>
<circle cx="228.4" cy="308.8" r="0.7"/>
<circle cx="229.5" cy="321.3" r="1.0"/>
<circle cx="240.2" cy="354.3" r="0.9"/>
<circle cx="231.9" cy="348.0" r="0.6"/>
<circle cx="268.0" cy="327.7" r="0.8"/>
<circle cx="256.7" cy="350.5" r="0.7"/>
<circle cx="253.8" cy="350.6" r="0.7"/>
<circle cx="241.0" cy="326.5" r="1.0"/>
<circle cx="248.2" cy="330.4" r="0.7"/>
<circle cx="245.8" cy="326.8" r="1.0"/>
<circle cx="254.5" cy="331.5" r="0.7"/>
<circle cx="262.9" cy="329.8" r="0.9"/>
<circle cx="247.0" cy="331.2" r="0.8"/>
<circle cx="232.6" cy="358.2" r="0.5"/>
<circle cx="244.0" cy="328.8" r="0.8"/>
<circle cx="216.4" cy="337.8" r="1.0"/>
<circle cx="258.0" cy="309.5" r="0.7"/>
<circle cx="229.2" cy="321.9" r="0.9"/>
<circle cx="271.7" cy="329.2" r="0.6"/>
<circle cx="224.6" cy="325.8" r="1.0"/>
<circle cx="237.8" cy="351.0" r="0.9"/>
<circle cx="228.9" cy="319.6" r="0.8"/>
<circle cx="247.6" cy="342.5" r="0.7"/>
<circle cx="220.0" cy="328.1" r="0.7"/>
<circle cx="230.6" cy="359.6" r="1.0"/>
<circle cx="253.7" cy="361.3" r="0.7"/>
<circle cx="273.0" cy="342.1" r="0.8"/>
<circle cx="265.3" cy="324.4" r="0.5"/>
<circle cx="226.0" cy="349.6" r="0.6"/>
<circle cx="238.2" cy="320.5" r="0.9"/>
<circle cx="272.8" cy="335.0" r="0.6"/>
<circle cx="222.9" cy="353.3" r="0.6"/>
<circle cx="274.0" cy="347.3" r="0.9"/>
<circle cx="225.6" cy="323.7" r="0.8"/>
<circle cx="228.8" cy="310.7" r="0.6"/>
<circle cx="232.4" cy="350.5" r="0.6"/>
<circle cx="266.0" cy="349.0" r="1.0"/>
<circle cx="253.4" cy="316.8" r="0.7"/>
<circle cx="274.9" cy="330.9" r="0.8"/>
<circle cx="256.4" cy="338.6" r="0.9"/>
<circle cx="229.1" cy="352.0" r="0.6"/>
<circle cx="237.4" cy="312.4" r="0.6"/>
<circle cx="257.3" cy="344.5" r="0.7"/>
<circle cx="216.7" cy="325.5" r="0.6"/>
<circle cx="254.3" cy="354.6" r="0.6"/>
<circle cx="268.8" cy="333.8" r="0.7"/>
<circle cx="233.3" cy="314.8" r="0.5"/>
<circle cx="237.5" cy="336.6" r="0.5"/>
<circle cx="265.3" cy="309.8" r="1.0"/>
<circle cx="243.8" cy="308.6" r="0.8"/>
<circle cx="228.8" cy="330.5" r="1.0"/>
<circle cx="217.1" cy="339.9" r="0.7"/>
<circle cx="246.5" cy="358.3" r="0.9"/>
<circle cx="231.7" cy="334.4" r="0.5"/>
<circle cx="238.6" cy="324.6" r="1.0"/>
<circle cx="220.5" cy="339.8" r="0.6"/>
<circle cx="259.3" cy="324.6" r="1.0"/>
<circle cx="271.3" cy="343.7" r="0.7"/>
<circle cx="269.1" cy="323.9" r="0.9"/>
<circle cx="220.0" cy="325.2" r="0.7"/>
<circle cx="227.9" cy="350.9" r="0.5"/>
<circle cx="243.1" cy="346.7" r="0.6"/>
<circle cx="246.3" cy="338.1" r="0.8"/>
<circle cx="222.6" cy="346.1" r="1.0"/>
<circle cx="225.5" cy="318.4" r="1.0"/>
<circle cx="266.8" cy="328.2" r="1.0"/>
<circle cx="227.3" cy="342.7" r="0.6"/>
<circle cx="245.8" cy="317.3" r="0.7"/>
<circle cx="242.6" cy="334.5" r="1.0"/>
<circle cx="257.9" cy="333.2" r="1.0"/>
<circle cx="247.1" cy="328.5" r="0.6"/>
<circle cx="242.7" cy="335.4" r="0.6"/>
<circle cx="228.9" cy="358.9" r="0.5"/>
<circle cx="241.8" cy="319.4" r="0.8"/>
<circle cx="273.7" cy="335.1" r="1.0"/>
<circle cx="275.1" cy="344.9" r="1.0"/>
<circle cx="238.5" cy="353.5" r="0.5"/>
<circle cx="249.5" cy="339.9" r="0.7"/>
<circle cx="246.4" cy="341.4" r="0.5"/>
<circle cx="249.4" cy="340.1" r="0.6"/>
<circle cx="257.1" cy="315.6" r="0.5"/>
<circle cx="255.1" cy="323.4" r="0.6"/>
<circle cx="274.2" cy="340.9" r="0.7"/>
<circle cx="226.7" cy="322.2" r="1.0"/>
<circle cx="269.4" cy="316.8" r="0.8"/>
<circle cx="241.6" cy="319.2" r="1.0"/>
<circle cx="241.4" cy="332.6" r="0.7"/>
<circle cx="262.5" cy="327.6" r="0.6"/>
<circle cx="266.9" cy="331.2" r="0.8"/>
<circle cx="236.0" cy="345.3" r="0.7"/>
<circle cx="266.5" cy="324.1" r="0.9"/>
<circle cx="234.6" cy="322.8" r="1.0"/>
<circle cx="256.6" cy="327.3" r="0.5"/>
<circle cx="244.5" cy="321.0" r="1.0"/>
<circle cx="223.8" cy="334.9" r="0.7"/>
<circle cx="229.8" cy="327.1" r="0.5"/>
<circle cx="217.7" cy="326.7" r="0.9"/>
<circle cx="218.0" cy="339.3" r="0.5"/>
<circle cx="250.8" cy="351.7" r="0.5"/>
<circle cx="270.2" cy="348.2" r="0.8"/>
</g>
<circle cx="315.2" cy="332.8" r="32.9" fill="rgb(172, 162, 213)"/>
<g fill="rgb(116, 80, 200)" fill-opacity="0.3">
<circle cx="307.7" cy="321.8" r="2.2"/>
<circle cx="331.2" cy="324.3" r="1.4"/>
<circle cx="305.8" cy="346.5" r="1.6"/>
<circle cx="304.3" cy="307.8" r="2.2"/>
<circle cx="294.0" cy="314.2" r="1.9"/>
<circle cx="326.6" cy="339.0" r="1.5"/>
<circle cx="327.6" cy="342.7" r="1.9"/>
<circle cx="314.3" cy="312.0" r="1.8"/>
<circle cx="299.0" cy="312.8" r="1.7"/>
<circle cx="300.5" cy="349.8" r="1.8"/>
<circle cx="329.0" cy="348.7" r="1.8"/>
<circle cx="316.3" cy="316.2" r="2.3"/>
<circle cx="311.0" cy="308.6" r="1.8"/>
<circle cx="323.9" cy="348.8" r="1.5"/>
<circle cx="306.9" cy="334.0" r="1.2"/>
<circle cx="318.0" cy="332.8" r="1.5"/>
<circle cx="289.8" cy="350.4" r="1.6"/>
<circle cx="310.0" cy="353.8" r="1.9"/>
<circle cx="333.5" cy="314.6" r="1.3"/>
<circle cx="339.4" cy="315.7" r="1.3"/>
<circle cx="327.8" cy="305.9" r="2.1"/>
<circle cx="330.9" cy="325.6" r="1.9"/>
<circle cx="320.2" cy="304.9" r="1.9"/>
<circle cx="334.1" cy="316.0" r="1.6"/>
<circle cx="334.0" cy="326.2" r="1.3"/>
</g>
<g fill="rgb(116, 80, 200)" fill-opacity="0.85">
<circle cx="331.8" cy="322.7" r="0.9"/>
<circle cx="336.5" cy="314.4" r="0.9"/>
<circle cx="304.9" cy="353.1" r="0.7"/>
<circle cx="321.6" cy="316.1" r="0.7"/>
<circle cx="316.9" cy="322.2" r="0.9"/>
<circle cx="290.4" cy="324.1" r="0.9"/>
<circle cx="316.4" cy="362.9" r="0.8"/>
<circle cx="308.7" cy="340.9" r="0.6"/>
<circle cx="332.0" cy="336.6" r="0.6"/>
<circle cx="322.4" cy="334.2" r="0.6"/>
<circle cx="317.2" cy="342.4" r="0.7"/>
<circle cx="325.1" cy="340.7" r="0.8"/>
<circle cx="296.5" cy="351.4" r="0.6"/>
<circle cx="305.4" cy="319.0" r="0.7"/>
<circle cx="315.0" cy="342.4" r="1.0"/>
<circle cx="315.1" cy="334.4" r="0.8"/>
<circle cx="324.8" cy="336.3" r="0.6"/>
<circle cx="320.9" cy="351.4" r="0.7"/>
<circle cx="305.1" cy="359.0" r="0.7"/>
<circle cx="336.8" cy="317.1" r="1.0"/>
<circle cx="298.3" cy="340.5" r="0.8"/>
<circle cx="324.2" cy="332.7" r="0.9"/>
<circle cx="326.0" cy="311.7" r="0.6"/>
<circle cx="333.4" cy="332.6" r="1.0"/>
<circle cx="304.4" cy="334.5" r="0.8"/>
<circle cx="310.2" cy="349.8" r="1.0"/>
<circle cx="334.9" cy="318.7" r="0.9"/>
<circle cx="304.3" cy="314.4" r="0.9"/>
<circle cx="290.3" cy="313.0" r="0.9"/>
<circle cx="319.9" cy="328.8" r="0.8"/>
<circle cx="325.4" cy="347.2" r="0.5"/>
<circle cx="329.8" cy="317.0" r="0.8"/>
<circle cx="328.2" cy="308.0" r="1.0"/>
<circle cx="325.1" cy="335.1" r="0.8"/>
<circle cx="288.0" cy="316.6" r="0.7"/>
<circle cx="325.4" cy="344.8" r="0.6"/>
<circle cx="314.8" cy="309.2" r="0.6"/>
<circle cx="316.0" cy="313.1" r="0.6"/>
<circle cx="340.5" cy="345.1" r="1.0"/>
<circle cx="307.5" cy="302.5" r="1.0"/>
<circle cx="326.9" cy="333.2" r="0.8"/>
<circle cx="296.3" cy="330.9" r="0.6"/>
<circle cx="312.1" cy="364.2" r="0.8"/>
<circle cx="291.1" cy="345.8" r="0.9"/>
<circle cx="323.9" cy="305.9" r="0.7"/>
<circle cx="315.9" cy="355.4" r="0.9"/>
<circle cx="311.8" cy="363.0" r="0.6"/>
<circle cx="317.3" cy="352.5" r="0.6"/>
<circle cx="327.3" cy="345.9" r="0.5"/>
<circle cx="296.2" cy="318.7" r="0.6"/>
<circle cx="314.0" cy="312.4" r="0.8"/>
<circle cx="332.1" cy="317.8" r="0.6"/>
<circle cx="308.9" cy="343.6" r="1.0"/>
<circle cx="315.9" cy="341.3" r="0.7"/>
<circle cx="300.8" cy="357.1" r="0.5"/>
<circle cx="318.2" cy="350.4" r="0.6"/>
<circle cx="285.1" cy="330.3" r="1.0"/>
<circle cx="312.3" cy="331.1" r="0.9"/>
<circle cx="329.0" cy="351.6" r="0.8"/>
<circle cx="337.9" cy="324.9" r="0.6"/>
<circle cx="338.9" cy="347.0" r="0.7"/>
<circle cx="306.2" cy="354.5" r="0.9"/>
<circle cx="312.4" cy="330.7" r="1.0"/>
<circle cx="299.5" cy="307.5" r="0.9"/>
<circle cx="306.1" cy="318.9" r="0.7"/>
<circle cx="331.6" cy="325.6" r="1.0"/>
<circle cx="313.8" cy="354.3" r="1.0"/>
<circle cx="300.5" cy="315.1" r="0.5"/>
<circle cx="306.1" cy="339.9" r="0.8"/>
<circle cx="331.3" cy="330.6" r="1.0"/>
<circle cx="327.0" cy="326.7" r="1.0"/>
<circle cx="312.0" cy="320.1" r="0.6"/>
<circle cx="292.7" cy="313.3" r="0.7"/>
<circle cx="318.4" cy="307.5" r="0.6"/>
<circle cx="310.4" cy="316.3" r="0.6"/>
<circle cx="309.4" cy="334.4" r="1.0"/>
<circle cx="346.0" cy="339.9" r="1.0"/>
<circle cx="334.2" cy="317.1" r="1.0"/>
<circle cx="333.9" cy="338.2" r="0.8"/>
<circle cx="329.1" cy="355.3" r="0.9"/>
<circle cx="308.1" cy="335.3" r="0.7"/>
<circle cx="335.1" cy="308.1" r="0.7"/>
<circle cx="344.8" cy="335.4" r="0.9"/>
<circle cx="337.0" cy="338.5" r="0.7"/>
<circle cx="339.3" cy="331.4" r="1.0"/>
<circle cx="298.9" cy="342.1" r="0.8"/>
<circle cx="332.4" cy="343.6" r="0.7"/>
<circle cx="328.2" cy="359.0" r="0.8"/>
<circle cx="310.5" cy="308.4" r="0.6"/>
<circle cx="312.7" cy="346.3" r="0.8"/>
<circle cx="311.2" cy="343.6" r="1.0"/>
<circle cx="336.8" cy="355.8" r="0.7"/>
<circle cx="300.6" cy="304.7" r="0.6"/>
<circle cx="328.5" cy="320.1" r="0.8"/>
<circle cx="292.7" cy="339.6" r="0.9"/>
<circle cx="317.3" cy="313.3" r="0.9"/>
<circle cx="331.4" cy="316.8" r="0.8"/>
<circle cx="301.9" cy="335.9" r="0.8"/>
<circle cx="313.6" cy="352.2" r="1.0"/>
<circle cx="310.8" cy="350.7" r="0.9"/>
<circle cx="291.8" cy="315.0" r="0.6"/>
<circle cx="314.2" cy="346.1" r="0.6"/>
<circle cx="293.2" cy="350.0" r="1.0"/>
<circle cx="323.9" cy="358.2" r="0.6"/>
<circle cx="304.3" cy="336.1" r="0.6"/>
<circle cx="325.8" cy="307.9" r="0.8"/>
<circle cx="323.3" cy="325.9" r="0.7"/>
<circle cx="310.0" cy="322.6" r="0.7"/>
<circle cx="303.2" cy="338.7" r="0.7"/>
<circle cx="313.6" cy="356.3" r="0.7"/>
<circle cx="298.6" cy="325.2" r="0.9"/>
<circle cx="333.2" cy="315.4" r="1.0"/>
<circle cx="306.2" cy="334.9" r="1.0"/>
<circle cx="318.0" cy="341.0" r="0.9"/>
<circle cx="334.1" cy="345.5" r="0.7"/>
<circle cx="335.6" cy="339.7" r="0.6"/>
<circle cx="306.1" cy="305.0" r="0.7"/>
<circle cx="296.6" cy="325.6" r="0.8"/>
<circle cx="330.4" cy="329.8" r="0.8"/>
<circle cx="345.6" cy="335.4" r="0.5"/>
<circle cx="297.8" cy="341.3" r="0.8"/>
<circle cx="315.1" cy="346.3" r="0.8"/>
<circle cx="327.7" cy="304.0" r="0.7"/>
<circle cx="315.9" cy="350.9" r="0.6"/>
<circle cx="335.2" cy="312.4" r="0.6"/>
<circle cx="334.3" cy="320.9" r="0.8"/>
<circle cx="296.4" cy="312.5" r="0.6"/>
<circle cx="300.7" cy="351.5" r="0.8"/>
<circle cx="312.6" cy="317.9" r="0.6"/>
<circle cx="305.7" cy="314.3" r="1.0"/>
<circle cx="345.3" cy="324.4" r="1.0"/>
<circle cx="336.6" cy="314.1" r="0.5"/>
<circle cx="323.8" cy="304.9" r="0.6"/>
<circle cx="338.5" cy="352.2" r="0.6"/>
<circle cx="333.4" cy="338.5" r="0.7"/>
<circle cx="310.7" cy="345.8" r="0.8"/>
<circle cx="318.5" cy="327.8" r="0.8"/>
<circle cx="341.8" cy="322.1" r="0.5"/>
<circle cx="302.4" cy="326.9" r="0.6"/>
<circle cx="335.5" cy="310.0" r="1.0"/>
</g>
<rect x="410.40" y="249.34" width="16.10" height="94.96" fill="#000"/>
<line x1="418.45" y1="249.34" x2="418.45" y2="241.78" stroke="#000" stroke-width="1.2" />
<line x1="415.55" y1="241.78" x2="421.35" y2="241.78" stroke="#000" stroke-width="1.3" />
<line x1="418.45" y1="344.30" x2="418.45" y2="347.30" stroke="#000" stroke-width="1.2" />
<rect x="433.40" y="257.59" width="16.10" height="86.71" fill="#000"/>
<line x1="441.45" y1="257.59" x2="441.45" y2="252.97" stroke="#000" stroke-width="1.2" />
<line x1="438.55" y1="252.97" x2="444.35" y2="252.97" stroke="#000" stroke-width="1.3" />
<line x1="441.45" y1="344.30" x2="441.45" y2="347.30" stroke="#000" stroke-width="1.2" />
<rect x="456.40" y="266.53" width="16.10" height="77.77" fill="#000"/>
<line x1="464.45" y1="266.53" x2="464.45" y2="262.50" stroke="#000" stroke-width="1.2" />
<line x1="461.55" y1="262.50" x2="467.35" y2="262.50" stroke="#000" stroke-width="1.3" />
<line x1="464.45" y1="344.30" x2="464.45" y2="347.30" stroke="#000" stroke-width="1.2" />
<rect x="479.40" y="286.75" width="16.10" height="57.55" fill="#000"/>
<line x1="487.45" y1="286.75" x2="487.45" y2="281.94" stroke="#000" stroke-width="1.2" />
<line x1="484.55" y1="281.94" x2="490.35" y2="281.94" stroke="#000" stroke-width="1.3" />
<line x1="487.45" y1="344.30" x2="487.45" y2="347.30" stroke="#000" stroke-width="1.2" />
<rect x="502.40" y="328.00" width="16.10" height="16.30" fill="#000"/>
<line x1="510.45" y1="328.00" x2="510.45" y2="324.56" stroke="#000" stroke-width="1.2" />
<line x1="507.55" y1="324.56" x2="513.35" y2="324.56" stroke="#000" stroke-width="1.3" />
<line x1="510.45" y1="344.30" x2="510.45" y2="347.30" stroke="#000" stroke-width="1.2" />
<line x1="403.50" y1="225.86" x2="403.50" y2="344.90" stroke="#000" stroke-width="1.2" />
<line x1="400.70" y1="344.30" x2="526.50" y2="344.30" stroke="#000" stroke-width="1.2" />
<line x1="400.30" y1="344.30" x2="403.50" y2="344.30" stroke="#000" stroke-width="1.2" />
<text x="399.3" y="347.65000000000003" font-family="'Liberation Sans', sans-serif" font-size="9.9" font-weight="bold" fill="#000" text-anchor="end" textLength="3.5" lengthAdjust="spacingAndGlyphs" >0</text>
<line x1="400.30" y1="324.66" x2="403.50" y2="324.66" stroke="#000" stroke-width="1.2" />
<text x="399.3" y="328.01000000000005" font-family="'Liberation Sans', sans-serif" font-size="9.9" font-weight="bold" fill="#000" text-anchor="end" textLength="6.5" lengthAdjust="spacingAndGlyphs" >20</text>
<line x1="400.30" y1="305.02" x2="403.50" y2="305.02" stroke="#000" stroke-width="1.2" />
<text x="399.3" y="308.37" font-family="'Liberation Sans', sans-serif" font-size="9.9" font-weight="bold" fill="#000" text-anchor="end" textLength="6.5" lengthAdjust="spacingAndGlyphs" >40</text>
<line x1="400.30" y1="285.38" x2="403.50" y2="285.38" stroke="#000" stroke-width="1.2" />
<text x="399.3" y="288.73" font-family="'Liberation Sans', sans-serif" font-size="9.9" font-weight="bold" fill="#000" text-anchor="end" textLength="6.5" lengthAdjust="spacingAndGlyphs" >60</text>
<line x1="400.30" y1="265.74" x2="403.50" y2="265.74" stroke="#000" stroke-width="1.2" />
<text x="399.3" y="269.09000000000003" font-family="'Liberation Sans', sans-serif" font-size="9.9" font-weight="bold" fill="#000" text-anchor="end" textLength="6.5" lengthAdjust="spacingAndGlyphs" >80</text>
<line x1="400.30" y1="246.10" x2="403.50" y2="246.10" stroke="#000" stroke-width="1.2" />
<text x="399.3" y="249.45000000000002" font-family="'Liberation Sans', sans-serif" font-size="9.9" font-weight="bold" fill="#000" text-anchor="end" textLength="9.5" lengthAdjust="spacingAndGlyphs" >100</text>
<line x1="400.30" y1="226.46" x2="403.50" y2="226.46" stroke="#000" stroke-width="1.2" />
<text x="399.3" y="229.81" font-family="'Liberation Sans', sans-serif" font-size="9.9" font-weight="bold" fill="#000" text-anchor="end" textLength="9.5" lengthAdjust="spacingAndGlyphs" >120</text>
<text x="417.85" y="355.9" font-family="'Liberation Serif', serif" font-size="8.6" font-weight="bold" fill="#000" text-anchor="middle" textLength="3.6" lengthAdjust="spacingAndGlyphs" >0</text>
<text x="441.55" y="355.9" font-family="'Liberation Serif', serif" font-size="8.6" font-weight="bold" fill="#000" text-anchor="middle" textLength="10.4" lengthAdjust="spacingAndGlyphs" >0.3</text>
<text x="463.85" y="355.9" font-family="'Liberation Serif', serif" font-size="8.6" font-weight="bold" fill="#000" text-anchor="middle" textLength="10.4" lengthAdjust="spacingAndGlyphs" >0.6</text>
<text x="487.05" y="355.9" font-family="'Liberation Serif', serif" font-size="8.6" font-weight="bold" fill="#000" text-anchor="middle" textLength="10.4" lengthAdjust="spacingAndGlyphs" >1.2</text>
<text x="509.85" y="355.9" font-family="'Liberation Serif', serif" font-size="8.6" font-weight="bold" fill="#000" text-anchor="middle" textLength="10.4" lengthAdjust="spacingAndGlyphs" >2.4</text>
<rect x="570.15" y="246.39" width="16.10" height="96.81" fill="#000"/>
<line x1="578.20" y1="246.39" x2="578.20" y2="243.60" stroke="#000" stroke-width="1.2" />
<line x1="575.30" y1="243.60" x2="581.10" y2="243.60" stroke="#000" stroke-width="1.3" />
<line x1="578.20" y1="343.20" x2="578.20" y2="346.20" stroke="#000" stroke-width="1.2" />
<rect x="592.93" y="251.08" width="16.10" height="92.12" fill="#000"/>
<line x1="600.98" y1="251.08" x2="600.98" y2="247.59" stroke="#000" stroke-width="1.2" />
<line x1="598.08" y1="247.59" x2="603.88" y2="247.59" stroke="#000" stroke-width="1.3" />
<line x1="600.98" y1="343.20" x2="600.98" y2="346.20" stroke="#000" stroke-width="1.2" />
<rect x="615.71" y="277.30" width="16.10" height="65.90" fill="#000"/>
<line x1="623.76" y1="277.30" x2="623.76" y2="272.51" stroke="#000" stroke-width="1.2" />
<line x1="620.86" y1="272.51" x2="626.66" y2="272.51" stroke="#000" stroke-width="1.3" />
<line x1="623.76" y1="343.20" x2="623.76" y2="346.20" stroke="#000" stroke-width="1.2" />
<rect x="638.49" y="289.56" width="16.10" height="53.64" fill="#000"/>
<line x1="646.54" y1="289.56" x2="646.54" y2="285.97" stroke="#000" stroke-width="1.2" />
<line x1="643.64" y1="285.97" x2="649.44" y2="285.97" stroke="#000" stroke-width="1.3" />
<line x1="646.54" y1="343.20" x2="646.54" y2="346.20" stroke="#000" stroke-width="1.2" />
<rect x="661.27" y="330.74" width="16.10" height="12.46" fill="#000"/>
<line x1="669.32" y1="330.74" x2="669.32" y2="325.65" stroke="#000" stroke-width="1.2" />
<line x1="666.42" y1="325.65" x2="672.22" y2="325.65" stroke="#000" stroke-width="1.3" />
<line x1="669.32" y1="343.20" x2="669.32" y2="346.20" stroke="#000" stroke-width="1.2" />
<line x1="563.00" y1="222.96" x2="563.00" y2="343.80" stroke="#000" stroke-width="1.2" />
<line x1="560.20" y1="343.20" x2="685.00" y2="343.20" stroke="#000" stroke-width="1.2" />
<line x1="559.80" y1="343.20" x2="563.00" y2="343.20" stroke="#000" stroke-width="1.2" />
<text x="558.8" y="346.55" font-family="'Liberation Sans', sans-serif" font-size="9.9" font-weight="bold" fill="#000" text-anchor="end" textLength="3.5" lengthAdjust="spacingAndGlyphs" >0</text>
<line x1="559.80" y1="323.26" x2="563.00" y2="323.26" stroke="#000" stroke-width="1.2" />
<text x="558.8" y="326.61" font-family="'Liberation Sans', sans-serif" font-size="9.9" font-weight="bold" fill="#000" text-anchor="end" textLength="6.5" lengthAdjust="spacingAndGlyphs" >20</text>
<line x1="559.80" y1="303.32" x2="563.00" y2="303.32" stroke="#000" stroke-width="1.2" />
<text x="558.8" y="306.67" font-family="'Liberation Sans', sans-serif" font-size="9.9" font-weight="bold" fill="#000" text-anchor="end" textLength="6.5" lengthAdjust="spacingAndGlyphs" >40</text>
<line x1="559.80" y1="283.38" x2="563.00" y2="283.38" stroke="#000" stroke-width="1.2" />
<text x="558.8" y="286.73" font-family="'Liberation Sans', sans-serif" font-size="9.9" font-weight="bold" fill="#000" text-anchor="end" textLength="6.5" lengthAdjust="spacingAndGlyphs" >60</text>
<line x1="559.80" y1="263.44" x2="563.00" y2="263.44" stroke="#000" stroke-width="1.2" />
<text x="558.8" y="266.79" font-family="'Liberation Sans', sans-serif" font-size="9.9" font-weight="bold" fill="#000" text-anchor="end" textLength="6.5" lengthAdjust="spacingAndGlyphs" >80</text>
<line x1="559.80" y1="243.50" x2="563.00" y2="243.50" stroke="#000" stroke-width="1.2" />
<text x="558.8" y="246.85" font-family="'Liberation Sans', sans-serif" font-size="9.9" font-weight="bold" fill="#000" text-anchor="end" textLength="9.5" lengthAdjust="spacingAndGlyphs" >100</text>
<line x1="559.80" y1="223.56" x2="563.00" y2="223.56" stroke="#000" stroke-width="1.2" />
<text x="558.8" y="226.91" font-family="'Liberation Sans', sans-serif" font-size="9.9" font-weight="bold" fill="#000" text-anchor="end" textLength="9.5" lengthAdjust="spacingAndGlyphs" >120</text>
<text x="577.6" y="355.9" font-family="'Liberation Serif', serif" font-size="8.6" font-weight="bold" fill="#000" text-anchor="middle" textLength="3.6" lengthAdjust="spacingAndGlyphs" >0</text>
<text x="600.4" y="355.9" font-family="'Liberation Serif', serif" font-size="8.6" font-weight="bold" fill="#000" text-anchor="middle" textLength="10.4" lengthAdjust="spacingAndGlyphs" >0.3</text>
<text x="623.1" y="355.9" font-family="'Liberation Serif', serif" font-size="8.6" font-weight="bold" fill="#000" text-anchor="middle" textLength="10.4" lengthAdjust="spacingAndGlyphs" >0.6</text>
<text x="645.8" y="355.9" font-family="'Liberation Serif', serif" font-size="8.6" font-weight="bold" fill="#000" text-anchor="middle" textLength="10.4" lengthAdjust="spacingAndGlyphs" >1.2</text>
<text x="669.0" y="355.9" font-family="'Liberation Serif', serif" font-size="8.6" font-weight="bold" fill="#000" text-anchor="middle" textLength="10.4" lengthAdjust="spacingAndGlyphs" >2.4</text>
<text x="439.5" y="224.6" font-family="'Liberation Serif', serif" font-size="12" font-weight="bold" fill="#000" text-anchor="start" textLength="31" lengthAdjust="spacingAndGlyphs" >A2780</text>
<text x="609.0" y="222.0" font-family="'Liberation Serif', serif" font-size="11.8" font-weight="bold" fill="#000" text-anchor="start" textLength="37.5" lengthAdjust="spacingAndGlyphs" >SKOV3</text>
<text transform="translate(386.8,340.5) rotate(-90)" font-family="'Liberation Serif', serif" font-size="10.0" font-weight="bold" textLength="111.4" lengthAdjust="spacingAndGlyphs">Colony formation rate(%)</text>
<text transform="translate(547.4,338.9) rotate(-90)" font-family="'Liberation Serif', serif" font-size="10.0" font-weight="bold" textLength="111.5" lengthAdjust="spacingAndGlyphs">Colony formation rate(%)</text>
<text x="445.7" y="366.9" font-family="'Liberation Serif', serif" font-size="8.8" font-weight="bold" fill="#000" text-anchor="start" textLength="36.4" lengthAdjust="spacingAndGlyphs" >Pae (mM)</text>
<text x="605.1" y="366.9" font-family="'Liberation Serif', serif" font-size="8.8" font-weight="bold" fill="#000" text-anchor="start" textLength="36.6" lengthAdjust="spacingAndGlyphs" >Pae (mM)</text>
<text x="464.9" y="261.333" font-family="'Liberation Sans', sans-serif" font-size="6.6" font-weight="bold" fill="#000" text-anchor="middle" >*</text>
<text x="485.0" y="280.233" font-family="'Liberation Sans', sans-serif" font-size="6.6" font-weight="bold" fill="#000" text-anchor="middle" >*</text>
<text x="487.95" y="280.233" font-family="'Liberation Sans', sans-serif" font-size="6.6" font-weight="bold" fill="#000" text-anchor="middle" >*</text>
<text x="490.9" y="280.233" font-family="'Liberation Sans', sans-serif" font-size="6.6" font-weight="bold" fill="#000" text-anchor="middle" >*</text>
<text x="507.9" y="325.13300000000004" font-family="'Liberation Sans', sans-serif" font-size="6.6" font-weight="bold" fill="#000" text-anchor="middle" >*</text>
<text x="510.85" y="325.13300000000004" font-family="'Liberation Sans', sans-serif" font-size="6.6" font-weight="bold" fill="#000" text-anchor="middle" >*</text>
<text x="513.8" y="325.13300000000004" font-family="'Liberation Sans', sans-serif" font-size="6.6" font-weight="bold" fill="#000" text-anchor="middle" >*</text>
<text x="621.2" y="271.63300000000004" font-family="'Liberation Sans', sans-serif" font-size="6.6" font-weight="bold" fill="#000" text-anchor="middle" >*</text>
<text x="623.9" y="271.63300000000004" font-family="'Liberation Sans', sans-serif" font-size="6.6" font-weight="bold" fill="#000" text-anchor="middle" >*</text>
<text x="626.6" y="271.63300000000004" font-family="'Liberation Sans', sans-serif" font-size="6.6" font-weight="bold" fill="#000" text-anchor="middle" >*</text>
<text x="644.2" y="285.93300000000005" font-family="'Liberation Sans', sans-serif" font-size="6.6" font-weight="bold" fill="#000" text-anchor="middle" >*</text>
<text x="646.95" y="285.93300000000005" font-family="'Liberation Sans', sans-serif" font-size="6.6" font-weight="bold" fill="#000" text-anchor="middle" >*</text>
<text x="649.7" y="285.93300000000005" font-family="'Liberation Sans', sans-serif" font-size="6.6" font-weight="bold" fill="#000" text-anchor="middle" >*</text>
<text x="666.5" y="326.233" font-family="'Liberation Sans', sans-serif" font-size="6.6" font-weight="bold" fill="#000" text-anchor="middle" >*</text>
<text x="669.45" y="326.233" font-family="'Liberation Sans', sans-serif" font-size="6.6" font-weight="bold" fill="#000" text-anchor="middle" >*</text>
<text x="672.4" y="326.233" font-family="'Liberation Sans', sans-serif" font-size="6.6" font-weight="bold" fill="#000" text-anchor="middle" >*</text>
</svg>
</body></html>
